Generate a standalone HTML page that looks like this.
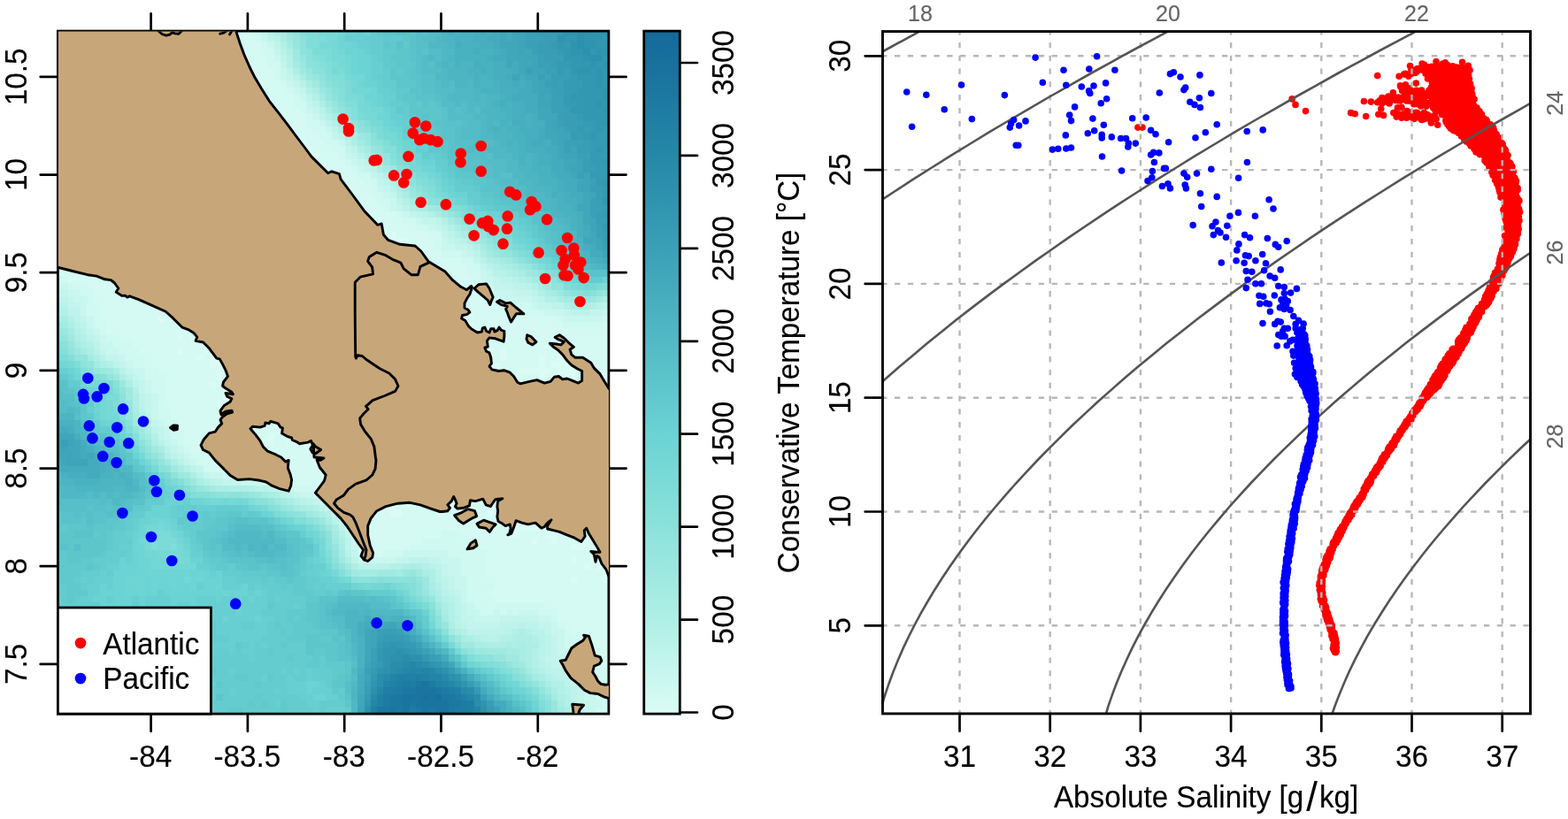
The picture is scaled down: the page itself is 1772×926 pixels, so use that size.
<!DOCTYPE html>
<html lang="en"><head><meta charset="utf-8"><title>Stations map and T-S diagram</title>
<style>html,body{margin:0;padding:0;background:#fff}body{width:1772px;height:926px;overflow:hidden}svg{display:block}</style></head>
<body>
<svg width="1772" height="926" viewBox="0 0 1772 926" font-family="'Liberation Sans', Arial, sans-serif">
<rect width="1772" height="926" fill="#fff"/>
<defs><clipPath id="mc"><rect x="65.4" y="35.1" width="622.5" height="772.0"/></clipPath><clipPath id="lc"><rect x="65.95" y="35.45" width="622.05" height="771.15"/></clipPath><clipPath id="tc"><rect x="997.45" y="35.55" width="732.05" height="771.35"/></clipPath><linearGradient id="cb" x1="0" y1="1" x2="0" y2="0"><stop offset="0.0000" stop-color="rgb(218,252,245)"/><stop offset="0.1362" stop-color="rgb(176,239,230)"/><stop offset="0.2724" stop-color="rgb(140,226,219)"/><stop offset="0.4086" stop-color="rgb(107,211,211)"/><stop offset="0.5448" stop-color="rgb(81,186,197)"/><stop offset="0.6810" stop-color="rgb(58,160,183)"/><stop offset="0.8172" stop-color="rgb(37,136,168)"/><stop offset="0.9534" stop-color="rgb(24,112,157)"/><stop offset="1.0000" stop-color="rgb(20,106,154)"/></linearGradient></defs>
<g clip-path="url(#mc)" shape-rendering="crispEdges">
<rect x="65.4" y="35.1" width="622.5" height="772.0" fill="#d6fbf4"/>
<path fill="#dafcf5" d="M258.4 32.1h7.6v7.7h-7.6zM61.7 39.5h7.6v7.7h-7.6zM61.7 46.8h7.6v7.7h-7.6zM265.7 54.2h7.6v7.7h-7.6zM273 61.6h7.6v7.7h-7.6zM273 69h7.6v7.7h-7.6zM61.7 76.4h7.6v7.7h-7.6zM61.7 83.7h7.6v7.7h-7.6zM280.3 83.7h7.6v7.7h-7.6zM61.7 91.1h7.6v7.7h-7.6zM287.6 91.1h7.6v7.7h-7.6zM61.7 98.5h7.6v7.7h-7.6zM61.7 105.9h7.6v7.7h-7.6zM294.9 105.9h7.6v7.7h-7.6zM61.7 113.2h7.6v7.7h-7.6zM302.2 113.2h7.6v7.7h-7.6zM61.7 128h7.6v7.7h-7.6zM309.5 128h7.6v7.7h-7.6zM61.7 135.4h7.6v7.7h-7.6zM316.7 135.4h7.6v7.7h-7.6zM61.7 150.1h7.6v7.7h-7.6zM324 150.1h7.6v7.7h-7.6zM61.7 157.5h7.6v7.7h-7.6zM331.3 157.5h14.9v7.7h-14.9zM338.6 164.9h14.9v7.7h-14.9zM61.7 172.3h7.6v7.7h-7.6zM353.2 172.3h7.6v7.7h-7.6zM61.7 179.6h7.6v7.7h-7.6zM345.9 179.6h14.9v7.7h-14.9zM61.7 187h7.6v7.7h-7.6zM61.7 194.4h7.6v7.7h-7.6zM360.5 194.4h7.6v7.7h-7.6zM61.7 216.5h7.6v7.7h-7.6zM61.7 223.9h7.6v7.7h-7.6zM61.7 231.3h7.6v7.7h-7.6zM61.7 253.4h7.6v7.7h-7.6zM418.8 253.4h7.6v7.7h-7.6zM61.7 260.8h7.6v7.7h-7.6zM426.1 260.8h22.2v7.7h-22.2zM440.6 268.2h22.2v7.7h-22.2zM61.7 275.5h7.6v7.7h-7.6zM455.2 275.5h7.6v7.7h-7.6zM61.7 282.9h7.6v7.7h-7.6zM469.8 282.9h7.6v7.7h-7.6zM105.4 305h14.9v7.7h-14.9zM127.3 312.4h7.6v7.7h-7.6zM127.3 319.8h14.9v7.7h-14.9zM513.5 319.8h7.6v7.7h-7.6zM134.6 327.2h22.2v7.7h-22.2zM171 341.9h14.9v7.7h-14.9zM520.8 341.9h7.6v7.7h-7.6zM185.6 349.3h7.6v7.7h-7.6zM520.8 349.3h14.9v7.7h-14.9zM178.3 356.7h7.6v7.7h-7.6zM200.2 356.7h7.6v7.7h-7.6zM520.8 356.7h7.6v7.7h-7.6zM200.2 364.1h7.6v7.7h-7.6zM520.8 364.1h14.9v7.7h-14.9zM528.1 371.4h29.4v7.7h-29.4zM200.2 378.8h7.6v7.7h-7.6zM214.7 378.8h22.2v7.7h-22.2zM542.6 378.8h7.6v7.7h-7.6zM557.2 378.8h7.6v7.7h-7.6zM622.8 378.8h7.6v7.7h-7.6zM542.6 386.2h7.6v7.7h-7.6zM615.5 386.2h22.2v7.7h-22.2zM200.2 393.6h7.6v7.7h-7.6zM229.3 393.6h7.6v7.7h-7.6zM542.6 393.6h14.9v7.7h-14.9zM564.5 393.6h7.6v7.7h-7.6zM630.1 393.6h7.6v7.7h-7.6zM222 400.9h7.6v7.7h-7.6zM236.6 400.9h22.2v7.7h-22.2zM549.9 400.9h7.6v7.7h-7.6zM564.5 400.9h7.6v7.7h-7.6zM608.2 400.9h7.6v7.7h-7.6zM630.1 400.9h7.6v7.7h-7.6zM651.9 400.9h7.6v7.7h-7.6zM236.6 408.3h22.2v7.7h-22.2zM557.2 408.3h7.6v7.7h-7.6zM608.2 408.3h7.6v7.7h-7.6zM622.8 408.3h29.4v7.7h-29.4zM243.9 415.7h14.9v7.7h-14.9zM549.9 415.7h22.2v7.7h-22.2zM586.4 415.7h36.7v7.7h-36.7zM630.1 415.7h22.2v7.7h-22.2zM681.1 415.7h7.6v7.7h-7.6zM243.9 423.1h7.6v7.7h-7.6zM258.4 423.1h7.6v7.7h-7.6zM571.8 423.1h14.9v7.7h-14.9zM608.2 423.1h7.6v7.7h-7.6zM622.8 423.1h7.6v7.7h-7.6zM637.4 423.1h14.9v7.7h-14.9zM681.1 423.1h7.6v7.7h-7.6zM236.6 430.4h7.6v7.7h-7.6zM579.1 430.4h22.2v7.7h-22.2zM615.5 430.4h14.9v7.7h-14.9zM637.4 430.4h7.6v7.7h-7.6zM681.1 430.4h7.6v7.7h-7.6zM251.2 437.8h7.6v7.7h-7.6zM251.2 445.2h14.9v7.7h-14.9zM243.9 452.6h22.2v7.7h-22.2zM258.4 460h7.6v7.7h-7.6zM243.9 467.3h22.2v7.7h-22.2zM280.3 474.7h7.6v7.7h-7.6zM309.5 474.7h14.9v7.7h-14.9zM236.6 482.1h14.9v7.7h-14.9zM280.3 482.1h7.6v7.7h-7.6zM309.5 482.1h14.9v7.7h-14.9zM236.6 489.5h7.6v7.7h-7.6zM287.6 489.5h7.6v7.7h-7.6zM302.2 489.5h7.6v7.7h-7.6zM331.3 489.5h7.6v7.7h-7.6zM294.9 496.8h14.9v7.7h-14.9zM324 496.8h36.7v7.7h-36.7zM345.9 504.2h14.9v7.7h-14.9zM353.2 511.6h14.9v7.7h-14.9zM353.2 519h14.9v7.7h-14.9zM360.5 533.7h14.9v7.7h-14.9zM506.2 555.9h14.9v7.7h-14.9zM542.6 555.9h7.6v7.7h-7.6zM557.2 555.9h14.9v7.7h-14.9zM433.3 563.2h51.3v7.7h-51.3zM498.9 563.2h14.9v7.7h-14.9zM528.1 563.2h29.4v7.7h-29.4zM564.5 563.2h7.6v7.7h-7.6zM426.1 570.6h22.2v7.7h-22.2zM528.1 570.6h7.6v7.7h-7.6zM549.9 570.6h14.9v7.7h-14.9zM418.8 578h7.6v7.7h-7.6zM440.6 578h14.9v7.7h-14.9zM491.6 578h7.6v7.7h-7.6zM549.9 578h7.6v7.7h-7.6zM557.2 585.4h51.3v7.7h-51.3zM615.5 585.4h14.9v7.7h-14.9zM579.1 592.7h29.4v7.7h-29.4zM622.8 592.7h14.9v7.7h-14.9zM659.2 592.7h7.6v7.7h-7.6zM579.1 600.1h7.6v7.7h-7.6zM615.5 600.1h14.9v7.7h-14.9zM644.7 600.1h14.9v7.7h-14.9zM600.9 607.5h7.6v7.7h-7.6zM622.8 607.5h7.6v7.7h-7.6zM659.2 607.5h7.6v7.7h-7.6zM673.8 607.5h7.6v7.7h-7.6zM644.7 614.9h22.2v7.7h-22.2zM644.7 629.6h7.6v7.7h-7.6zM666.5 629.6h7.6v7.7h-7.6zM659.2 637h7.6v7.7h-7.6zM673.8 637h7.6v7.7h-7.6zM681.1 644.4h7.6v7.7h-7.6zM644.7 651.8h7.6v7.7h-7.6zM681.1 651.8h7.6v7.7h-7.6z"/>
<path fill="#d4faf3" d="M61.7 32.1h7.6v7.7h-7.6zM265.7 32.1h22.2v7.7h-22.2zM265.7 39.5h22.2v7.7h-22.2zM265.7 46.8h29.4v7.7h-29.4zM61.7 54.2h7.6v7.7h-7.6zM273 54.2h22.2v7.7h-22.2zM61.7 61.6h7.6v7.7h-7.6zM280.3 61.6h22.2v7.7h-22.2zM61.7 69h7.6v7.7h-7.6zM280.3 69h22.2v7.7h-22.2zM280.3 76.4h29.4v7.7h-29.4zM287.6 83.7h22.2v7.7h-22.2zM294.9 91.1h22.2v7.7h-22.2zM287.6 98.5h36.7v7.7h-36.7zM302.2 105.9h29.4v7.7h-29.4zM294.9 113.2h7.6v7.7h-7.6zM309.5 113.2h22.2v7.7h-22.2zM61.7 120.6h7.6v7.7h-7.6zM302.2 120.6h36.7v7.7h-36.7zM316.7 128h29.4v7.7h-29.4zM324 135.4h22.2v7.7h-22.2zM61.7 142.7h7.6v7.7h-7.6zM324 142.7h29.4v7.7h-29.4zM331.3 150.1h29.4v7.7h-29.4zM345.9 157.5h22.2v7.7h-22.2zM61.7 164.9h7.6v7.7h-7.6zM353.2 164.9h22.2v7.7h-22.2zM345.9 172.3h7.6v7.7h-7.6zM360.5 172.3h22.2v7.7h-22.2zM360.5 179.6h29.4v7.7h-29.4zM353.2 187h44v7.7h-44zM367.8 194.4h36.7v7.7h-36.7zM61.7 201.8h7.6v7.7h-7.6zM382.3 201.8h29.4v7.7h-29.4zM61.7 209.1h7.6v7.7h-7.6zM382.3 209.1h36.7v7.7h-36.7zM389.6 216.5h29.4v7.7h-29.4zM396.9 223.9h29.4v7.7h-29.4zM404.2 231.3h29.4v7.7h-29.4zM61.7 238.6h7.6v7.7h-7.6zM404.2 238.6h44v7.7h-44zM61.7 246h7.6v7.7h-7.6zM411.5 246h44v7.7h-44zM426.1 253.4h44v7.7h-44zM447.9 260.8h36.7v7.7h-36.7zM61.7 268.2h7.6v7.7h-7.6zM433.3 268.2h7.6v7.7h-7.6zM462.5 268.2h29.4v7.7h-29.4zM440.6 275.5h14.9v7.7h-14.9zM462.5 275.5h29.4v7.7h-29.4zM477.1 282.9h22.2v7.7h-22.2zM61.7 290.3h7.6v7.7h-7.6zM477.1 290.3h44v7.7h-44zM61.7 297.7h22.2v7.7h-22.2zM484.3 297.7h44v7.7h-44zM61.7 305h44v7.7h-44zM491.6 305h36.7v7.7h-36.7zM76.3 312.4h51.3v7.7h-51.3zM498.9 312.4h36.7v7.7h-36.7zM98.1 319.8h29.4v7.7h-29.4zM506.2 319.8h7.6v7.7h-7.6zM520.8 319.8h22.2v7.7h-22.2zM105.4 327.2h29.4v7.7h-29.4zM520.8 327.2h22.2v7.7h-22.2zM105.4 334.5h65.9v7.7h-65.9zM520.8 334.5h29.4v7.7h-29.4zM112.7 341.9h58.6v7.7h-58.6zM528.1 341.9h29.4v7.7h-29.4zM112.7 349.3h73.2v7.7h-73.2zM192.9 349.3h7.6v7.7h-7.6zM535.4 349.3h58.6v7.7h-58.6zM112.7 356.7h65.9v7.7h-65.9zM185.6 356.7h14.9v7.7h-14.9zM513.5 356.7h7.6v7.7h-7.6zM528.1 356.7h102.3v7.7h-102.3zM120 364.1h80.5v7.7h-80.5zM207.4 364.1h7.6v7.7h-7.6zM535.4 364.1h102.3v7.7h-102.3zM681.1 364.1h7.6v7.7h-7.6zM120 371.4h109.6v7.7h-109.6zM557.2 371.4h131.5v7.7h-131.5zM134.6 378.8h65.9v7.7h-65.9zM207.4 378.8h7.6v7.7h-7.6zM549.9 378.8h7.6v7.7h-7.6zM564.5 378.8h58.6v7.7h-58.6zM630.1 378.8h58.6v7.7h-58.6zM149.1 386.2h95v7.7h-95zM549.9 386.2h65.9v7.7h-65.9zM637.4 386.2h51.3v7.7h-51.3zM156.4 393.6h44v7.7h-44zM207.4 393.6h22.2v7.7h-22.2zM236.6 393.6h7.6v7.7h-7.6zM557.2 393.6h7.6v7.7h-7.6zM571.8 393.6h58.6v7.7h-58.6zM637.4 393.6h51.3v7.7h-51.3zM163.7 400.9h58.6v7.7h-58.6zM229.3 400.9h7.6v7.7h-7.6zM557.2 400.9h7.6v7.7h-7.6zM571.8 400.9h36.7v7.7h-36.7zM615.5 400.9h14.9v7.7h-14.9zM637.4 400.9h14.9v7.7h-14.9zM659.2 400.9h29.4v7.7h-29.4zM171 408.3h65.9v7.7h-65.9zM549.9 408.3h7.6v7.7h-7.6zM564.5 408.3h44v7.7h-44zM615.5 408.3h7.6v7.7h-7.6zM651.9 408.3h36.7v7.7h-36.7zM178.3 415.7h65.9v7.7h-65.9zM571.8 415.7h14.9v7.7h-14.9zM622.8 415.7h7.6v7.7h-7.6zM651.9 415.7h7.6v7.7h-7.6zM666.5 415.7h14.9v7.7h-14.9zM185.6 423.1h58.6v7.7h-58.6zM251.2 423.1h7.6v7.7h-7.6zM586.4 423.1h22.2v7.7h-22.2zM615.5 423.1h7.6v7.7h-7.6zM630.1 423.1h7.6v7.7h-7.6zM651.9 423.1h7.6v7.7h-7.6zM673.8 423.1h7.6v7.7h-7.6zM185.6 430.4h51.3v7.7h-51.3zM243.9 430.4h14.9v7.7h-14.9zM600.9 430.4h14.9v7.7h-14.9zM644.7 430.4h14.9v7.7h-14.9zM673.8 430.4h7.6v7.7h-7.6zM185.6 437.8h65.9v7.7h-65.9zM258.4 437.8h7.6v7.7h-7.6zM681.1 437.8h7.6v7.7h-7.6zM185.6 445.2h65.9v7.7h-65.9zM185.6 452.6h58.6v7.7h-58.6zM192.9 460h65.9v7.7h-65.9zM192.9 467.3h51.3v7.7h-51.3zM200.2 474.7h58.6v7.7h-58.6zM287.6 474.7h22.2v7.7h-22.2zM200.2 482.1h36.7v7.7h-36.7zM287.6 482.1h22.2v7.7h-22.2zM207.4 489.5h29.4v7.7h-29.4zM243.9 489.5h7.6v7.7h-7.6zM280.3 489.5h7.6v7.7h-7.6zM294.9 489.5h7.6v7.7h-7.6zM309.5 489.5h22.2v7.7h-22.2zM207.4 496.8h29.4v7.7h-29.4zM287.6 496.8h7.6v7.7h-7.6zM309.5 496.8h14.9v7.7h-14.9zM214.7 504.2h29.4v7.7h-29.4zM294.9 504.2h51.3v7.7h-51.3zM229.3 511.6h14.9v7.7h-14.9zM294.9 511.6h58.6v7.7h-58.6zM229.3 519h22.2v7.7h-22.2zM316.7 519h36.7v7.7h-36.7zM243.9 526.3h22.2v7.7h-22.2zM316.7 526.3h51.3v7.7h-51.3zM273 533.7h22.2v7.7h-22.2zM324 533.7h36.7v7.7h-36.7zM324 541.1h51.3v7.7h-51.3zM353.2 548.5h14.9v7.7h-14.9zM513.5 563.2h7.6v7.7h-7.6zM557.2 563.2h7.6v7.7h-7.6zM418.8 570.6h7.6v7.7h-7.6zM447.9 570.6h80.5v7.7h-80.5zM535.4 570.6h14.9v7.7h-14.9zM411.5 578h7.6v7.7h-7.6zM426.1 578h14.9v7.7h-14.9zM455.2 578h36.7v7.7h-36.7zM498.9 578h51.3v7.7h-51.3zM557.2 578h7.6v7.7h-7.6zM411.5 585.4h146v7.7h-146zM608.2 585.4h7.6v7.7h-7.6zM411.5 592.7h167.9v7.7h-167.9zM608.2 592.7h14.9v7.7h-14.9zM651.9 592.7h7.6v7.7h-7.6zM411.5 600.1h87.7v7.7h-87.7zM520.8 600.1h58.6v7.7h-58.6zM586.4 600.1h29.4v7.7h-29.4zM630.1 600.1h14.9v7.7h-14.9zM659.2 600.1h14.9v7.7h-14.9zM411.5 607.5h65.9v7.7h-65.9zM535.4 607.5h65.9v7.7h-65.9zM608.2 607.5h14.9v7.7h-14.9zM630.1 607.5h29.4v7.7h-29.4zM666.5 607.5h7.6v7.7h-7.6zM411.5 614.9h51.3v7.7h-51.3zM542.6 614.9h102.3v7.7h-102.3zM666.5 614.9h14.9v7.7h-14.9zM411.5 622.2h22.2v7.7h-22.2zM549.9 622.2h131.5v7.7h-131.5zM549.9 629.6h95v7.7h-95zM651.9 629.6h14.9v7.7h-14.9zM673.8 629.6h14.9v7.7h-14.9zM549.9 637h109.6v7.7h-109.6zM666.5 637h7.6v7.7h-7.6zM681.1 637h7.6v7.7h-7.6zM549.9 644.4h131.5v7.7h-131.5zM549.9 651.8h95v7.7h-95zM651.9 651.8h29.4v7.7h-29.4zM557.2 659.1h131.5v7.7h-131.5zM549.9 666.5h138.8v7.7h-138.8zM557.2 673.9h131.5v7.7h-131.5zM615.5 681.3h73.2v7.7h-73.2zM630.1 688.6h58.6v7.7h-58.6zM630.1 696h58.6v7.7h-58.6zM637.4 703.4h51.3v7.7h-51.3zM644.7 710.8h44v7.7h-44zM651.9 718.2h36.7v7.7h-36.7zM651.9 725.5h36.7v7.7h-36.7zM666.5 732.9h22.2v7.7h-22.2zM666.5 740.3h22.2v7.7h-22.2zM673.8 747.7h14.9v7.7h-14.9z"/>
<path fill="#cff9f1" d="M287.6 32.1h7.6v7.7h-7.6zM287.6 39.5h7.6v7.7h-7.6zM294.9 46.8h7.6v7.7h-7.6zM294.9 54.2h14.9v7.7h-14.9zM302.2 61.6h7.6v7.7h-7.6zM302.2 69h14.9v7.7h-14.9zM309.5 76.4h7.6v7.7h-7.6zM309.5 83.7h7.6v7.7h-7.6zM316.7 91.1h7.6v7.7h-7.6zM324 98.5h7.6v7.7h-7.6zM331.3 105.9h7.6v7.7h-7.6zM331.3 113.2h14.9v7.7h-14.9zM338.6 120.6h7.6v7.7h-7.6zM345.9 128h7.6v7.7h-7.6zM345.9 135.4h14.9v7.7h-14.9zM353.2 142.7h14.9v7.7h-14.9zM360.5 150.1h14.9v7.7h-14.9zM367.8 157.5h14.9v7.7h-14.9zM375 164.9h14.9v7.7h-14.9zM382.3 172.3h7.6v7.7h-7.6zM389.6 179.6h7.6v7.7h-7.6zM396.9 187h7.6v7.7h-7.6zM404.2 194.4h14.9v7.7h-14.9zM411.5 201.8h14.9v7.7h-14.9zM418.8 209.1h7.6v7.7h-7.6zM418.8 216.5h14.9v7.7h-14.9zM426.1 223.9h14.9v7.7h-14.9zM433.3 231.3h7.6v7.7h-7.6zM447.9 238.6h7.6v7.7h-7.6zM455.2 246h14.9v7.7h-14.9zM469.8 253.4h14.9v7.7h-14.9zM484.3 260.8h14.9v7.7h-14.9zM491.6 268.2h7.6v7.7h-7.6zM491.6 275.5h7.6v7.7h-7.6zM498.9 282.9h22.2v7.7h-22.2zM520.8 290.3h14.9v7.7h-14.9zM528.1 297.7h14.9v7.7h-14.9zM528.1 305h14.9v7.7h-14.9zM69 312.4h7.6v7.7h-7.6zM535.4 312.4h7.6v7.7h-7.6zM76.3 319.8h22.2v7.7h-22.2zM542.6 319.8h7.6v7.7h-7.6zM90.8 327.2h14.9v7.7h-14.9zM542.6 327.2h14.9v7.7h-14.9zM98.1 334.5h7.6v7.7h-7.6zM549.9 334.5h14.9v7.7h-14.9zM98.1 341.9h14.9v7.7h-14.9zM557.2 341.9h44v7.7h-44zM98.1 349.3h14.9v7.7h-14.9zM593.7 349.3h22.2v7.7h-22.2zM105.4 356.7h7.6v7.7h-7.6zM630.1 356.7h7.6v7.7h-7.6zM681.1 356.7h7.6v7.7h-7.6zM105.4 364.1h14.9v7.7h-14.9zM637.4 364.1h44v7.7h-44zM112.7 371.4h7.6v7.7h-7.6zM120 378.8h14.9v7.7h-14.9zM127.3 386.2h22.2v7.7h-22.2zM134.6 393.6h22.2v7.7h-22.2zM141.9 400.9h22.2v7.7h-22.2zM149.1 408.3h22.2v7.7h-22.2zM163.7 415.7h14.9v7.7h-14.9zM163.7 423.1h22.2v7.7h-22.2zM171 430.4h14.9v7.7h-14.9zM171 437.8h14.9v7.7h-14.9zM178.3 445.2h7.6v7.7h-7.6zM178.3 452.6h7.6v7.7h-7.6zM178.3 460h14.9v7.7h-14.9zM178.3 467.3h14.9v7.7h-14.9zM185.6 474.7h14.9v7.7h-14.9zM192.9 482.1h7.6v7.7h-7.6zM192.9 489.5h14.9v7.7h-14.9zM200.2 496.8h7.6v7.7h-7.6zM207.4 504.2h7.6v7.7h-7.6zM214.7 511.6h14.9v7.7h-14.9zM222 519h7.6v7.7h-7.6zM229.3 526.3h14.9v7.7h-14.9zM251.2 533.7h22.2v7.7h-22.2zM294.9 541.1h22.2v7.7h-22.2zM331.3 548.5h22.2v7.7h-22.2zM353.2 555.9h14.9v7.7h-14.9zM367.8 563.2h7.6v7.7h-7.6zM375 570.6h7.6v7.7h-7.6zM382.3 578h7.6v7.7h-7.6zM389.6 585.4h7.6v7.7h-7.6zM396.9 592.7h7.6v7.7h-7.6zM396.9 600.1h7.6v7.7h-7.6zM498.9 600.1h22.2v7.7h-22.2zM404.2 607.5h7.6v7.7h-7.6zM477.1 607.5h58.6v7.7h-58.6zM404.2 614.9h7.6v7.7h-7.6zM462.5 614.9h80.5v7.7h-80.5zM404.2 622.2h7.6v7.7h-7.6zM433.3 622.2h22.2v7.7h-22.2zM506.2 622.2h44v7.7h-44zM520.8 629.6h29.4v7.7h-29.4zM520.8 637h29.4v7.7h-29.4zM520.8 644.4h29.4v7.7h-29.4zM528.1 651.8h22.2v7.7h-22.2zM528.1 659.1h29.4v7.7h-29.4zM528.1 666.5h22.2v7.7h-22.2zM528.1 673.9h29.4v7.7h-29.4zM535.4 681.3h80.5v7.7h-80.5zM542.6 688.6h14.9v7.7h-14.9zM564.5 688.6h7.6v7.7h-7.6zM579.1 688.6h7.6v7.7h-7.6zM608.2 688.6h22.2v7.7h-22.2zM622.8 696h7.6v7.7h-7.6zM630.1 703.4h7.6v7.7h-7.6zM637.4 710.8h7.6v7.7h-7.6zM637.4 718.2h14.9v7.7h-14.9zM637.4 725.5h14.9v7.7h-14.9zM644.7 732.9h7.6v7.7h-7.6zM666.5 747.7h7.6v7.7h-7.6zM666.5 755h22.2v7.7h-22.2zM666.5 762.4h22.2v7.7h-22.2zM673.8 769.8h14.9v7.7h-14.9zM673.8 777.2h7.6v7.7h-7.6zM673.8 784.5h14.9v7.7h-14.9zM681.1 791.9h7.6v7.7h-7.6zM673.8 799.3h14.9v7.7h-14.9zM673.8 806.7h14.9v7.7h-14.9z"/>
<path fill="#c9f7ef" d="M294.9 39.5h7.6v7.7h-7.6zM302.2 46.8h7.6v7.7h-7.6zM309.5 61.6h7.6v7.7h-7.6zM316.7 76.4h7.6v7.7h-7.6zM316.7 83.7h7.6v7.7h-7.6zM324 91.1h7.6v7.7h-7.6zM331.3 98.5h7.6v7.7h-7.6zM338.6 105.9h7.6v7.7h-7.6zM345.9 120.6h7.6v7.7h-7.6zM353.2 128h7.6v7.7h-7.6zM360.5 135.4h7.6v7.7h-7.6zM367.8 142.7h7.6v7.7h-7.6zM382.3 157.5h7.6v7.7h-7.6zM389.6 172.3h7.6v7.7h-7.6zM396.9 179.6h7.6v7.7h-7.6zM404.2 187h7.6v7.7h-7.6zM426.1 209.1h7.6v7.7h-7.6zM433.3 216.5h7.6v7.7h-7.6zM440.6 223.9h7.6v7.7h-7.6zM440.6 231.3h7.6v7.7h-7.6zM455.2 238.6h7.6v7.7h-7.6zM469.8 246h7.6v7.7h-7.6zM484.3 253.4h7.6v7.7h-7.6zM498.9 268.2h7.6v7.7h-7.6zM498.9 275.5h14.9v7.7h-14.9zM520.8 282.9h7.6v7.7h-7.6zM542.6 305h7.6v7.7h-7.6zM61.7 312.4h7.6v7.7h-7.6zM542.6 312.4h14.9v7.7h-14.9zM69 319.8h7.6v7.7h-7.6zM549.9 319.8h7.6v7.7h-7.6zM76.3 327.2h14.9v7.7h-14.9zM557.2 327.2h22.2v7.7h-22.2zM83.6 334.5h14.9v7.7h-14.9zM564.5 334.5h36.7v7.7h-36.7zM90.8 341.9h7.6v7.7h-7.6zM600.9 341.9h7.6v7.7h-7.6zM90.8 349.3h7.6v7.7h-7.6zM615.5 349.3h22.2v7.7h-22.2zM681.1 349.3h7.6v7.7h-7.6zM98.1 356.7h7.6v7.7h-7.6zM637.4 356.7h44v7.7h-44zM98.1 364.1h7.6v7.7h-7.6zM105.4 371.4h7.6v7.7h-7.6zM112.7 378.8h7.6v7.7h-7.6zM112.7 386.2h14.9v7.7h-14.9zM120 393.6h14.9v7.7h-14.9zM134.6 400.9h7.6v7.7h-7.6zM141.9 408.3h7.6v7.7h-7.6zM149.1 415.7h14.9v7.7h-14.9zM156.4 423.1h7.6v7.7h-7.6zM163.7 430.4h7.6v7.7h-7.6zM163.7 437.8h7.6v7.7h-7.6zM171 445.2h7.6v7.7h-7.6zM171 452.6h7.6v7.7h-7.6zM171 460h7.6v7.7h-7.6zM171 467.3h7.6v7.7h-7.6zM178.3 474.7h7.6v7.7h-7.6zM185.6 482.1h7.6v7.7h-7.6zM185.6 489.5h7.6v7.7h-7.6zM192.9 496.8h7.6v7.7h-7.6zM200.2 504.2h7.6v7.7h-7.6zM207.4 511.6h7.6v7.7h-7.6zM214.7 519h7.6v7.7h-7.6zM236.6 533.7h14.9v7.7h-14.9zM273 541.1h22.2v7.7h-22.2zM316.7 548.5h14.9v7.7h-14.9zM338.6 555.9h14.9v7.7h-14.9zM360.5 563.2h7.6v7.7h-7.6zM382.3 585.4h7.6v7.7h-7.6zM389.6 592.7h7.6v7.7h-7.6zM396.9 607.5h7.6v7.7h-7.6zM396.9 614.9h7.6v7.7h-7.6zM455.2 622.2h51.3v7.7h-51.3zM404.2 629.6h44v7.7h-44zM498.9 629.6h22.2v7.7h-22.2zM506.2 637h14.9v7.7h-14.9zM506.2 644.4h14.9v7.7h-14.9zM513.5 651.8h14.9v7.7h-14.9zM513.5 659.1h14.9v7.7h-14.9zM520.8 666.5h7.6v7.7h-7.6zM520.8 673.9h7.6v7.7h-7.6zM528.1 681.3h7.6v7.7h-7.6zM528.1 688.6h14.9v7.7h-14.9zM557.2 688.6h7.6v7.7h-7.6zM571.8 688.6h7.6v7.7h-7.6zM586.4 688.6h22.2v7.7h-22.2zM535.4 696h29.4v7.7h-29.4zM608.2 696h14.9v7.7h-14.9zM622.8 703.4h7.6v7.7h-7.6zM622.8 710.8h14.9v7.7h-14.9zM630.1 718.2h7.6v7.7h-7.6zM630.1 725.5h7.6v7.7h-7.6zM630.1 732.9h14.9v7.7h-14.9zM637.4 740.3h7.6v7.7h-7.6zM659.2 769.8h7.6v7.7h-7.6zM659.2 777.2h14.9v7.7h-14.9zM659.2 784.5h14.9v7.7h-14.9zM666.5 791.9h14.9v7.7h-14.9zM666.5 799.3h7.6v7.7h-7.6zM666.5 806.7h7.6v7.7h-7.6z"/>
<path fill="#c4f5ed" d="M294.9 32.1h7.6v7.7h-7.6zM309.5 54.2h7.6v7.7h-7.6zM316.7 69h7.6v7.7h-7.6zM324 83.7h7.6v7.7h-7.6zM331.3 91.1h7.6v7.7h-7.6zM338.6 98.5h7.6v7.7h-7.6zM345.9 113.2h7.6v7.7h-7.6zM353.2 120.6h7.6v7.7h-7.6zM375 150.1h7.6v7.7h-7.6zM389.6 164.9h7.6v7.7h-7.6zM396.9 172.3h7.6v7.7h-7.6zM404.2 179.6h7.6v7.7h-7.6zM411.5 187h7.6v7.7h-7.6zM418.8 194.4h7.6v7.7h-7.6zM426.1 201.8h7.6v7.7h-7.6zM433.3 209.1h7.6v7.7h-7.6zM440.6 216.5h7.6v7.7h-7.6zM447.9 231.3h7.6v7.7h-7.6zM462.5 238.6h7.6v7.7h-7.6zM477.1 246h14.9v7.7h-14.9zM491.6 253.4h7.6v7.7h-7.6zM498.9 260.8h7.6v7.7h-7.6zM506.2 268.2h7.6v7.7h-7.6zM513.5 275.5h14.9v7.7h-14.9zM528.1 282.9h7.6v7.7h-7.6zM535.4 290.3h7.6v7.7h-7.6zM542.6 297.7h7.6v7.7h-7.6zM549.9 305h7.6v7.7h-7.6zM557.2 312.4h7.6v7.7h-7.6zM61.7 319.8h7.6v7.7h-7.6zM557.2 319.8h22.2v7.7h-22.2zM69 327.2h7.6v7.7h-7.6zM579.1 327.2h22.2v7.7h-22.2zM76.3 334.5h7.6v7.7h-7.6zM600.9 334.5h7.6v7.7h-7.6zM76.3 341.9h14.9v7.7h-14.9zM608.2 341.9h14.9v7.7h-14.9zM637.4 349.3h7.6v7.7h-7.6zM666.5 349.3h14.9v7.7h-14.9zM90.8 356.7h7.6v7.7h-7.6zM98.1 371.4h7.6v7.7h-7.6zM105.4 378.8h7.6v7.7h-7.6zM112.7 393.6h7.6v7.7h-7.6zM120 400.9h14.9v7.7h-14.9zM134.6 408.3h7.6v7.7h-7.6zM141.9 415.7h7.6v7.7h-7.6zM149.1 423.1h7.6v7.7h-7.6zM156.4 430.4h7.6v7.7h-7.6zM156.4 437.8h7.6v7.7h-7.6zM163.7 445.2h7.6v7.7h-7.6zM163.7 452.6h7.6v7.7h-7.6zM163.7 460h7.6v7.7h-7.6zM171 474.7h7.6v7.7h-7.6zM178.3 482.1h7.6v7.7h-7.6zM178.3 489.5h7.6v7.7h-7.6zM185.6 496.8h7.6v7.7h-7.6zM192.9 504.2h7.6v7.7h-7.6zM200.2 511.6h7.6v7.7h-7.6zM207.4 519h7.6v7.7h-7.6zM222 526.3h7.6v7.7h-7.6zM229.3 533.7h7.6v7.7h-7.6zM251.2 541.1h22.2v7.7h-22.2zM309.5 548.5h7.6v7.7h-7.6zM331.3 555.9h7.6v7.7h-7.6zM353.2 563.2h7.6v7.7h-7.6zM367.8 570.6h7.6v7.7h-7.6zM375 578h7.6v7.7h-7.6zM389.6 600.1h7.6v7.7h-7.6zM396.9 622.2h7.6v7.7h-7.6zM447.9 629.6h14.9v7.7h-14.9zM484.3 629.6h14.9v7.7h-14.9zM498.9 637h7.6v7.7h-7.6zM498.9 644.4h7.6v7.7h-7.6zM506.2 651.8h7.6v7.7h-7.6zM506.2 659.1h7.6v7.7h-7.6zM513.5 666.5h7.6v7.7h-7.6zM520.8 681.3h7.6v7.7h-7.6zM520.8 688.6h7.6v7.7h-7.6zM520.8 696h14.9v7.7h-14.9zM564.5 696h44v7.7h-44zM528.1 703.4h36.7v7.7h-36.7zM608.2 703.4h14.9v7.7h-14.9zM615.5 710.8h7.6v7.7h-7.6zM622.8 718.2h7.6v7.7h-7.6zM622.8 725.5h7.6v7.7h-7.6zM622.8 732.9h7.6v7.7h-7.6zM615.5 740.3h22.2v7.7h-22.2zM622.8 747.7h22.2v7.7h-22.2zM637.4 755h7.6v7.7h-7.6zM644.7 762.4h7.6v7.7h-7.6zM644.7 769.8h14.9v7.7h-14.9zM651.9 777.2h7.6v7.7h-7.6zM651.9 784.5h7.6v7.7h-7.6zM651.9 791.9h14.9v7.7h-14.9zM659.2 799.3h7.6v7.7h-7.6zM659.2 806.7h7.6v7.7h-7.6z"/>
<path fill="#bef3eb" d="M302.2 39.5h7.6v7.7h-7.6zM309.5 46.8h7.6v7.7h-7.6zM316.7 61.6h7.6v7.7h-7.6zM324 76.4h7.6v7.7h-7.6zM345.9 105.9h7.6v7.7h-7.6zM353.2 113.2h7.6v7.7h-7.6zM360.5 128h7.6v7.7h-7.6zM367.8 135.4h7.6v7.7h-7.6zM375 142.7h7.6v7.7h-7.6zM382.3 150.1h7.6v7.7h-7.6zM396.9 164.9h7.6v7.7h-7.6zM411.5 179.6h7.6v7.7h-7.6zM418.8 187h7.6v7.7h-7.6zM426.1 194.4h7.6v7.7h-7.6zM433.3 201.8h7.6v7.7h-7.6zM447.9 223.9h7.6v7.7h-7.6zM455.2 231.3h7.6v7.7h-7.6zM469.8 238.6h7.6v7.7h-7.6zM491.6 246h7.6v7.7h-7.6zM498.9 253.4h7.6v7.7h-7.6zM506.2 260.8h7.6v7.7h-7.6zM513.5 268.2h7.6v7.7h-7.6zM528.1 275.5h7.6v7.7h-7.6zM535.4 282.9h7.6v7.7h-7.6zM564.5 312.4h14.9v7.7h-14.9zM579.1 319.8h14.9v7.7h-14.9zM61.7 327.2h7.6v7.7h-7.6zM600.9 327.2h7.6v7.7h-7.6zM69 334.5h7.6v7.7h-7.6zM608.2 334.5h7.6v7.7h-7.6zM622.8 341.9h14.9v7.7h-14.9zM681.1 341.9h7.6v7.7h-7.6zM76.3 349.3h14.9v7.7h-14.9zM644.7 349.3h14.9v7.7h-14.9zM83.6 356.7h7.6v7.7h-7.6zM90.8 364.1h7.6v7.7h-7.6zM98.1 378.8h7.6v7.7h-7.6zM105.4 386.2h7.6v7.7h-7.6zM127.3 408.3h7.6v7.7h-7.6zM149.1 430.4h7.6v7.7h-7.6zM156.4 445.2h7.6v7.7h-7.6zM156.4 452.6h7.6v7.7h-7.6zM163.7 467.3h7.6v7.7h-7.6zM171 482.1h7.6v7.7h-7.6zM192.9 511.6h7.6v7.7h-7.6zM214.7 526.3h7.6v7.7h-7.6zM243.9 541.1h7.6v7.7h-7.6zM302.2 548.5h7.6v7.7h-7.6zM324 555.9h7.6v7.7h-7.6zM345.9 563.2h7.6v7.7h-7.6zM360.5 570.6h7.6v7.7h-7.6zM382.3 592.7h7.6v7.7h-7.6zM389.6 607.5h7.6v7.7h-7.6zM389.6 614.9h7.6v7.7h-7.6zM396.9 629.6h7.6v7.7h-7.6zM462.5 629.6h22.2v7.7h-22.2zM418.8 637h7.6v7.7h-7.6zM491.6 637h7.6v7.7h-7.6zM498.9 651.8h7.6v7.7h-7.6zM498.9 659.1h7.6v7.7h-7.6zM506.2 666.5h7.6v7.7h-7.6zM513.5 673.9h7.6v7.7h-7.6zM513.5 681.3h7.6v7.7h-7.6zM513.5 688.6h7.6v7.7h-7.6zM520.8 703.4h7.6v7.7h-7.6zM564.5 703.4h22.2v7.7h-22.2zM593.7 703.4h14.9v7.7h-14.9zM528.1 710.8h44v7.7h-44zM615.5 718.2h7.6v7.7h-7.6zM615.5 725.5h7.6v7.7h-7.6zM615.5 732.9h7.6v7.7h-7.6zM608.2 740.3h7.6v7.7h-7.6zM615.5 747.7h7.6v7.7h-7.6zM622.8 755h14.9v7.7h-14.9zM630.1 762.4h14.9v7.7h-14.9zM637.4 769.8h7.6v7.7h-7.6zM644.7 777.2h7.6v7.7h-7.6zM644.7 784.5h7.6v7.7h-7.6zM651.9 799.3h7.6v7.7h-7.6zM651.9 806.7h7.6v7.7h-7.6z"/>
<path fill="#b9f2e9" d="M302.2 32.1h7.6v7.7h-7.6zM309.5 39.5h7.6v7.7h-7.6zM316.7 54.2h7.6v7.7h-7.6zM331.3 83.7h7.6v7.7h-7.6zM338.6 91.1h7.6v7.7h-7.6zM360.5 120.6h7.6v7.7h-7.6zM389.6 157.5h7.6v7.7h-7.6zM404.2 172.3h7.6v7.7h-7.6zM440.6 209.1h7.6v7.7h-7.6zM477.1 238.6h7.6v7.7h-7.6zM520.8 268.2h7.6v7.7h-7.6zM542.6 290.3h7.6v7.7h-7.6zM549.9 297.7h7.6v7.7h-7.6zM557.2 305h14.9v7.7h-14.9zM579.1 312.4h7.6v7.7h-7.6zM593.7 319.8h7.6v7.7h-7.6zM61.7 334.5h7.6v7.7h-7.6zM69 341.9h7.6v7.7h-7.6zM673.8 341.9h7.6v7.7h-7.6zM659.2 349.3h7.6v7.7h-7.6zM83.6 364.1h7.6v7.7h-7.6zM90.8 371.4h7.6v7.7h-7.6zM105.4 393.6h7.6v7.7h-7.6zM112.7 400.9h7.6v7.7h-7.6zM134.6 415.7h7.6v7.7h-7.6zM141.9 423.1h7.6v7.7h-7.6zM156.4 460h7.6v7.7h-7.6zM163.7 474.7h7.6v7.7h-7.6zM178.3 496.8h7.6v7.7h-7.6zM185.6 504.2h7.6v7.7h-7.6zM200.2 519h7.6v7.7h-7.6zM222 533.7h7.6v7.7h-7.6zM236.6 541.1h7.6v7.7h-7.6zM287.6 548.5h14.9v7.7h-14.9zM316.7 555.9h7.6v7.7h-7.6zM338.6 563.2h7.6v7.7h-7.6zM375 585.4h7.6v7.7h-7.6zM389.6 622.2h7.6v7.7h-7.6zM404.2 637h14.9v7.7h-14.9zM426.1 637h14.9v7.7h-14.9zM484.3 637h7.6v7.7h-7.6zM491.6 644.4h7.6v7.7h-7.6zM491.6 651.8h7.6v7.7h-7.6zM498.9 666.5h7.6v7.7h-7.6zM506.2 673.9h7.6v7.7h-7.6zM513.5 696h7.6v7.7h-7.6zM513.5 703.4h7.6v7.7h-7.6zM586.4 703.4h7.6v7.7h-7.6zM571.8 710.8h7.6v7.7h-7.6zM600.9 710.8h14.9v7.7h-14.9zM542.6 718.2h22.2v7.7h-22.2zM608.2 718.2h7.6v7.7h-7.6zM608.2 725.5h7.6v7.7h-7.6zM608.2 732.9h7.6v7.7h-7.6zM608.2 747.7h7.6v7.7h-7.6zM615.5 755h7.6v7.7h-7.6zM622.8 762.4h7.6v7.7h-7.6zM637.4 777.2h7.6v7.7h-7.6zM644.7 791.9h7.6v7.7h-7.6zM644.7 799.3h7.6v7.7h-7.6zM644.7 806.7h7.6v7.7h-7.6z"/>
<path fill="#b3f0e7" d="M316.7 46.8h7.6v7.7h-7.6zM324 61.6h7.6v7.7h-7.6zM324 69h7.6v7.7h-7.6zM345.9 98.5h7.6v7.7h-7.6zM353.2 105.9h7.6v7.7h-7.6zM367.8 128h7.6v7.7h-7.6zM375 135.4h7.6v7.7h-7.6zM382.3 142.7h7.6v7.7h-7.6zM389.6 150.1h7.6v7.7h-7.6zM418.8 179.6h7.6v7.7h-7.6zM433.3 194.4h7.6v7.7h-7.6zM440.6 201.8h7.6v7.7h-7.6zM447.9 216.5h7.6v7.7h-7.6zM455.2 223.9h7.6v7.7h-7.6zM462.5 231.3h7.6v7.7h-7.6zM484.3 238.6h7.6v7.7h-7.6zM498.9 246h7.6v7.7h-7.6zM506.2 253.4h7.6v7.7h-7.6zM513.5 260.8h7.6v7.7h-7.6zM535.4 275.5h7.6v7.7h-7.6zM557.2 297.7h7.6v7.7h-7.6zM571.8 305h7.6v7.7h-7.6zM586.4 312.4h7.6v7.7h-7.6zM600.9 319.8h7.6v7.7h-7.6zM608.2 327.2h7.6v7.7h-7.6zM615.5 334.5h14.9v7.7h-14.9zM61.7 341.9h7.6v7.7h-7.6zM637.4 341.9h7.6v7.7h-7.6zM666.5 341.9h7.6v7.7h-7.6zM69 349.3h7.6v7.7h-7.6zM76.3 356.7h7.6v7.7h-7.6zM83.6 371.4h7.6v7.7h-7.6zM90.8 378.8h7.6v7.7h-7.6zM98.1 386.2h7.6v7.7h-7.6zM120 408.3h7.6v7.7h-7.6zM149.1 437.8h7.6v7.7h-7.6zM156.4 467.3h7.6v7.7h-7.6zM171 489.5h7.6v7.7h-7.6zM185.6 511.6h7.6v7.7h-7.6zM207.4 526.3h7.6v7.7h-7.6zM229.3 541.1h7.6v7.7h-7.6zM280.3 548.5h7.6v7.7h-7.6zM331.3 563.2h7.6v7.7h-7.6zM353.2 570.6h7.6v7.7h-7.6zM367.8 578h7.6v7.7h-7.6zM382.3 600.1h7.6v7.7h-7.6zM440.6 637h14.9v7.7h-14.9zM477.1 637h7.6v7.7h-7.6zM491.6 659.1h7.6v7.7h-7.6zM498.9 673.9h7.6v7.7h-7.6zM506.2 681.3h7.6v7.7h-7.6zM506.2 688.6h7.6v7.7h-7.6zM506.2 696h7.6v7.7h-7.6zM520.8 710.8h7.6v7.7h-7.6zM579.1 710.8h7.6v7.7h-7.6zM593.7 710.8h7.6v7.7h-7.6zM535.4 718.2h7.6v7.7h-7.6zM564.5 718.2h14.9v7.7h-14.9zM600.9 718.2h7.6v7.7h-7.6zM600.9 732.9h7.6v7.7h-7.6zM600.9 740.3h7.6v7.7h-7.6zM600.9 747.7h7.6v7.7h-7.6zM608.2 755h7.6v7.7h-7.6zM615.5 762.4h7.6v7.7h-7.6zM622.8 769.8h14.9v7.7h-14.9zM630.1 777.2h7.6v7.7h-7.6zM637.4 784.5h7.6v7.7h-7.6zM637.4 791.9h7.6v7.7h-7.6z"/>
<path fill="#aeeee5" d="M309.5 32.1h7.6v7.7h-7.6zM324 54.2h7.6v7.7h-7.6zM331.3 76.4h7.6v7.7h-7.6zM360.5 113.2h7.6v7.7h-7.6zM396.9 157.5h7.6v7.7h-7.6zM404.2 164.9h7.6v7.7h-7.6zM411.5 172.3h7.6v7.7h-7.6zM426.1 187h7.6v7.7h-7.6zM447.9 209.1h7.6v7.7h-7.6zM469.8 231.3h7.6v7.7h-7.6zM528.1 268.2h7.6v7.7h-7.6zM542.6 282.9h7.6v7.7h-7.6zM549.9 290.3h7.6v7.7h-7.6zM564.5 297.7h7.6v7.7h-7.6zM579.1 305h7.6v7.7h-7.6zM593.7 312.4h7.6v7.7h-7.6zM681.1 334.5h7.6v7.7h-7.6zM644.7 341.9h7.6v7.7h-7.6zM61.7 349.3h7.6v7.7h-7.6zM76.3 364.1h7.6v7.7h-7.6zM83.6 378.8h7.6v7.7h-7.6zM90.8 386.2h7.6v7.7h-7.6zM98.1 393.6h7.6v7.7h-7.6zM105.4 400.9h7.6v7.7h-7.6zM112.7 408.3h7.6v7.7h-7.6zM134.6 423.1h7.6v7.7h-7.6zM141.9 430.4h7.6v7.7h-7.6zM149.1 445.2h7.6v7.7h-7.6zM149.1 452.6h7.6v7.7h-7.6zM156.4 474.7h7.6v7.7h-7.6zM163.7 482.1h7.6v7.7h-7.6zM171 496.8h7.6v7.7h-7.6zM192.9 519h7.6v7.7h-7.6zM214.7 533.7h7.6v7.7h-7.6zM258.4 548.5h22.2v7.7h-22.2zM309.5 555.9h7.6v7.7h-7.6zM345.9 570.6h7.6v7.7h-7.6zM360.5 578h7.6v7.7h-7.6zM382.3 607.5h7.6v7.7h-7.6zM389.6 629.6h7.6v7.7h-7.6zM396.9 637h7.6v7.7h-7.6zM455.2 637h7.6v7.7h-7.6zM469.8 637h7.6v7.7h-7.6zM484.3 644.4h7.6v7.7h-7.6zM484.3 651.8h7.6v7.7h-7.6zM491.6 666.5h7.6v7.7h-7.6zM498.9 681.3h7.6v7.7h-7.6zM506.2 703.4h7.6v7.7h-7.6zM513.5 710.8h7.6v7.7h-7.6zM586.4 710.8h7.6v7.7h-7.6zM528.1 718.2h7.6v7.7h-7.6zM579.1 718.2h22.2v7.7h-22.2zM549.9 725.5h22.2v7.7h-22.2zM579.1 725.5h7.6v7.7h-7.6zM593.7 725.5h14.9v7.7h-14.9zM593.7 732.9h7.6v7.7h-7.6zM593.7 740.3h7.6v7.7h-7.6zM600.9 755h7.6v7.7h-7.6zM630.1 784.5h7.6v7.7h-7.6zM637.4 799.3h7.6v7.7h-7.6zM637.4 806.7h7.6v7.7h-7.6z"/>
<path fill="#aaede4" d="M316.7 32.1h7.6v7.7h-7.6zM316.7 39.5h7.6v7.7h-7.6zM338.6 83.7h7.6v7.7h-7.6zM345.9 91.1h7.6v7.7h-7.6zM353.2 98.5h7.6v7.7h-7.6zM367.8 120.6h7.6v7.7h-7.6zM375 128h7.6v7.7h-7.6zM389.6 142.7h7.6v7.7h-7.6zM396.9 150.1h7.6v7.7h-7.6zM426.1 179.6h7.6v7.7h-7.6zM447.9 201.8h7.6v7.7h-7.6zM455.2 216.5h7.6v7.7h-7.6zM462.5 223.9h7.6v7.7h-7.6zM477.1 231.3h7.6v7.7h-7.6zM491.6 238.6h7.6v7.7h-7.6zM513.5 253.4h7.6v7.7h-7.6zM520.8 260.8h7.6v7.7h-7.6zM557.2 290.3h7.6v7.7h-7.6zM571.8 297.7h7.6v7.7h-7.6zM586.4 305h7.6v7.7h-7.6zM608.2 319.8h7.6v7.7h-7.6zM615.5 327.2h7.6v7.7h-7.6zM630.1 334.5h7.6v7.7h-7.6zM651.9 341.9h14.9v7.7h-14.9zM69 356.7h7.6v7.7h-7.6zM127.3 415.7h7.6v7.7h-7.6zM149.1 460h7.6v7.7h-7.6zM178.3 504.2h7.6v7.7h-7.6zM200.2 526.3h7.6v7.7h-7.6zM222 541.1h7.6v7.7h-7.6zM243.9 548.5h14.9v7.7h-14.9zM302.2 555.9h7.6v7.7h-7.6zM324 563.2h7.6v7.7h-7.6zM338.6 570.6h7.6v7.7h-7.6zM367.8 585.4h7.6v7.7h-7.6zM375 592.7h7.6v7.7h-7.6zM382.3 614.9h7.6v7.7h-7.6zM462.5 637h7.6v7.7h-7.6zM477.1 644.4h7.6v7.7h-7.6zM484.3 659.1h7.6v7.7h-7.6zM491.6 673.9h7.6v7.7h-7.6zM498.9 688.6h7.6v7.7h-7.6zM520.8 718.2h7.6v7.7h-7.6zM535.4 725.5h14.9v7.7h-14.9zM571.8 725.5h7.6v7.7h-7.6zM586.4 725.5h7.6v7.7h-7.6zM586.4 732.9h7.6v7.7h-7.6zM586.4 740.3h7.6v7.7h-7.6zM593.7 747.7h7.6v7.7h-7.6zM608.2 762.4h7.6v7.7h-7.6zM615.5 769.8h7.6v7.7h-7.6zM622.8 777.2h7.6v7.7h-7.6zM630.1 791.9h7.6v7.7h-7.6z"/>
<path fill="#a5ebe3" d="M324 46.8h7.6v7.7h-7.6zM331.3 69h7.6v7.7h-7.6zM360.5 105.9h7.6v7.7h-7.6zM382.3 135.4h7.6v7.7h-7.6zM404.2 157.5h7.6v7.7h-7.6zM411.5 164.9h7.6v7.7h-7.6zM418.8 172.3h7.6v7.7h-7.6zM433.3 187h7.6v7.7h-7.6zM469.8 223.9h7.6v7.7h-7.6zM506.2 246h7.6v7.7h-7.6zM528.1 260.8h7.6v7.7h-7.6zM535.4 268.2h7.6v7.7h-7.6zM542.6 275.5h7.6v7.7h-7.6zM549.9 282.9h7.6v7.7h-7.6zM564.5 290.3h7.6v7.7h-7.6zM579.1 297.7h7.6v7.7h-7.6zM600.9 312.4h7.6v7.7h-7.6zM622.8 327.2h7.6v7.7h-7.6zM637.4 334.5h7.6v7.7h-7.6zM673.8 334.5h7.6v7.7h-7.6zM61.7 356.7h7.6v7.7h-7.6zM69 364.1h7.6v7.7h-7.6zM76.3 371.4h7.6v7.7h-7.6zM83.6 386.2h7.6v7.7h-7.6zM90.8 393.6h7.6v7.7h-7.6zM98.1 400.9h7.6v7.7h-7.6zM105.4 408.3h7.6v7.7h-7.6zM149.1 467.3h7.6v7.7h-7.6zM163.7 489.5h7.6v7.7h-7.6zM236.6 548.5h7.6v7.7h-7.6zM294.9 555.9h7.6v7.7h-7.6zM316.7 563.2h7.6v7.7h-7.6zM331.3 570.6h7.6v7.7h-7.6zM353.2 578h7.6v7.7h-7.6zM375 600.1h7.6v7.7h-7.6zM382.3 622.2h7.6v7.7h-7.6zM404.2 644.4h22.2v7.7h-22.2zM447.9 644.4h7.6v7.7h-7.6zM484.3 666.5h7.6v7.7h-7.6zM498.9 696h7.6v7.7h-7.6zM506.2 710.8h7.6v7.7h-7.6zM571.8 732.9h14.9v7.7h-14.9zM593.7 755h7.6v7.7h-7.6zM600.9 762.4h7.6v7.7h-7.6zM622.8 784.5h7.6v7.7h-7.6zM630.1 799.3h7.6v7.7h-7.6zM630.1 806.7h7.6v7.7h-7.6z"/>
<path fill="#a0e9e1" d="M324 39.5h7.6v7.7h-7.6zM331.3 54.2h7.6v7.7h-7.6zM331.3 61.6h7.6v7.7h-7.6zM338.6 76.4h7.6v7.7h-7.6zM353.2 91.1h7.6v7.7h-7.6zM367.8 113.2h7.6v7.7h-7.6zM440.6 194.4h7.6v7.7h-7.6zM455.2 209.1h7.6v7.7h-7.6zM484.3 231.3h7.6v7.7h-7.6zM498.9 238.6h7.6v7.7h-7.6zM520.8 253.4h7.6v7.7h-7.6zM571.8 290.3h7.6v7.7h-7.6zM593.7 305h7.6v7.7h-7.6zM608.2 312.4h7.6v7.7h-7.6zM615.5 319.8h7.6v7.7h-7.6zM644.7 334.5h7.6v7.7h-7.6zM76.3 378.8h7.6v7.7h-7.6zM120 415.7h7.6v7.7h-7.6zM141.9 437.8h7.6v7.7h-7.6zM141.9 445.2h7.6v7.7h-7.6zM149.1 474.7h7.6v7.7h-7.6zM156.4 482.1h7.6v7.7h-7.6zM171 504.2h7.6v7.7h-7.6zM178.3 511.6h7.6v7.7h-7.6zM185.6 519h7.6v7.7h-7.6zM192.9 526.3h7.6v7.7h-7.6zM207.4 533.7h7.6v7.7h-7.6zM345.9 578h7.6v7.7h-7.6zM375 607.5h7.6v7.7h-7.6zM382.3 629.6h7.6v7.7h-7.6zM389.6 637h7.6v7.7h-7.6zM396.9 644.4h7.6v7.7h-7.6zM426.1 644.4h22.2v7.7h-22.2zM469.8 644.4h7.6v7.7h-7.6zM491.6 681.3h7.6v7.7h-7.6zM520.8 725.5h14.9v7.7h-14.9zM549.9 732.9h22.2v7.7h-22.2zM571.8 740.3h14.9v7.7h-14.9zM586.4 747.7h7.6v7.7h-7.6zM608.2 769.8h7.6v7.7h-7.6zM615.5 777.2h7.6v7.7h-7.6z"/>
<path fill="#9be8e0" d="M324 32.1h7.6v7.7h-7.6zM338.6 69h7.6v7.7h-7.6zM345.9 83.7h7.6v7.7h-7.6zM360.5 98.5h7.6v7.7h-7.6zM375 120.6h7.6v7.7h-7.6zM382.3 128h7.6v7.7h-7.6zM389.6 135.4h7.6v7.7h-7.6zM396.9 142.7h7.6v7.7h-7.6zM404.2 150.1h7.6v7.7h-7.6zM411.5 157.5h7.6v7.7h-7.6zM426.1 172.3h7.6v7.7h-7.6zM440.6 187h7.6v7.7h-7.6zM462.5 216.5h7.6v7.7h-7.6zM491.6 231.3h7.6v7.7h-7.6zM513.5 246h7.6v7.7h-7.6zM542.6 268.2h7.6v7.7h-7.6zM549.9 275.5h7.6v7.7h-7.6zM557.2 282.9h7.6v7.7h-7.6zM586.4 297.7h7.6v7.7h-7.6zM600.9 305h7.6v7.7h-7.6zM630.1 327.2h7.6v7.7h-7.6zM666.5 334.5h7.6v7.7h-7.6zM69 371.4h7.6v7.7h-7.6zM83.6 393.6h7.6v7.7h-7.6zM112.7 415.7h7.6v7.7h-7.6zM127.3 423.1h7.6v7.7h-7.6zM134.6 430.4h7.6v7.7h-7.6zM156.4 489.5h7.6v7.7h-7.6zM163.7 496.8h7.6v7.7h-7.6zM200.2 533.7h7.6v7.7h-7.6zM214.7 541.1h7.6v7.7h-7.6zM229.3 548.5h7.6v7.7h-7.6zM287.6 555.9h7.6v7.7h-7.6zM309.5 563.2h7.6v7.7h-7.6zM324 570.6h7.6v7.7h-7.6zM360.5 585.4h7.6v7.7h-7.6zM367.8 592.7h7.6v7.7h-7.6zM455.2 644.4h7.6v7.7h-7.6zM477.1 651.8h7.6v7.7h-7.6zM477.1 659.1h7.6v7.7h-7.6zM513.5 718.2h7.6v7.7h-7.6zM535.4 732.9h14.9v7.7h-14.9zM579.1 747.7h7.6v7.7h-7.6zM622.8 806.7h7.6v7.7h-7.6z"/>
<path fill="#97e6de" d="M331.3 39.5h7.6v7.7h-7.6zM331.3 46.8h7.6v7.7h-7.6zM338.6 61.6h7.6v7.7h-7.6zM345.9 76.4h7.6v7.7h-7.6zM353.2 83.7h7.6v7.7h-7.6zM367.8 105.9h7.6v7.7h-7.6zM375 113.2h7.6v7.7h-7.6zM411.5 150.1h7.6v7.7h-7.6zM418.8 164.9h7.6v7.7h-7.6zM433.3 179.6h7.6v7.7h-7.6zM447.9 194.4h7.6v7.7h-7.6zM455.2 201.8h7.6v7.7h-7.6zM462.5 209.1h7.6v7.7h-7.6zM469.8 216.5h7.6v7.7h-7.6zM477.1 223.9h7.6v7.7h-7.6zM506.2 238.6h7.6v7.7h-7.6zM528.1 253.4h7.6v7.7h-7.6zM535.4 260.8h7.6v7.7h-7.6zM579.1 290.3h7.6v7.7h-7.6zM593.7 297.7h7.6v7.7h-7.6zM681.1 327.2h7.6v7.7h-7.6zM651.9 334.5h14.9v7.7h-14.9zM61.7 364.1h7.6v7.7h-7.6zM76.3 386.2h7.6v7.7h-7.6zM105.4 415.7h7.6v7.7h-7.6zM141.9 452.6h7.6v7.7h-7.6zM141.9 460h7.6v7.7h-7.6zM222 548.5h7.6v7.7h-7.6zM280.3 555.9h7.6v7.7h-7.6zM316.7 570.6h7.6v7.7h-7.6zM375 614.9h7.6v7.7h-7.6zM462.5 644.4h7.6v7.7h-7.6zM477.1 666.5h7.6v7.7h-7.6zM484.3 673.9h7.6v7.7h-7.6zM491.6 688.6h7.6v7.7h-7.6zM498.9 703.4h7.6v7.7h-7.6zM557.2 740.3h14.9v7.7h-14.9zM586.4 755h7.6v7.7h-7.6zM593.7 762.4h7.6v7.7h-7.6zM622.8 791.9h7.6v7.7h-7.6zM622.8 799.3h7.6v7.7h-7.6z"/>
<path fill="#92e4dd" d="M331.3 32.1h7.6v7.7h-7.6zM360.5 91.1h7.6v7.7h-7.6zM367.8 98.5h7.6v7.7h-7.6zM382.3 120.6h7.6v7.7h-7.6zM396.9 135.4h7.6v7.7h-7.6zM426.1 164.9h7.6v7.7h-7.6zM433.3 172.3h7.6v7.7h-7.6zM455.2 194.4h7.6v7.7h-7.6zM498.9 231.3h7.6v7.7h-7.6zM520.8 246h7.6v7.7h-7.6zM542.6 260.8h7.6v7.7h-7.6zM549.9 268.2h7.6v7.7h-7.6zM557.2 275.5h7.6v7.7h-7.6zM564.5 282.9h14.9v7.7h-14.9zM608.2 305h7.6v7.7h-7.6zM615.5 312.4h7.6v7.7h-7.6zM622.8 319.8h14.9v7.7h-14.9zM637.4 327.2h7.6v7.7h-7.6zM673.8 327.2h7.6v7.7h-7.6zM61.7 371.4h7.6v7.7h-7.6zM69 378.8h7.6v7.7h-7.6zM76.3 393.6h7.6v7.7h-7.6zM83.6 400.9h14.9v7.7h-14.9zM98.1 408.3h7.6v7.7h-7.6zM120 423.1h7.6v7.7h-7.6zM134.6 437.8h7.6v7.7h-7.6zM141.9 467.3h7.6v7.7h-7.6zM149.1 482.1h7.6v7.7h-7.6zM163.7 504.2h7.6v7.7h-7.6zM171 511.6h7.6v7.7h-7.6zM178.3 519h7.6v7.7h-7.6zM207.4 541.1h7.6v7.7h-7.6zM251.2 555.9h7.6v7.7h-7.6zM273 555.9h7.6v7.7h-7.6zM302.2 563.2h7.6v7.7h-7.6zM338.6 578h7.6v7.7h-7.6zM353.2 585.4h7.6v7.7h-7.6zM375 622.2h7.6v7.7h-7.6zM382.3 637h7.6v7.7h-7.6zM389.6 644.4h7.6v7.7h-7.6zM469.8 651.8h7.6v7.7h-7.6zM528.1 732.9h7.6v7.7h-7.6zM571.8 747.7h7.6v7.7h-7.6zM600.9 769.8h7.6v7.7h-7.6zM608.2 777.2h7.6v7.7h-7.6zM615.5 784.5h7.6v7.7h-7.6z"/>
<path fill="#8de2db" d="M338.6 46.8h7.6v7.7h-7.6zM338.6 54.2h7.6v7.7h-7.6zM345.9 69h7.6v7.7h-7.6zM353.2 76.4h7.6v7.7h-7.6zM360.5 83.7h7.6v7.7h-7.6zM375 105.9h7.6v7.7h-7.6zM389.6 128h7.6v7.7h-7.6zM404.2 142.7h7.6v7.7h-7.6zM418.8 157.5h7.6v7.7h-7.6zM462.5 201.8h7.6v7.7h-7.6zM469.8 209.1h7.6v7.7h-7.6zM477.1 216.5h7.6v7.7h-7.6zM484.3 223.9h7.6v7.7h-7.6zM513.5 238.6h7.6v7.7h-7.6zM535.4 253.4h7.6v7.7h-7.6zM586.4 290.3h7.6v7.7h-7.6zM622.8 312.4h7.6v7.7h-7.6zM644.7 327.2h7.6v7.7h-7.6zM61.7 378.8h7.6v7.7h-7.6zM90.8 408.3h7.6v7.7h-7.6zM134.6 445.2h7.6v7.7h-7.6zM156.4 496.8h7.6v7.7h-7.6zM185.6 526.3h7.6v7.7h-7.6zM192.9 533.7h7.6v7.7h-7.6zM214.7 548.5h7.6v7.7h-7.6zM243.9 555.9h7.6v7.7h-7.6zM258.4 555.9h14.9v7.7h-14.9zM331.3 578h7.6v7.7h-7.6zM360.5 592.7h7.6v7.7h-7.6zM367.8 600.1h7.6v7.7h-7.6zM375 629.6h7.6v7.7h-7.6zM404.2 651.8h14.9v7.7h-14.9zM447.9 651.8h14.9v7.7h-14.9zM469.8 659.1h7.6v7.7h-7.6zM469.8 666.5h7.6v7.7h-7.6zM477.1 673.9h7.6v7.7h-7.6zM491.6 696h7.6v7.7h-7.6zM506.2 718.2h7.6v7.7h-7.6zM513.5 725.5h7.6v7.7h-7.6zM542.6 740.3h14.9v7.7h-14.9zM579.1 755h7.6v7.7h-7.6z"/>
<path fill="#89e1da" d="M338.6 39.5h7.6v7.7h-7.6zM345.9 54.2h7.6v7.7h-7.6zM345.9 61.6h7.6v7.7h-7.6zM353.2 69h7.6v7.7h-7.6zM360.5 76.4h7.6v7.7h-7.6zM367.8 91.1h7.6v7.7h-7.6zM375 98.5h7.6v7.7h-7.6zM382.3 113.2h7.6v7.7h-7.6zM389.6 120.6h7.6v7.7h-7.6zM404.2 135.4h7.6v7.7h-7.6zM411.5 142.7h7.6v7.7h-7.6zM418.8 150.1h7.6v7.7h-7.6zM426.1 157.5h7.6v7.7h-7.6zM440.6 179.6h7.6v7.7h-7.6zM447.9 187h7.6v7.7h-7.6zM491.6 223.9h7.6v7.7h-7.6zM528.1 246h7.6v7.7h-7.6zM557.2 268.2h7.6v7.7h-7.6zM564.5 275.5h7.6v7.7h-7.6zM579.1 282.9h7.6v7.7h-7.6zM600.9 297.7h7.6v7.7h-7.6zM651.9 327.2h7.6v7.7h-7.6zM666.5 327.2h7.6v7.7h-7.6zM69 386.2h7.6v7.7h-7.6zM98.1 415.7h7.6v7.7h-7.6zM127.3 430.4h7.6v7.7h-7.6zM134.6 452.6h7.6v7.7h-7.6zM141.9 474.7h7.6v7.7h-7.6zM163.7 511.6h7.6v7.7h-7.6zM178.3 526.3h7.6v7.7h-7.6zM236.6 555.9h7.6v7.7h-7.6zM287.6 563.2h14.9v7.7h-14.9zM309.5 570.6h7.6v7.7h-7.6zM324 578h7.6v7.7h-7.6zM345.9 585.4h7.6v7.7h-7.6zM367.8 607.5h7.6v7.7h-7.6zM367.8 614.9h7.6v7.7h-7.6zM396.9 651.8h7.6v7.7h-7.6zM418.8 651.8h7.6v7.7h-7.6zM433.3 651.8h14.9v7.7h-14.9zM462.5 651.8h7.6v7.7h-7.6zM484.3 681.3h7.6v7.7h-7.6zM491.6 703.4h7.6v7.7h-7.6zM498.9 710.8h7.6v7.7h-7.6zM520.8 732.9h7.6v7.7h-7.6zM535.4 740.3h7.6v7.7h-7.6zM564.5 747.7h7.6v7.7h-7.6zM586.4 762.4h7.6v7.7h-7.6zM593.7 769.8h7.6v7.7h-7.6zM608.2 784.5h7.6v7.7h-7.6zM615.5 791.9h7.6v7.7h-7.6zM615.5 799.3h7.6v7.7h-7.6zM615.5 806.7h7.6v7.7h-7.6z"/>
<path fill="#84dfd9" d="M338.6 32.1h7.6v7.7h-7.6zM353.2 61.6h7.6v7.7h-7.6zM360.5 69h7.6v7.7h-7.6zM367.8 83.7h7.6v7.7h-7.6zM375 91.1h7.6v7.7h-7.6zM382.3 98.5h7.6v7.7h-7.6zM382.3 105.9h7.6v7.7h-7.6zM396.9 120.6h7.6v7.7h-7.6zM396.9 128h7.6v7.7h-7.6zM433.3 164.9h14.9v7.7h-14.9zM440.6 172.3h7.6v7.7h-7.6zM455.2 187h7.6v7.7h-7.6zM462.5 194.4h7.6v7.7h-7.6zM469.8 201.8h7.6v7.7h-7.6zM477.1 209.1h7.6v7.7h-7.6zM484.3 216.5h7.6v7.7h-7.6zM506.2 231.3h7.6v7.7h-7.6zM549.9 260.8h14.9v7.7h-14.9zM564.5 268.2h7.6v7.7h-7.6zM571.8 275.5h7.6v7.7h-7.6zM593.7 290.3h7.6v7.7h-7.6zM615.5 305h7.6v7.7h-7.6zM659.2 327.2h7.6v7.7h-7.6zM69 393.6h7.6v7.7h-7.6zM76.3 400.9h7.6v7.7h-7.6zM112.7 423.1h7.6v7.7h-7.6zM127.3 437.8h7.6v7.7h-7.6zM134.6 460h7.6v7.7h-7.6zM134.6 467.3h7.6v7.7h-7.6zM149.1 489.5h7.6v7.7h-7.6zM156.4 504.2h7.6v7.7h-7.6zM171 519h7.6v7.7h-7.6zM200.2 541.1h7.6v7.7h-7.6zM222 555.9h14.9v7.7h-14.9zM302.2 570.6h7.6v7.7h-7.6zM375 637h7.6v7.7h-7.6zM382.3 644.4h7.6v7.7h-7.6zM426.1 651.8h7.6v7.7h-7.6zM462.5 659.1h7.6v7.7h-7.6zM462.5 666.5h7.6v7.7h-7.6zM557.2 747.7h7.6v7.7h-7.6zM571.8 755h7.6v7.7h-7.6zM579.1 762.4h7.6v7.7h-7.6zM600.9 777.2h7.6v7.7h-7.6z"/>
<path fill="#80ddd8" d="M345.9 32.1h14.9v7.7h-14.9zM345.9 39.5h14.9v7.7h-14.9zM345.9 46.8h14.9v7.7h-14.9zM360.5 61.6h7.6v7.7h-7.6zM367.8 69h7.6v7.7h-7.6zM367.8 76.4h7.6v7.7h-7.6zM375 83.7h14.9v7.7h-14.9zM382.3 91.1h7.6v7.7h-7.6zM389.6 113.2h14.9v7.7h-14.9zM411.5 135.4h7.6v7.7h-7.6zM418.8 142.7h7.6v7.7h-7.6zM433.3 157.5h7.6v7.7h-7.6zM447.9 179.6h7.6v7.7h-7.6zM477.1 201.8h7.6v7.7h-7.6zM484.3 209.1h7.6v7.7h-7.6zM498.9 223.9h7.6v7.7h-7.6zM513.5 231.3h7.6v7.7h-7.6zM520.8 238.6h7.6v7.7h-7.6zM535.4 246h7.6v7.7h-7.6zM542.6 253.4h7.6v7.7h-7.6zM571.8 268.2h7.6v7.7h-7.6zM586.4 282.9h7.6v7.7h-7.6zM608.2 297.7h7.6v7.7h-7.6zM622.8 305h7.6v7.7h-7.6zM630.1 312.4h7.6v7.7h-7.6zM637.4 319.8h7.6v7.7h-7.6zM681.1 319.8h7.6v7.7h-7.6zM61.7 386.2h7.6v7.7h-7.6zM83.6 408.3h7.6v7.7h-7.6zM90.8 415.7h7.6v7.7h-7.6zM105.4 423.1h7.6v7.7h-7.6zM127.3 452.6h7.6v7.7h-7.6zM141.9 482.1h7.6v7.7h-7.6zM149.1 496.8h7.6v7.7h-7.6zM207.4 548.5h7.6v7.7h-7.6zM214.7 555.9h7.6v7.7h-7.6zM280.3 563.2h7.6v7.7h-7.6zM316.7 578h7.6v7.7h-7.6zM331.3 585.4h14.9v7.7h-14.9zM353.2 592.7h7.6v7.7h-7.6zM360.5 600.1h7.6v7.7h-7.6zM171 614.9h7.6v7.7h-7.6zM192.9 614.9h7.6v7.7h-7.6zM367.8 622.2h7.6v7.7h-7.6zM455.2 659.1h7.6v7.7h-7.6zM469.8 673.9h7.6v7.7h-7.6zM484.3 688.6h7.6v7.7h-7.6zM528.1 740.3h7.6v7.7h-7.6zM549.9 747.7h7.6v7.7h-7.6zM564.5 755h7.6v7.7h-7.6zM586.4 769.8h7.6v7.7h-7.6zM608.2 791.9h7.6v7.7h-7.6z"/>
<path fill="#7cdbd7" d="M360.5 39.5h7.6v7.7h-7.6zM353.2 54.2h22.2v7.7h-22.2zM367.8 61.6h7.6v7.7h-7.6zM375 69h7.6v7.7h-7.6zM382.3 76.4h7.6v7.7h-7.6zM389.6 91.1h7.6v7.7h-7.6zM389.6 98.5h7.6v7.7h-7.6zM389.6 105.9h14.9v7.7h-14.9zM404.2 128h7.6v7.7h-7.6zM426.1 142.7h7.6v7.7h-7.6zM426.1 150.1h7.6v7.7h-7.6zM447.9 172.3h7.6v7.7h-7.6zM455.2 179.6h7.6v7.7h-7.6zM469.8 194.4h14.9v7.7h-14.9zM484.3 201.8h7.6v7.7h-7.6zM491.6 216.5h7.6v7.7h-7.6zM520.8 231.3h7.6v7.7h-7.6zM528.1 238.6h7.6v7.7h-7.6zM549.9 253.4h7.6v7.7h-7.6zM564.5 260.8h7.6v7.7h-7.6zM579.1 275.5h7.6v7.7h-7.6zM593.7 282.9h7.6v7.7h-7.6zM600.9 290.3h7.6v7.7h-7.6zM644.7 319.8h7.6v7.7h-7.6zM673.8 319.8h7.6v7.7h-7.6zM61.7 393.6h7.6v7.7h-7.6zM69 400.9h7.6v7.7h-7.6zM98.1 423.1h7.6v7.7h-7.6zM112.7 430.4h14.9v7.7h-14.9zM120 445.2h14.9v7.7h-14.9zM127.3 460h7.6v7.7h-7.6zM134.6 474.7h7.6v7.7h-7.6zM185.6 533.7h7.6v7.7h-7.6zM192.9 541.1h7.6v7.7h-7.6zM309.5 578h7.6v7.7h-7.6zM178.3 600.1h14.9v7.7h-14.9zM171 607.5h29.4v7.7h-29.4zM178.3 614.9h14.9v7.7h-14.9zM367.8 629.6h7.6v7.7h-7.6zM447.9 659.1h7.6v7.7h-7.6zM477.1 681.3h7.6v7.7h-7.6zM484.3 696h7.6v7.7h-7.6zM542.6 747.7h7.6v7.7h-7.6zM608.2 799.3h7.6v7.7h-7.6z"/>
<path fill="#77d9d6" d="M360.5 32.1h22.2v7.7h-22.2zM367.8 39.5h14.9v7.7h-14.9zM360.5 46.8h14.9v7.7h-14.9zM375 54.2h7.6v7.7h-7.6zM375 61.6h14.9v7.7h-14.9zM382.3 69h7.6v7.7h-7.6zM375 76.4h7.6v7.7h-7.6zM389.6 83.7h7.6v7.7h-7.6zM396.9 91.1h7.6v7.7h-7.6zM404.2 105.9h7.6v7.7h-7.6zM404.2 113.2h7.6v7.7h-7.6zM404.2 120.6h14.9v7.7h-14.9zM411.5 128h14.9v7.7h-14.9zM418.8 135.4h14.9v7.7h-14.9zM433.3 150.1h14.9v7.7h-14.9zM440.6 157.5h7.6v7.7h-7.6zM447.9 164.9h7.6v7.7h-7.6zM455.2 172.3h7.6v7.7h-7.6zM462.5 179.6h7.6v7.7h-7.6zM462.5 187h14.9v7.7h-14.9zM491.6 209.1h7.6v7.7h-7.6zM498.9 216.5h7.6v7.7h-7.6zM506.2 223.9h7.6v7.7h-7.6zM542.6 246h7.6v7.7h-7.6zM557.2 253.4h14.9v7.7h-14.9zM571.8 260.8h7.6v7.7h-7.6zM586.4 275.5h7.6v7.7h-7.6zM615.5 297.7h7.6v7.7h-7.6zM637.4 312.4h7.6v7.7h-7.6zM651.9 319.8h7.6v7.7h-7.6zM61.7 400.9h7.6v7.7h-7.6zM76.3 408.3h7.6v7.7h-7.6zM98.1 430.4h14.9v7.7h-14.9zM120 437.8h7.6v7.7h-7.6zM120 452.6h7.6v7.7h-7.6zM120 460h7.6v7.7h-7.6zM120 467.3h14.9v7.7h-14.9zM156.4 511.6h7.6v7.7h-7.6zM163.7 519h7.6v7.7h-7.6zM171 526.3h7.6v7.7h-7.6zM200.2 548.5h7.6v7.7h-7.6zM207.4 555.9h7.6v7.7h-7.6zM236.6 563.2h14.9v7.7h-14.9zM258.4 563.2h7.6v7.7h-7.6zM273 563.2h7.6v7.7h-7.6zM294.9 570.6h7.6v7.7h-7.6zM178.3 592.7h7.6v7.7h-7.6zM345.9 592.7h7.6v7.7h-7.6zM171 600.1h7.6v7.7h-7.6zM360.5 607.5h7.6v7.7h-7.6zM163.7 614.9h7.6v7.7h-7.6zM200.2 614.9h7.6v7.7h-7.6zM360.5 614.9h7.6v7.7h-7.6zM178.3 622.2h29.4v7.7h-29.4zM200.2 629.6h14.9v7.7h-14.9zM375 644.4h7.6v7.7h-7.6zM389.6 651.8h7.6v7.7h-7.6zM411.5 659.1h7.6v7.7h-7.6zM440.6 659.1h7.6v7.7h-7.6zM455.2 666.5h7.6v7.7h-7.6zM462.5 673.9h7.6v7.7h-7.6zM498.9 718.2h7.6v7.7h-7.6zM506.2 725.5h7.6v7.7h-7.6zM513.5 732.9h7.6v7.7h-7.6zM557.2 755h7.6v7.7h-7.6zM571.8 762.4h7.6v7.7h-7.6zM593.7 777.2h7.6v7.7h-7.6zM600.9 784.5h7.6v7.7h-7.6zM608.2 806.7h7.6v7.7h-7.6z"/>
<path fill="#73d7d5" d="M382.3 32.1h7.6v7.7h-7.6zM375 46.8h7.6v7.7h-7.6zM382.3 54.2h7.6v7.7h-7.6zM389.6 61.6h7.6v7.7h-7.6zM389.6 69h7.6v7.7h-7.6zM389.6 76.4h7.6v7.7h-7.6zM396.9 83.7h14.9v7.7h-14.9zM396.9 98.5h22.2v7.7h-22.2zM411.5 113.2h7.6v7.7h-7.6zM418.8 120.6h14.9v7.7h-14.9zM433.3 142.7h7.6v7.7h-7.6zM447.9 157.5h7.6v7.7h-7.6zM462.5 172.3h7.6v7.7h-7.6zM484.3 194.4h7.6v7.7h-7.6zM491.6 201.8h7.6v7.7h-7.6zM528.1 231.3h7.6v7.7h-7.6zM535.4 238.6h14.9v7.7h-14.9zM579.1 268.2h7.6v7.7h-7.6zM608.2 290.3h7.6v7.7h-7.6zM630.1 305h7.6v7.7h-7.6zM659.2 319.8h14.9v7.7h-14.9zM69 408.3h7.6v7.7h-7.6zM83.6 415.7h7.6v7.7h-7.6zM90.8 423.1h7.6v7.7h-7.6zM112.7 437.8h7.6v7.7h-7.6zM112.7 445.2h7.6v7.7h-7.6zM112.7 452.6h7.6v7.7h-7.6zM112.7 460h7.6v7.7h-7.6zM112.7 467.3h7.6v7.7h-7.6zM127.3 474.7h7.6v7.7h-7.6zM141.9 489.5h7.6v7.7h-7.6zM149.1 504.2h7.6v7.7h-7.6zM178.3 533.7h7.6v7.7h-7.6zM185.6 541.1h7.6v7.7h-7.6zM229.3 563.2h7.6v7.7h-7.6zM251.2 563.2h7.6v7.7h-7.6zM265.7 563.2h7.6v7.7h-7.6zM287.6 570.6h7.6v7.7h-7.6zM178.3 585.4h7.6v7.7h-7.6zM324 585.4h7.6v7.7h-7.6zM163.7 592.7h14.9v7.7h-14.9zM185.6 592.7h7.6v7.7h-7.6zM163.7 600.1h7.6v7.7h-7.6zM192.9 600.1h7.6v7.7h-7.6zM353.2 600.1h7.6v7.7h-7.6zM156.4 607.5h14.9v7.7h-14.9zM200.2 607.5h7.6v7.7h-7.6zM163.7 622.2h14.9v7.7h-14.9zM207.4 622.2h7.6v7.7h-7.6zM360.5 622.2h7.6v7.7h-7.6zM171 629.6h29.4v7.7h-29.4zM171 637h51.3v7.7h-51.3zM367.8 637h7.6v7.7h-7.6zM207.4 651.8h7.6v7.7h-7.6zM382.3 651.8h7.6v7.7h-7.6zM404.2 659.1h7.6v7.7h-7.6zM418.8 659.1h14.9v7.7h-14.9zM469.8 681.3h7.6v7.7h-7.6zM484.3 703.4h7.6v7.7h-7.6zM491.6 710.8h7.6v7.7h-7.6zM535.4 747.7h7.6v7.7h-7.6zM579.1 769.8h7.6v7.7h-7.6z"/>
<path fill="#6fd5d4" d="M382.3 39.5h7.6v7.7h-7.6zM382.3 46.8h14.9v7.7h-14.9zM396.9 54.2h7.6v7.7h-7.6zM396.9 61.6h7.6v7.7h-7.6zM396.9 69h7.6v7.7h-7.6zM396.9 76.4h7.6v7.7h-7.6zM404.2 91.1h7.6v7.7h-7.6zM418.8 98.5h7.6v7.7h-7.6zM411.5 105.9h14.9v7.7h-14.9zM418.8 113.2h7.6v7.7h-7.6zM426.1 128h14.9v7.7h-14.9zM433.3 135.4h7.6v7.7h-7.6zM440.6 142.7h7.6v7.7h-7.6zM447.9 150.1h7.6v7.7h-7.6zM455.2 157.5h7.6v7.7h-7.6zM455.2 164.9h14.9v7.7h-14.9zM469.8 172.3h7.6v7.7h-7.6zM469.8 179.6h7.6v7.7h-7.6zM477.1 187h14.9v7.7h-14.9zM491.6 194.4h7.6v7.7h-7.6zM498.9 209.1h7.6v7.7h-7.6zM506.2 216.5h7.6v7.7h-7.6zM513.5 223.9h14.9v7.7h-14.9zM549.9 246h14.9v7.7h-14.9zM571.8 253.4h7.6v7.7h-7.6zM579.1 260.8h7.6v7.7h-7.6zM586.4 268.2h7.6v7.7h-7.6zM593.7 275.5h7.6v7.7h-7.6zM615.5 290.3h7.6v7.7h-7.6zM622.8 297.7h7.6v7.7h-7.6zM637.4 305h7.6v7.7h-7.6zM644.7 312.4h7.6v7.7h-7.6zM83.6 423.1h7.6v7.7h-7.6zM90.8 430.4h7.6v7.7h-7.6zM105.4 437.8h7.6v7.7h-7.6zM105.4 452.6h7.6v7.7h-7.6zM105.4 460h7.6v7.7h-7.6zM120 474.7h7.6v7.7h-7.6zM134.6 482.1h7.6v7.7h-7.6zM192.9 548.5h7.6v7.7h-7.6zM200.2 555.9h7.6v7.7h-7.6zM214.7 563.2h14.9v7.7h-14.9zM280.3 570.6h7.6v7.7h-7.6zM302.2 578h7.6v7.7h-7.6zM171 585.4h7.6v7.7h-7.6zM185.6 585.4h7.6v7.7h-7.6zM316.7 585.4h7.6v7.7h-7.6zM156.4 592.7h7.6v7.7h-7.6zM192.9 592.7h7.6v7.7h-7.6zM156.4 600.1h7.6v7.7h-7.6zM200.2 600.1h7.6v7.7h-7.6zM345.9 600.1h7.6v7.7h-7.6zM353.2 607.5h7.6v7.7h-7.6zM149.1 614.9h14.9v7.7h-14.9zM207.4 614.9h7.6v7.7h-7.6zM156.4 622.2h7.6v7.7h-7.6zM156.4 629.6h14.9v7.7h-14.9zM360.5 629.6h7.6v7.7h-7.6zM156.4 637h14.9v7.7h-14.9zM163.7 644.4h51.3v7.7h-51.3zM222 644.4h7.6v7.7h-7.6zM367.8 644.4h7.6v7.7h-7.6zM141.9 651.8h22.2v7.7h-22.2zM171 651.8h36.7v7.7h-36.7zM214.7 651.8h14.9v7.7h-14.9zM141.9 659.1h22.2v7.7h-22.2zM171 659.1h7.6v7.7h-7.6zM192.9 659.1h7.6v7.7h-7.6zM214.7 659.1h7.6v7.7h-7.6zM243.9 659.1h7.6v7.7h-7.6zM396.9 659.1h7.6v7.7h-7.6zM433.3 659.1h7.6v7.7h-7.6zM141.9 666.5h7.6v7.7h-7.6zM156.4 666.5h7.6v7.7h-7.6zM171 666.5h7.6v7.7h-7.6zM251.2 666.5h7.6v7.7h-7.6zM447.9 666.5h7.6v7.7h-7.6zM455.2 673.9h7.6v7.7h-7.6zM520.8 740.3h7.6v7.7h-7.6zM528.1 747.7h7.6v7.7h-7.6zM564.5 762.4h7.6v7.7h-7.6zM571.8 769.8h7.6v7.7h-7.6zM586.4 777.2h7.6v7.7h-7.6zM593.7 784.5h7.6v7.7h-7.6zM600.9 791.9h7.6v7.7h-7.6z"/>
<path fill="#6bd3d3" d="M389.6 32.1h14.9v7.7h-14.9zM411.5 32.1h7.6v7.7h-7.6zM396.9 46.8h7.6v7.7h-7.6zM389.6 54.2h7.6v7.7h-7.6zM404.2 54.2h7.6v7.7h-7.6zM404.2 61.6h14.9v7.7h-14.9zM404.2 69h14.9v7.7h-14.9zM404.2 76.4h14.9v7.7h-14.9zM411.5 83.7h7.6v7.7h-7.6zM411.5 91.1h14.9v7.7h-14.9zM426.1 105.9h7.6v7.7h-7.6zM426.1 113.2h7.6v7.7h-7.6zM433.3 120.6h7.6v7.7h-7.6zM440.6 135.4h7.6v7.7h-7.6zM447.9 142.7h7.6v7.7h-7.6zM462.5 157.5h7.6v7.7h-7.6zM477.1 179.6h14.9v7.7h-14.9zM498.9 201.8h7.6v7.7h-7.6zM506.2 209.1h7.6v7.7h-7.6zM513.5 216.5h14.9v7.7h-14.9zM535.4 231.3h7.6v7.7h-7.6zM549.9 238.6h14.9v7.7h-14.9zM564.5 246h7.6v7.7h-7.6zM579.1 253.4h7.6v7.7h-7.6zM586.4 260.8h7.6v7.7h-7.6zM593.7 268.2h7.6v7.7h-7.6zM600.9 275.5h7.6v7.7h-7.6zM600.9 282.9h14.9v7.7h-14.9zM630.1 297.7h7.6v7.7h-7.6zM651.9 312.4h7.6v7.7h-7.6zM681.1 312.4h7.6v7.7h-7.6zM61.7 408.3h7.6v7.7h-7.6zM76.3 415.7h7.6v7.7h-7.6zM98.1 437.8h7.6v7.7h-7.6zM105.4 445.2h7.6v7.7h-7.6zM105.4 467.3h7.6v7.7h-7.6zM112.7 474.7h7.6v7.7h-7.6zM127.3 482.1h7.6v7.7h-7.6zM134.6 489.5h7.6v7.7h-7.6zM141.9 496.8h7.6v7.7h-7.6zM149.1 511.6h7.6v7.7h-7.6zM156.4 519h7.6v7.7h-7.6zM163.7 526.3h7.6v7.7h-7.6zM185.6 548.5h7.6v7.7h-7.6zM192.9 555.9h7.6v7.7h-7.6zM185.6 563.2h22.2v7.7h-22.2zM171 570.6h22.2v7.7h-22.2zM163.7 578h29.4v7.7h-29.4zM294.9 578h7.6v7.7h-7.6zM156.4 585.4h14.9v7.7h-14.9zM192.9 585.4h7.6v7.7h-7.6zM331.3 592.7h14.9v7.7h-14.9zM149.1 600.1h7.6v7.7h-7.6zM149.1 607.5h7.6v7.7h-7.6zM207.4 607.5h7.6v7.7h-7.6zM149.1 622.2h7.6v7.7h-7.6zM134.6 629.6h7.6v7.7h-7.6zM149.1 629.6h7.6v7.7h-7.6zM214.7 629.6h14.9v7.7h-14.9zM353.2 629.6h7.6v7.7h-7.6zM134.6 637h22.2v7.7h-22.2zM127.3 644.4h36.7v7.7h-36.7zM214.7 644.4h7.6v7.7h-7.6zM229.3 644.4h7.6v7.7h-7.6zM243.9 644.4h7.6v7.7h-7.6zM360.5 644.4h7.6v7.7h-7.6zM127.3 651.8h14.9v7.7h-14.9zM163.7 651.8h7.6v7.7h-7.6zM229.3 651.8h22.2v7.7h-22.2zM375 651.8h7.6v7.7h-7.6zM112.7 659.1h7.6v7.7h-7.6zM127.3 659.1h14.9v7.7h-14.9zM163.7 659.1h7.6v7.7h-7.6zM178.3 659.1h14.9v7.7h-14.9zM200.2 659.1h14.9v7.7h-14.9zM229.3 659.1h14.9v7.7h-14.9zM273 659.1h7.6v7.7h-7.6zM112.7 666.5h29.4v7.7h-29.4zM149.1 666.5h7.6v7.7h-7.6zM163.7 666.5h7.6v7.7h-7.6zM185.6 666.5h65.9v7.7h-65.9zM258.4 666.5h22.2v7.7h-22.2zM287.6 666.5h7.6v7.7h-7.6zM105.4 673.9h14.9v7.7h-14.9zM127.3 673.9h22.2v7.7h-22.2zM156.4 673.9h7.6v7.7h-7.6zM192.9 673.9h29.4v7.7h-29.4zM243.9 673.9h7.6v7.7h-7.6zM265.7 673.9h7.6v7.7h-7.6zM280.3 673.9h7.6v7.7h-7.6zM112.7 681.3h36.7v7.7h-36.7zM156.4 681.3h7.6v7.7h-7.6zM192.9 681.3h7.6v7.7h-7.6zM214.7 681.3h7.6v7.7h-7.6zM462.5 681.3h7.6v7.7h-7.6zM120 688.6h7.6v7.7h-7.6zM156.4 688.6h7.6v7.7h-7.6zM214.7 688.6h14.9v7.7h-14.9zM265.7 688.6h7.6v7.7h-7.6zM477.1 688.6h7.6v7.7h-7.6zM163.7 696h7.6v7.7h-7.6zM222 696h7.6v7.7h-7.6zM251.2 696h7.6v7.7h-7.6zM287.6 696h7.6v7.7h-7.6zM549.9 755h7.6v7.7h-7.6zM345.9 769.8h14.9v7.7h-14.9zM345.9 777.2h7.6v7.7h-7.6zM579.1 777.2h7.6v7.7h-7.6zM353.2 784.5h14.9v7.7h-14.9zM600.9 799.3h7.6v7.7h-7.6zM382.3 806.7h7.6v7.7h-7.6z"/>
<path fill="#67cfd1" d="M404.2 32.1h7.6v7.7h-7.6zM389.6 39.5h22.2v7.7h-22.2zM404.2 46.8h14.9v7.7h-14.9zM411.5 54.2h7.6v7.7h-7.6zM418.8 61.6h7.6v7.7h-7.6zM418.8 69h14.9v7.7h-14.9zM418.8 76.4h14.9v7.7h-14.9zM418.8 83.7h7.6v7.7h-7.6zM426.1 91.1h7.6v7.7h-7.6zM426.1 98.5h14.9v7.7h-14.9zM433.3 105.9h14.9v7.7h-14.9zM433.3 113.2h7.6v7.7h-7.6zM440.6 120.6h7.6v7.7h-7.6zM440.6 128h14.9v7.7h-14.9zM447.9 135.4h14.9v7.7h-14.9zM455.2 150.1h22.2v7.7h-22.2zM469.8 157.5h14.9v7.7h-14.9zM469.8 164.9h14.9v7.7h-14.9zM484.3 172.3h7.6v7.7h-7.6zM491.6 187h7.6v7.7h-7.6zM498.9 194.4h7.6v7.7h-7.6zM506.2 201.8h7.6v7.7h-7.6zM528.1 223.9h7.6v7.7h-7.6zM542.6 231.3h7.6v7.7h-7.6zM564.5 238.6h7.6v7.7h-7.6zM571.8 246h14.9v7.7h-14.9zM586.4 253.4h7.6v7.7h-7.6zM593.7 260.8h7.6v7.7h-7.6zM600.9 268.2h7.6v7.7h-7.6zM622.8 290.3h7.6v7.7h-7.6zM644.7 305h7.6v7.7h-7.6zM69 415.7h7.6v7.7h-7.6zM76.3 423.1h7.6v7.7h-7.6zM90.8 437.8h7.6v7.7h-7.6zM98.1 445.2h7.6v7.7h-7.6zM98.1 460h7.6v7.7h-7.6zM141.9 504.2h7.6v7.7h-7.6zM171 533.7h7.6v7.7h-7.6zM178.3 541.1h7.6v7.7h-7.6zM178.3 555.9h14.9v7.7h-14.9zM207.4 563.2h7.6v7.7h-7.6zM192.9 570.6h7.6v7.7h-7.6zM207.4 570.6h7.6v7.7h-7.6zM222 570.6h22.2v7.7h-22.2zM273 570.6h7.6v7.7h-7.6zM192.9 578h14.9v7.7h-14.9zM149.1 585.4h7.6v7.7h-7.6zM309.5 585.4h7.6v7.7h-7.6zM149.1 592.7h7.6v7.7h-7.6zM200.2 592.7h7.6v7.7h-7.6zM324 592.7h7.6v7.7h-7.6zM141.9 600.1h7.6v7.7h-7.6zM207.4 600.1h7.6v7.7h-7.6zM338.6 600.1h7.6v7.7h-7.6zM134.6 614.9h14.9v7.7h-14.9zM214.7 614.9h7.6v7.7h-7.6zM353.2 614.9h7.6v7.7h-7.6zM141.9 622.2h7.6v7.7h-7.6zM214.7 622.2h14.9v7.7h-14.9zM353.2 622.2h7.6v7.7h-7.6zM141.9 629.6h7.6v7.7h-7.6zM345.9 629.6h7.6v7.7h-7.6zM120 637h14.9v7.7h-14.9zM222 637h14.9v7.7h-14.9zM353.2 637h14.9v7.7h-14.9zM112.7 644.4h7.6v7.7h-7.6zM236.6 644.4h7.6v7.7h-7.6zM345.9 644.4h14.9v7.7h-14.9zM90.8 651.8h7.6v7.7h-7.6zM105.4 651.8h22.2v7.7h-22.2zM251.2 651.8h14.9v7.7h-14.9zM360.5 651.8h14.9v7.7h-14.9zM98.1 659.1h14.9v7.7h-14.9zM120 659.1h7.6v7.7h-7.6zM222 659.1h7.6v7.7h-7.6zM251.2 659.1h22.2v7.7h-22.2zM287.6 659.1h7.6v7.7h-7.6zM353.2 659.1h7.6v7.7h-7.6zM367.8 659.1h29.4v7.7h-29.4zM98.1 666.5h14.9v7.7h-14.9zM178.3 666.5h7.6v7.7h-7.6zM280.3 666.5h7.6v7.7h-7.6zM294.9 666.5h7.6v7.7h-7.6zM440.6 666.5h7.6v7.7h-7.6zM90.8 673.9h14.9v7.7h-14.9zM120 673.9h7.6v7.7h-7.6zM149.1 673.9h7.6v7.7h-7.6zM163.7 673.9h29.4v7.7h-29.4zM222 673.9h22.2v7.7h-22.2zM251.2 673.9h14.9v7.7h-14.9zM273 673.9h7.6v7.7h-7.6zM287.6 673.9h14.9v7.7h-14.9zM309.5 673.9h7.6v7.7h-7.6zM163.7 681.3h29.4v7.7h-29.4zM200.2 681.3h14.9v7.7h-14.9zM222 681.3h80.5v7.7h-80.5zM331.3 681.3h7.6v7.7h-7.6zM90.8 688.6h14.9v7.7h-14.9zM112.7 688.6h7.6v7.7h-7.6zM127.3 688.6h29.4v7.7h-29.4zM163.7 688.6h7.6v7.7h-7.6zM178.3 688.6h36.7v7.7h-36.7zM236.6 688.6h29.4v7.7h-29.4zM273 688.6h22.2v7.7h-22.2zM69 696h7.6v7.7h-7.6zM83.6 696h7.6v7.7h-7.6zM98.1 696h7.6v7.7h-7.6zM120 696h29.4v7.7h-29.4zM171 696h22.2v7.7h-22.2zM200.2 696h22.2v7.7h-22.2zM229.3 696h22.2v7.7h-22.2zM258.4 696h29.4v7.7h-29.4zM294.9 696h14.9v7.7h-14.9zM98.1 703.4h22.2v7.7h-22.2zM134.6 703.4h14.9v7.7h-14.9zM156.4 703.4h7.6v7.7h-7.6zM192.9 703.4h7.6v7.7h-7.6zM229.3 703.4h7.6v7.7h-7.6zM243.9 703.4h29.4v7.7h-29.4zM287.6 703.4h14.9v7.7h-14.9zM112.7 710.8h14.9v7.7h-14.9zM134.6 710.8h7.6v7.7h-7.6zM149.1 710.8h7.6v7.7h-7.6zM178.3 710.8h7.6v7.7h-7.6zM192.9 710.8h14.9v7.7h-14.9zM229.3 710.8h7.6v7.7h-7.6zM243.9 710.8h58.6v7.7h-58.6zM484.3 710.8h7.6v7.7h-7.6zM149.1 718.2h7.6v7.7h-7.6zM258.4 718.2h36.7v7.7h-36.7zM491.6 718.2h7.6v7.7h-7.6zM61.7 725.5h7.6v7.7h-7.6zM149.1 725.5h7.6v7.7h-7.6zM222 725.5h7.6v7.7h-7.6zM236.6 725.5h29.4v7.7h-29.4zM280.3 725.5h7.6v7.7h-7.6zM294.9 725.5h7.6v7.7h-7.6zM76.3 732.9h7.6v7.7h-7.6zM120 732.9h7.6v7.7h-7.6zM258.4 732.9h7.6v7.7h-7.6zM273 732.9h14.9v7.7h-14.9zM90.8 740.3h7.6v7.7h-7.6zM112.7 740.3h7.6v7.7h-7.6zM280.3 740.3h7.6v7.7h-7.6zM207.4 747.7h7.6v7.7h-7.6zM156.4 755h7.6v7.7h-7.6zM214.7 755h14.9v7.7h-14.9zM258.4 755h7.6v7.7h-7.6zM316.7 755h7.6v7.7h-7.6zM331.3 755h7.6v7.7h-7.6zM345.9 755h7.6v7.7h-7.6zM542.6 755h7.6v7.7h-7.6zM229.3 762.4h7.6v7.7h-7.6zM294.9 762.4h7.6v7.7h-7.6zM324 762.4h7.6v7.7h-7.6zM345.9 762.4h7.6v7.7h-7.6zM557.2 762.4h7.6v7.7h-7.6zM83.6 769.8h7.6v7.7h-7.6zM200.2 769.8h7.6v7.7h-7.6zM236.6 769.8h7.6v7.7h-7.6zM324 769.8h22.2v7.7h-22.2zM360.5 769.8h7.6v7.7h-7.6zM564.5 769.8h7.6v7.7h-7.6zM134.6 777.2h7.6v7.7h-7.6zM229.3 777.2h7.6v7.7h-7.6zM258.4 777.2h7.6v7.7h-7.6zM309.5 777.2h7.6v7.7h-7.6zM324 777.2h22.2v7.7h-22.2zM353.2 777.2h22.2v7.7h-22.2zM222 784.5h7.6v7.7h-7.6zM236.6 784.5h7.6v7.7h-7.6zM338.6 784.5h14.9v7.7h-14.9zM367.8 784.5h14.9v7.7h-14.9zM586.4 784.5h7.6v7.7h-7.6zM309.5 791.9h7.6v7.7h-7.6zM345.9 791.9h14.9v7.7h-14.9zM207.4 799.3h7.6v7.7h-7.6zM353.2 799.3h7.6v7.7h-7.6zM367.8 799.3h22.2v7.7h-22.2zM61.7 806.7h14.9v7.7h-14.9zM353.2 806.7h29.4v7.7h-29.4zM600.9 806.7h7.6v7.7h-7.6z"/>
<path fill="#64cccf" d="M418.8 32.1h7.6v7.7h-7.6zM411.5 39.5h22.2v7.7h-22.2zM418.8 46.8h14.9v7.7h-14.9zM418.8 54.2h14.9v7.7h-14.9zM426.1 61.6h7.6v7.7h-7.6zM433.3 76.4h7.6v7.7h-7.6zM426.1 83.7h14.9v7.7h-14.9zM433.3 91.1h14.9v7.7h-14.9zM440.6 98.5h7.6v7.7h-7.6zM440.6 113.2h14.9v7.7h-14.9zM455.2 120.6h7.6v7.7h-7.6zM455.2 128h7.6v7.7h-7.6zM462.5 135.4h7.6v7.7h-7.6zM455.2 142.7h14.9v7.7h-14.9zM477.1 172.3h7.6v7.7h-7.6zM491.6 172.3h7.6v7.7h-7.6zM491.6 179.6h14.9v7.7h-14.9zM498.9 187h7.6v7.7h-7.6zM506.2 194.4h7.6v7.7h-7.6zM513.5 201.8h7.6v7.7h-7.6zM513.5 209.1h22.2v7.7h-22.2zM528.1 216.5h14.9v7.7h-14.9zM535.4 223.9h7.6v7.7h-7.6zM549.9 231.3h7.6v7.7h-7.6zM571.8 238.6h14.9v7.7h-14.9zM586.4 246h7.6v7.7h-7.6zM593.7 253.4h7.6v7.7h-7.6zM608.2 275.5h7.6v7.7h-7.6zM615.5 282.9h7.6v7.7h-7.6zM637.4 297.7h7.6v7.7h-7.6zM651.9 305h7.6v7.7h-7.6zM659.2 312.4h22.2v7.7h-22.2zM76.3 430.4h14.9v7.7h-14.9zM90.8 445.2h7.6v7.7h-7.6zM98.1 452.6h7.6v7.7h-7.6zM105.4 474.7h7.6v7.7h-7.6zM112.7 482.1h14.9v7.7h-14.9zM127.3 489.5h7.6v7.7h-7.6zM134.6 496.8h7.6v7.7h-7.6zM178.3 548.5h7.6v7.7h-7.6zM163.7 563.2h22.2v7.7h-22.2zM163.7 570.6h7.6v7.7h-7.6zM200.2 570.6h7.6v7.7h-7.6zM214.7 570.6h7.6v7.7h-7.6zM243.9 570.6h29.4v7.7h-29.4zM149.1 578h14.9v7.7h-14.9zM207.4 578h22.2v7.7h-22.2zM236.6 578h7.6v7.7h-7.6zM273 578h7.6v7.7h-7.6zM287.6 578h7.6v7.7h-7.6zM141.9 585.4h7.6v7.7h-7.6zM207.4 585.4h7.6v7.7h-7.6zM222 585.4h7.6v7.7h-7.6zM141.9 592.7h7.6v7.7h-7.6zM207.4 592.7h22.2v7.7h-22.2zM127.3 600.1h14.9v7.7h-14.9zM214.7 600.1h7.6v7.7h-7.6zM127.3 607.5h22.2v7.7h-22.2zM214.7 607.5h7.6v7.7h-7.6zM345.9 607.5h7.6v7.7h-7.6zM127.3 614.9h7.6v7.7h-7.6zM222 614.9h7.6v7.7h-7.6zM120 622.2h22.2v7.7h-22.2zM105.4 629.6h29.4v7.7h-29.4zM229.3 629.6h7.6v7.7h-7.6zM112.7 637h7.6v7.7h-7.6zM236.6 637h7.6v7.7h-7.6zM258.4 637h7.6v7.7h-7.6zM345.9 637h7.6v7.7h-7.6zM90.8 644.4h22.2v7.7h-22.2zM120 644.4h7.6v7.7h-7.6zM251.2 644.4h22.2v7.7h-22.2zM338.6 644.4h7.6v7.7h-7.6zM83.6 651.8h7.6v7.7h-7.6zM98.1 651.8h7.6v7.7h-7.6zM265.7 651.8h29.4v7.7h-29.4zM302.2 651.8h7.6v7.7h-7.6zM345.9 651.8h14.9v7.7h-14.9zM61.7 659.1h14.9v7.7h-14.9zM90.8 659.1h7.6v7.7h-7.6zM280.3 659.1h7.6v7.7h-7.6zM294.9 659.1h22.2v7.7h-22.2zM324 659.1h7.6v7.7h-7.6zM345.9 659.1h7.6v7.7h-7.6zM360.5 659.1h7.6v7.7h-7.6zM69 666.5h7.6v7.7h-7.6zM302.2 666.5h29.4v7.7h-29.4zM353.2 666.5h14.9v7.7h-14.9zM375 666.5h7.6v7.7h-7.6zM418.8 666.5h22.2v7.7h-22.2zM61.7 673.9h14.9v7.7h-14.9zM83.6 673.9h7.6v7.7h-7.6zM302.2 673.9h7.6v7.7h-7.6zM316.7 673.9h29.4v7.7h-29.4zM447.9 673.9h7.6v7.7h-7.6zM69 681.3h44v7.7h-44zM149.1 681.3h7.6v7.7h-7.6zM309.5 681.3h22.2v7.7h-22.2zM338.6 681.3h7.6v7.7h-7.6zM455.2 681.3h7.6v7.7h-7.6zM61.7 688.6h29.4v7.7h-29.4zM105.4 688.6h7.6v7.7h-7.6zM171 688.6h7.6v7.7h-7.6zM229.3 688.6h7.6v7.7h-7.6zM294.9 688.6h29.4v7.7h-29.4zM61.7 696h7.6v7.7h-7.6zM76.3 696h7.6v7.7h-7.6zM90.8 696h7.6v7.7h-7.6zM105.4 696h14.9v7.7h-14.9zM149.1 696h14.9v7.7h-14.9zM192.9 696h7.6v7.7h-7.6zM309.5 696h14.9v7.7h-14.9zM331.3 696h7.6v7.7h-7.6zM477.1 696h7.6v7.7h-7.6zM69 703.4h29.4v7.7h-29.4zM120 703.4h14.9v7.7h-14.9zM149.1 703.4h7.6v7.7h-7.6zM163.7 703.4h29.4v7.7h-29.4zM200.2 703.4h29.4v7.7h-29.4zM236.6 703.4h7.6v7.7h-7.6zM273 703.4h14.9v7.7h-14.9zM302.2 703.4h7.6v7.7h-7.6zM316.7 703.4h14.9v7.7h-14.9zM477.1 703.4h7.6v7.7h-7.6zM61.7 710.8h14.9v7.7h-14.9zM90.8 710.8h7.6v7.7h-7.6zM105.4 710.8h7.6v7.7h-7.6zM141.9 710.8h7.6v7.7h-7.6zM163.7 710.8h14.9v7.7h-14.9zM185.6 710.8h7.6v7.7h-7.6zM207.4 710.8h7.6v7.7h-7.6zM222 710.8h7.6v7.7h-7.6zM236.6 710.8h7.6v7.7h-7.6zM302.2 710.8h14.9v7.7h-14.9zM324 710.8h7.6v7.7h-7.6zM61.7 718.2h87.7v7.7h-87.7zM156.4 718.2h14.9v7.7h-14.9zM185.6 718.2h29.4v7.7h-29.4zM222 718.2h36.7v7.7h-36.7zM294.9 718.2h29.4v7.7h-29.4zM69 725.5h7.6v7.7h-7.6zM90.8 725.5h22.2v7.7h-22.2zM120 725.5h29.4v7.7h-29.4zM156.4 725.5h14.9v7.7h-14.9zM178.3 725.5h7.6v7.7h-7.6zM200.2 725.5h14.9v7.7h-14.9zM229.3 725.5h7.6v7.7h-7.6zM273 725.5h7.6v7.7h-7.6zM287.6 725.5h7.6v7.7h-7.6zM302.2 725.5h14.9v7.7h-14.9zM324 725.5h22.2v7.7h-22.2zM498.9 725.5h7.6v7.7h-7.6zM69 732.9h7.6v7.7h-7.6zM83.6 732.9h7.6v7.7h-7.6zM98.1 732.9h22.2v7.7h-22.2zM134.6 732.9h7.6v7.7h-7.6zM149.1 732.9h29.4v7.7h-29.4zM185.6 732.9h14.9v7.7h-14.9zM207.4 732.9h51.3v7.7h-51.3zM265.7 732.9h7.6v7.7h-7.6zM287.6 732.9h14.9v7.7h-14.9zM309.5 732.9h36.7v7.7h-36.7zM61.7 740.3h29.4v7.7h-29.4zM98.1 740.3h14.9v7.7h-14.9zM120 740.3h58.6v7.7h-58.6zM185.6 740.3h7.6v7.7h-7.6zM207.4 740.3h22.2v7.7h-22.2zM236.6 740.3h44v7.7h-44zM287.6 740.3h36.7v7.7h-36.7zM331.3 740.3h22.2v7.7h-22.2zM360.5 740.3h7.6v7.7h-7.6zM61.7 747.7h36.7v7.7h-36.7zM105.4 747.7h22.2v7.7h-22.2zM134.6 747.7h22.2v7.7h-22.2zM163.7 747.7h7.6v7.7h-7.6zM185.6 747.7h22.2v7.7h-22.2zM214.7 747.7h7.6v7.7h-7.6zM229.3 747.7h116.9v7.7h-116.9zM360.5 747.7h7.6v7.7h-7.6zM61.7 755h51.3v7.7h-51.3zM120 755h14.9v7.7h-14.9zM149.1 755h7.6v7.7h-7.6zM163.7 755h29.4v7.7h-29.4zM200.2 755h14.9v7.7h-14.9zM229.3 755h7.6v7.7h-7.6zM243.9 755h14.9v7.7h-14.9zM265.7 755h51.3v7.7h-51.3zM324 755h7.6v7.7h-7.6zM338.6 755h7.6v7.7h-7.6zM353.2 755h22.2v7.7h-22.2zM61.7 762.4h22.2v7.7h-22.2zM90.8 762.4h14.9v7.7h-14.9zM112.7 762.4h22.2v7.7h-22.2zM141.9 762.4h14.9v7.7h-14.9zM163.7 762.4h22.2v7.7h-22.2zM192.9 762.4h7.6v7.7h-7.6zM207.4 762.4h14.9v7.7h-14.9zM236.6 762.4h29.4v7.7h-29.4zM280.3 762.4h14.9v7.7h-14.9zM309.5 762.4h14.9v7.7h-14.9zM331.3 762.4h14.9v7.7h-14.9zM353.2 762.4h22.2v7.7h-22.2zM61.7 769.8h22.2v7.7h-22.2zM90.8 769.8h14.9v7.7h-14.9zM112.7 769.8h58.6v7.7h-58.6zM178.3 769.8h7.6v7.7h-7.6zM192.9 769.8h7.6v7.7h-7.6zM222 769.8h14.9v7.7h-14.9zM251.2 769.8h36.7v7.7h-36.7zM294.9 769.8h29.4v7.7h-29.4zM367.8 769.8h7.6v7.7h-7.6zM69 777.2h7.6v7.7h-7.6zM83.6 777.2h7.6v7.7h-7.6zM98.1 777.2h7.6v7.7h-7.6zM112.7 777.2h14.9v7.7h-14.9zM149.1 777.2h22.2v7.7h-22.2zM185.6 777.2h7.6v7.7h-7.6zM207.4 777.2h22.2v7.7h-22.2zM236.6 777.2h22.2v7.7h-22.2zM265.7 777.2h44v7.7h-44zM316.7 777.2h7.6v7.7h-7.6zM382.3 777.2h7.6v7.7h-7.6zM571.8 777.2h7.6v7.7h-7.6zM61.7 784.5h7.6v7.7h-7.6zM90.8 784.5h14.9v7.7h-14.9zM127.3 784.5h14.9v7.7h-14.9zM149.1 784.5h7.6v7.7h-7.6zM163.7 784.5h58.6v7.7h-58.6zM251.2 784.5h36.7v7.7h-36.7zM294.9 784.5h44v7.7h-44zM69 791.9h44v7.7h-44zM120 791.9h44v7.7h-44zM171 791.9h109.6v7.7h-109.6zM287.6 791.9h7.6v7.7h-7.6zM302.2 791.9h7.6v7.7h-7.6zM324 791.9h22.2v7.7h-22.2zM360.5 791.9h29.4v7.7h-29.4zM593.7 791.9h7.6v7.7h-7.6zM69 799.3h58.6v7.7h-58.6zM141.9 799.3h51.3v7.7h-51.3zM200.2 799.3h7.6v7.7h-7.6zM214.7 799.3h7.6v7.7h-7.6zM236.6 799.3h22.2v7.7h-22.2zM273 799.3h44v7.7h-44zM324 799.3h29.4v7.7h-29.4zM360.5 799.3h7.6v7.7h-7.6zM389.6 799.3h7.6v7.7h-7.6zM76.3 806.7h14.9v7.7h-14.9zM98.1 806.7h29.4v7.7h-29.4zM141.9 806.7h29.4v7.7h-29.4zM178.3 806.7h7.6v7.7h-7.6zM192.9 806.7h29.4v7.7h-29.4zM236.6 806.7h36.7v7.7h-36.7zM280.3 806.7h36.7v7.7h-36.7zM324 806.7h29.4v7.7h-29.4zM389.6 806.7h7.6v7.7h-7.6z"/>
<path fill="#60c9cd" d="M426.1 32.1h7.6v7.7h-7.6zM433.3 39.5h22.2v7.7h-22.2zM440.6 46.8h7.6v7.7h-7.6zM455.2 46.8h7.6v7.7h-7.6zM433.3 54.2h14.9v7.7h-14.9zM433.3 61.6h7.6v7.7h-7.6zM433.3 69h14.9v7.7h-14.9zM447.9 76.4h7.6v7.7h-7.6zM447.9 98.5h14.9v7.7h-14.9zM447.9 105.9h7.6v7.7h-7.6zM455.2 113.2h7.6v7.7h-7.6zM469.8 113.2h7.6v7.7h-7.6zM447.9 120.6h7.6v7.7h-7.6zM462.5 128h7.6v7.7h-7.6zM477.1 135.4h7.6v7.7h-7.6zM469.8 142.7h22.2v7.7h-22.2zM477.1 150.1h14.9v7.7h-14.9zM484.3 157.5h7.6v7.7h-7.6zM484.3 164.9h14.9v7.7h-14.9zM498.9 172.3h7.6v7.7h-7.6zM506.2 187h7.6v7.7h-7.6zM520.8 201.8h14.9v7.7h-14.9zM535.4 209.1h7.6v7.7h-7.6zM542.6 223.9h14.9v7.7h-14.9zM557.2 231.3h14.9v7.7h-14.9zM593.7 246h7.6v7.7h-7.6zM600.9 253.4h7.6v7.7h-7.6zM600.9 260.8h7.6v7.7h-7.6zM608.2 268.2h7.6v7.7h-7.6zM615.5 275.5h7.6v7.7h-7.6zM622.8 282.9h7.6v7.7h-7.6zM630.1 290.3h14.9v7.7h-14.9zM644.7 297.7h7.6v7.7h-7.6zM61.7 415.7h7.6v7.7h-7.6zM69 423.1h7.6v7.7h-7.6zM83.6 437.8h7.6v7.7h-7.6zM98.1 467.3h7.6v7.7h-7.6zM98.1 474.7h7.6v7.7h-7.6zM105.4 482.1h7.6v7.7h-7.6zM120 489.5h7.6v7.7h-7.6zM149.1 519h7.6v7.7h-7.6zM156.4 526.3h7.6v7.7h-7.6zM163.7 533.7h7.6v7.7h-7.6zM171 541.1h7.6v7.7h-7.6zM171 555.9h7.6v7.7h-7.6zM149.1 570.6h14.9v7.7h-14.9zM141.9 578h7.6v7.7h-7.6zM229.3 578h7.6v7.7h-7.6zM243.9 578h14.9v7.7h-14.9zM280.3 578h7.6v7.7h-7.6zM134.6 585.4h7.6v7.7h-7.6zM200.2 585.4h7.6v7.7h-7.6zM214.7 585.4h7.6v7.7h-7.6zM229.3 585.4h14.9v7.7h-14.9zM302.2 585.4h7.6v7.7h-7.6zM69 592.7h7.6v7.7h-7.6zM127.3 592.7h14.9v7.7h-14.9zM229.3 592.7h7.6v7.7h-7.6zM316.7 592.7h7.6v7.7h-7.6zM105.4 600.1h7.6v7.7h-7.6zM120 600.1h7.6v7.7h-7.6zM120 607.5h7.6v7.7h-7.6zM222 607.5h7.6v7.7h-7.6zM120 614.9h7.6v7.7h-7.6zM69 622.2h7.6v7.7h-7.6zM112.7 622.2h7.6v7.7h-7.6zM229.3 622.2h7.6v7.7h-7.6zM345.9 622.2h7.6v7.7h-7.6zM69 629.6h7.6v7.7h-7.6zM90.8 629.6h14.9v7.7h-14.9zM236.6 629.6h14.9v7.7h-14.9zM338.6 629.6h7.6v7.7h-7.6zM69 637h29.4v7.7h-29.4zM105.4 637h7.6v7.7h-7.6zM243.9 637h14.9v7.7h-14.9zM338.6 637h7.6v7.7h-7.6zM61.7 644.4h29.4v7.7h-29.4zM273 644.4h29.4v7.7h-29.4zM61.7 651.8h22.2v7.7h-22.2zM294.9 651.8h7.6v7.7h-7.6zM309.5 651.8h14.9v7.7h-14.9zM331.3 651.8h14.9v7.7h-14.9zM76.3 659.1h14.9v7.7h-14.9zM316.7 659.1h7.6v7.7h-7.6zM331.3 659.1h14.9v7.7h-14.9zM61.7 666.5h7.6v7.7h-7.6zM76.3 666.5h22.2v7.7h-22.2zM331.3 666.5h22.2v7.7h-22.2zM367.8 666.5h7.6v7.7h-7.6zM411.5 666.5h7.6v7.7h-7.6zM76.3 673.9h7.6v7.7h-7.6zM345.9 673.9h14.9v7.7h-14.9zM61.7 681.3h7.6v7.7h-7.6zM302.2 681.3h7.6v7.7h-7.6zM324 688.6h22.2v7.7h-22.2zM469.8 688.6h7.6v7.7h-7.6zM324 696h7.6v7.7h-7.6zM338.6 696h7.6v7.7h-7.6zM61.7 703.4h7.6v7.7h-7.6zM309.5 703.4h7.6v7.7h-7.6zM331.3 703.4h22.2v7.7h-22.2zM76.3 710.8h14.9v7.7h-14.9zM98.1 710.8h7.6v7.7h-7.6zM127.3 710.8h7.6v7.7h-7.6zM156.4 710.8h7.6v7.7h-7.6zM214.7 710.8h7.6v7.7h-7.6zM316.7 710.8h7.6v7.7h-7.6zM331.3 710.8h29.4v7.7h-29.4zM171 718.2h14.9v7.7h-14.9zM214.7 718.2h7.6v7.7h-7.6zM324 718.2h22.2v7.7h-22.2zM360.5 718.2h14.9v7.7h-14.9zM76.3 725.5h14.9v7.7h-14.9zM112.7 725.5h7.6v7.7h-7.6zM171 725.5h7.6v7.7h-7.6zM185.6 725.5h14.9v7.7h-14.9zM214.7 725.5h7.6v7.7h-7.6zM265.7 725.5h7.6v7.7h-7.6zM316.7 725.5h7.6v7.7h-7.6zM61.7 732.9h7.6v7.7h-7.6zM90.8 732.9h7.6v7.7h-7.6zM127.3 732.9h7.6v7.7h-7.6zM141.9 732.9h7.6v7.7h-7.6zM178.3 732.9h7.6v7.7h-7.6zM200.2 732.9h7.6v7.7h-7.6zM302.2 732.9h7.6v7.7h-7.6zM353.2 732.9h14.9v7.7h-14.9zM506.2 732.9h7.6v7.7h-7.6zM178.3 740.3h7.6v7.7h-7.6zM192.9 740.3h14.9v7.7h-14.9zM229.3 740.3h7.6v7.7h-7.6zM324 740.3h7.6v7.7h-7.6zM353.2 740.3h7.6v7.7h-7.6zM98.1 747.7h7.6v7.7h-7.6zM127.3 747.7h7.6v7.7h-7.6zM156.4 747.7h7.6v7.7h-7.6zM171 747.7h14.9v7.7h-14.9zM222 747.7h7.6v7.7h-7.6zM345.9 747.7h14.9v7.7h-14.9zM367.8 747.7h22.2v7.7h-22.2zM520.8 747.7h7.6v7.7h-7.6zM112.7 755h7.6v7.7h-7.6zM134.6 755h14.9v7.7h-14.9zM192.9 755h7.6v7.7h-7.6zM236.6 755h7.6v7.7h-7.6zM375 755h14.9v7.7h-14.9zM535.4 755h7.6v7.7h-7.6zM83.6 762.4h7.6v7.7h-7.6zM105.4 762.4h7.6v7.7h-7.6zM134.6 762.4h7.6v7.7h-7.6zM156.4 762.4h7.6v7.7h-7.6zM185.6 762.4h7.6v7.7h-7.6zM200.2 762.4h7.6v7.7h-7.6zM222 762.4h7.6v7.7h-7.6zM265.7 762.4h14.9v7.7h-14.9zM302.2 762.4h7.6v7.7h-7.6zM375 762.4h7.6v7.7h-7.6zM549.9 762.4h7.6v7.7h-7.6zM105.4 769.8h7.6v7.7h-7.6zM171 769.8h7.6v7.7h-7.6zM185.6 769.8h7.6v7.7h-7.6zM207.4 769.8h14.9v7.7h-14.9zM243.9 769.8h7.6v7.7h-7.6zM287.6 769.8h7.6v7.7h-7.6zM61.7 777.2h7.6v7.7h-7.6zM76.3 777.2h7.6v7.7h-7.6zM90.8 777.2h7.6v7.7h-7.6zM105.4 777.2h7.6v7.7h-7.6zM127.3 777.2h7.6v7.7h-7.6zM141.9 777.2h7.6v7.7h-7.6zM171 777.2h14.9v7.7h-14.9zM192.9 777.2h14.9v7.7h-14.9zM375 777.2h7.6v7.7h-7.6zM69 784.5h22.2v7.7h-22.2zM105.4 784.5h22.2v7.7h-22.2zM141.9 784.5h7.6v7.7h-7.6zM156.4 784.5h7.6v7.7h-7.6zM229.3 784.5h7.6v7.7h-7.6zM287.6 784.5h7.6v7.7h-7.6zM382.3 784.5h7.6v7.7h-7.6zM579.1 784.5h7.6v7.7h-7.6zM61.7 791.9h7.6v7.7h-7.6zM112.7 791.9h7.6v7.7h-7.6zM163.7 791.9h7.6v7.7h-7.6zM280.3 791.9h7.6v7.7h-7.6zM294.9 791.9h7.6v7.7h-7.6zM316.7 791.9h7.6v7.7h-7.6zM61.7 799.3h7.6v7.7h-7.6zM127.3 799.3h14.9v7.7h-14.9zM192.9 799.3h7.6v7.7h-7.6zM222 799.3h14.9v7.7h-14.9zM258.4 799.3h14.9v7.7h-14.9zM316.7 799.3h7.6v7.7h-7.6zM593.7 799.3h7.6v7.7h-7.6zM90.8 806.7h7.6v7.7h-7.6zM127.3 806.7h14.9v7.7h-14.9zM171 806.7h7.6v7.7h-7.6zM185.6 806.7h7.6v7.7h-7.6zM222 806.7h14.9v7.7h-14.9zM273 806.7h7.6v7.7h-7.6zM316.7 806.7h7.6v7.7h-7.6z"/>
<path fill="#5dc6cb" d="M433.3 32.1h14.9v7.7h-14.9zM462.5 32.1h7.6v7.7h-7.6zM455.2 39.5h7.6v7.7h-7.6zM433.3 46.8h7.6v7.7h-7.6zM447.9 54.2h14.9v7.7h-14.9zM440.6 61.6h22.2v7.7h-22.2zM447.9 69h22.2v7.7h-22.2zM440.6 76.4h7.6v7.7h-7.6zM455.2 76.4h7.6v7.7h-7.6zM440.6 83.7h22.2v7.7h-22.2zM447.9 91.1h22.2v7.7h-22.2zM455.2 105.9h14.9v7.7h-14.9zM462.5 113.2h7.6v7.7h-7.6zM484.3 113.2h7.6v7.7h-7.6zM462.5 120.6h36.7v7.7h-36.7zM469.8 128h7.6v7.7h-7.6zM484.3 128h14.9v7.7h-14.9zM469.8 135.4h7.6v7.7h-7.6zM484.3 135.4h7.6v7.7h-7.6zM491.6 142.7h7.6v7.7h-7.6zM491.6 150.1h7.6v7.7h-7.6zM491.6 157.5h14.9v7.7h-14.9zM498.9 164.9h7.6v7.7h-7.6zM506.2 179.6h14.9v7.7h-14.9zM513.5 187h7.6v7.7h-7.6zM513.5 194.4h29.4v7.7h-29.4zM535.4 201.8h14.9v7.7h-14.9zM542.6 216.5h14.9v7.7h-14.9zM557.2 223.9h7.6v7.7h-7.6zM571.8 231.3h7.6v7.7h-7.6zM586.4 238.6h14.9v7.7h-14.9zM608.2 260.8h7.6v7.7h-7.6zM630.1 282.9h7.6v7.7h-7.6zM651.9 297.7h7.6v7.7h-7.6zM659.2 305h7.6v7.7h-7.6zM76.3 437.8h7.6v7.7h-7.6zM83.6 445.2h7.6v7.7h-7.6zM90.8 452.6h7.6v7.7h-7.6zM90.8 460h7.6v7.7h-7.6zM90.8 467.3h7.6v7.7h-7.6zM105.4 489.5h7.6v7.7h-7.6zM127.3 496.8h7.6v7.7h-7.6zM134.6 504.2h7.6v7.7h-7.6zM141.9 511.6h7.6v7.7h-7.6zM141.9 519h7.6v7.7h-7.6zM149.1 526.3h7.6v7.7h-7.6zM171 548.5h7.6v7.7h-7.6zM163.7 555.9h7.6v7.7h-7.6zM61.7 578h7.6v7.7h-7.6zM258.4 578h14.9v7.7h-14.9zM61.7 585.4h7.6v7.7h-7.6zM90.8 585.4h7.6v7.7h-7.6zM120 585.4h14.9v7.7h-14.9zM243.9 585.4h14.9v7.7h-14.9zM61.7 592.7h7.6v7.7h-7.6zM76.3 592.7h22.2v7.7h-22.2zM105.4 592.7h22.2v7.7h-22.2zM236.6 592.7h22.2v7.7h-22.2zM309.5 592.7h7.6v7.7h-7.6zM61.7 600.1h22.2v7.7h-22.2zM112.7 600.1h7.6v7.7h-7.6zM222 600.1h22.2v7.7h-22.2zM324 600.1h14.9v7.7h-14.9zM61.7 607.5h58.6v7.7h-58.6zM229.3 607.5h7.6v7.7h-7.6zM338.6 607.5h7.6v7.7h-7.6zM76.3 614.9h7.6v7.7h-7.6zM90.8 614.9h29.4v7.7h-29.4zM229.3 614.9h7.6v7.7h-7.6zM243.9 614.9h7.6v7.7h-7.6zM338.6 614.9h14.9v7.7h-14.9zM61.7 622.2h7.6v7.7h-7.6zM76.3 622.2h36.7v7.7h-36.7zM236.6 622.2h14.9v7.7h-14.9zM338.6 622.2h7.6v7.7h-7.6zM61.7 629.6h7.6v7.7h-7.6zM76.3 629.6h14.9v7.7h-14.9zM251.2 629.6h7.6v7.7h-7.6zM61.7 637h7.6v7.7h-7.6zM98.1 637h7.6v7.7h-7.6zM265.7 637h14.9v7.7h-14.9zM294.9 637h7.6v7.7h-7.6zM331.3 637h7.6v7.7h-7.6zM302.2 644.4h14.9v7.7h-14.9zM331.3 644.4h7.6v7.7h-7.6zM324 651.8h7.6v7.7h-7.6zM382.3 666.5h7.6v7.7h-7.6zM396.9 666.5h14.9v7.7h-14.9zM440.6 673.9h7.6v7.7h-7.6zM345.9 681.3h14.9v7.7h-14.9zM447.9 681.3h7.6v7.7h-7.6zM345.9 688.6h14.9v7.7h-14.9zM462.5 688.6h7.6v7.7h-7.6zM345.9 696h14.9v7.7h-14.9zM469.8 696h7.6v7.7h-7.6zM353.2 703.4h7.6v7.7h-7.6zM360.5 710.8h22.2v7.7h-22.2zM345.9 718.2h14.9v7.7h-14.9zM382.3 718.2h7.6v7.7h-7.6zM345.9 725.5h36.7v7.7h-36.7zM345.9 732.9h7.6v7.7h-7.6zM367.8 732.9h14.9v7.7h-14.9zM367.8 740.3h14.9v7.7h-14.9zM513.5 740.3h7.6v7.7h-7.6zM389.6 747.7h7.6v7.7h-7.6zM389.6 755h7.6v7.7h-7.6zM382.3 762.4h7.6v7.7h-7.6zM375 769.8h14.9v7.7h-14.9zM557.2 769.8h7.6v7.7h-7.6zM564.5 777.2h7.6v7.7h-7.6zM243.9 784.5h7.6v7.7h-7.6zM389.6 791.9h7.6v7.7h-7.6zM586.4 791.9h7.6v7.7h-7.6zM593.7 806.7h7.6v7.7h-7.6z"/>
<path fill="#5ac2ca" d="M447.9 32.1h14.9v7.7h-14.9zM477.1 32.1h7.6v7.7h-7.6zM462.5 39.5h7.6v7.7h-7.6zM447.9 46.8h7.6v7.7h-7.6zM462.5 46.8h7.6v7.7h-7.6zM462.5 54.2h7.6v7.7h-7.6zM477.1 54.2h7.6v7.7h-7.6zM462.5 61.6h7.6v7.7h-7.6zM462.5 76.4h7.6v7.7h-7.6zM462.5 83.7h14.9v7.7h-14.9zM469.8 91.1h7.6v7.7h-7.6zM462.5 98.5h14.9v7.7h-14.9zM469.8 105.9h22.2v7.7h-22.2zM477.1 113.2h7.6v7.7h-7.6zM491.6 113.2h7.6v7.7h-7.6zM498.9 120.6h7.6v7.7h-7.6zM477.1 128h7.6v7.7h-7.6zM498.9 128h7.6v7.7h-7.6zM491.6 135.4h14.9v7.7h-14.9zM513.5 135.4h7.6v7.7h-7.6zM498.9 142.7h14.9v7.7h-14.9zM498.9 150.1h14.9v7.7h-14.9zM506.2 157.5h7.6v7.7h-7.6zM506.2 164.9h14.9v7.7h-14.9zM506.2 172.3h22.2v7.7h-22.2zM520.8 179.6h22.2v7.7h-22.2zM520.8 187h14.9v7.7h-14.9zM542.6 194.4h7.6v7.7h-7.6zM549.9 201.8h7.6v7.7h-7.6zM542.6 209.1h22.2v7.7h-22.2zM557.2 216.5h7.6v7.7h-7.6zM571.8 216.5h7.6v7.7h-7.6zM564.5 223.9h22.2v7.7h-22.2zM579.1 231.3h14.9v7.7h-14.9zM600.9 238.6h14.9v7.7h-14.9zM600.9 246h14.9v7.7h-14.9zM608.2 253.4h7.6v7.7h-7.6zM615.5 260.8h7.6v7.7h-7.6zM615.5 268.2h7.6v7.7h-7.6zM622.8 275.5h7.6v7.7h-7.6zM644.7 290.3h7.6v7.7h-7.6zM666.5 305h22.2v7.7h-22.2zM61.7 423.1h7.6v7.7h-7.6zM69 430.4h7.6v7.7h-7.6zM69 437.8h7.6v7.7h-7.6zM83.6 452.6h7.6v7.7h-7.6zM112.7 489.5h7.6v7.7h-7.6zM134.6 511.6h7.6v7.7h-7.6zM163.7 541.1h7.6v7.7h-7.6zM163.7 548.5h7.6v7.7h-7.6zM149.1 563.2h14.9v7.7h-14.9zM98.1 570.6h7.6v7.7h-7.6zM120 570.6h7.6v7.7h-7.6zM69 578h14.9v7.7h-14.9zM90.8 578h7.6v7.7h-7.6zM105.4 578h14.9v7.7h-14.9zM127.3 578h14.9v7.7h-14.9zM69 585.4h22.2v7.7h-22.2zM105.4 585.4h14.9v7.7h-14.9zM258.4 585.4h7.6v7.7h-7.6zM280.3 585.4h22.2v7.7h-22.2zM98.1 592.7h7.6v7.7h-7.6zM83.6 600.1h22.2v7.7h-22.2zM243.9 600.1h7.6v7.7h-7.6zM316.7 600.1h7.6v7.7h-7.6zM236.6 607.5h7.6v7.7h-7.6zM324 607.5h14.9v7.7h-14.9zM61.7 614.9h14.9v7.7h-14.9zM236.6 614.9h7.6v7.7h-7.6zM331.3 614.9h7.6v7.7h-7.6zM251.2 622.2h7.6v7.7h-7.6zM331.3 622.2h7.6v7.7h-7.6zM258.4 629.6h29.4v7.7h-29.4zM324 629.6h14.9v7.7h-14.9zM280.3 637h14.9v7.7h-14.9zM302.2 637h14.9v7.7h-14.9zM324 637h7.6v7.7h-7.6zM316.7 644.4h14.9v7.7h-14.9zM389.6 666.5h7.6v7.7h-7.6zM360.5 673.9h22.2v7.7h-22.2zM433.3 673.9h7.6v7.7h-7.6zM360.5 681.3h7.6v7.7h-7.6zM440.6 681.3h7.6v7.7h-7.6zM360.5 688.6h7.6v7.7h-7.6zM360.5 696h7.6v7.7h-7.6zM360.5 703.4h14.9v7.7h-14.9zM477.1 710.8h7.6v7.7h-7.6zM375 718.2h7.6v7.7h-7.6zM484.3 718.2h7.6v7.7h-7.6zM382.3 725.5h7.6v7.7h-7.6zM382.3 732.9h7.6v7.7h-7.6zM382.3 740.3h14.9v7.7h-14.9zM389.6 762.4h7.6v7.7h-7.6zM389.6 784.5h7.6v7.7h-7.6z"/>
<path fill="#56bfc8" d="M469.8 32.1h7.6v7.7h-7.6zM469.8 39.5h7.6v7.7h-7.6zM469.8 46.8h14.9v7.7h-14.9zM469.8 54.2h7.6v7.7h-7.6zM469.8 61.6h7.6v7.7h-7.6zM469.8 69h7.6v7.7h-7.6zM484.3 69h7.6v7.7h-7.6zM469.8 76.4h7.6v7.7h-7.6zM477.1 83.7h14.9v7.7h-14.9zM477.1 91.1h14.9v7.7h-14.9zM477.1 98.5h14.9v7.7h-14.9zM491.6 105.9h7.6v7.7h-7.6zM513.5 120.6h7.6v7.7h-7.6zM506.2 135.4h7.6v7.7h-7.6zM520.8 135.4h7.6v7.7h-7.6zM513.5 142.7h7.6v7.7h-7.6zM513.5 150.1h7.6v7.7h-7.6zM513.5 157.5h22.2v7.7h-22.2zM520.8 164.9h7.6v7.7h-7.6zM535.4 164.9h7.6v7.7h-7.6zM528.1 172.3h14.9v7.7h-14.9zM549.9 172.3h7.6v7.7h-7.6zM542.6 179.6h7.6v7.7h-7.6zM535.4 187h22.2v7.7h-22.2zM549.9 194.4h7.6v7.7h-7.6zM564.5 194.4h14.9v7.7h-14.9zM557.2 201.8h7.6v7.7h-7.6zM564.5 209.1h14.9v7.7h-14.9zM564.5 216.5h7.6v7.7h-7.6zM579.1 216.5h7.6v7.7h-7.6zM586.4 223.9h7.6v7.7h-7.6zM593.7 231.3h14.9v7.7h-14.9zM615.5 246h7.6v7.7h-7.6zM615.5 253.4h7.6v7.7h-7.6zM622.8 260.8h7.6v7.7h-7.6zM622.8 268.2h7.6v7.7h-7.6zM630.1 275.5h7.6v7.7h-7.6zM637.4 282.9h7.6v7.7h-7.6zM61.7 430.4h7.6v7.7h-7.6zM69 445.2h14.9v7.7h-14.9zM61.7 452.6h7.6v7.7h-7.6zM76.3 452.6h7.6v7.7h-7.6zM83.6 467.3h7.6v7.7h-7.6zM90.8 474.7h7.6v7.7h-7.6zM98.1 482.1h7.6v7.7h-7.6zM112.7 496.8h14.9v7.7h-14.9zM120 504.2h14.9v7.7h-14.9zM156.4 533.7h7.6v7.7h-7.6zM156.4 541.1h7.6v7.7h-7.6zM156.4 555.9h7.6v7.7h-7.6zM69 563.2h44v7.7h-44zM120 563.2h7.6v7.7h-7.6zM141.9 563.2h7.6v7.7h-7.6zM61.7 570.6h36.7v7.7h-36.7zM105.4 570.6h14.9v7.7h-14.9zM127.3 570.6h22.2v7.7h-22.2zM83.6 578h7.6v7.7h-7.6zM98.1 578h7.6v7.7h-7.6zM120 578h7.6v7.7h-7.6zM98.1 585.4h7.6v7.7h-7.6zM265.7 585.4h14.9v7.7h-14.9zM258.4 592.7h7.6v7.7h-7.6zM294.9 592.7h14.9v7.7h-14.9zM251.2 600.1h7.6v7.7h-7.6zM309.5 600.1h7.6v7.7h-7.6zM243.9 607.5h7.6v7.7h-7.6zM83.6 614.9h7.6v7.7h-7.6zM324 614.9h7.6v7.7h-7.6zM258.4 622.2h7.6v7.7h-7.6zM273 622.2h7.6v7.7h-7.6zM324 622.2h7.6v7.7h-7.6zM287.6 629.6h14.9v7.7h-14.9zM309.5 629.6h14.9v7.7h-14.9zM316.7 637h7.6v7.7h-7.6zM411.5 673.9h7.6v7.7h-7.6zM426.1 673.9h7.6v7.7h-7.6zM367.8 681.3h7.6v7.7h-7.6zM455.2 688.6h7.6v7.7h-7.6zM367.8 696h7.6v7.7h-7.6zM375 703.4h7.6v7.7h-7.6zM469.8 703.4h7.6v7.7h-7.6zM382.3 710.8h7.6v7.7h-7.6zM389.6 725.5h7.6v7.7h-7.6zM491.6 725.5h7.6v7.7h-7.6zM389.6 732.9h7.6v7.7h-7.6zM396.9 747.7h7.6v7.7h-7.6zM528.1 755h7.6v7.7h-7.6zM542.6 762.4h7.6v7.7h-7.6zM389.6 769.8h7.6v7.7h-7.6zM389.6 777.2h7.6v7.7h-7.6zM571.8 784.5h7.6v7.7h-7.6zM579.1 791.9h7.6v7.7h-7.6zM586.4 799.3h7.6v7.7h-7.6zM396.9 806.7h7.6v7.7h-7.6z"/>
<path fill="#53bcc6" d="M484.3 32.1h14.9v7.7h-14.9zM477.1 39.5h14.9v7.7h-14.9zM484.3 54.2h14.9v7.7h-14.9zM477.1 61.6h7.6v7.7h-7.6zM491.6 61.6h7.6v7.7h-7.6zM477.1 69h7.6v7.7h-7.6zM477.1 76.4h22.2v7.7h-22.2zM491.6 91.1h7.6v7.7h-7.6zM506.2 91.1h7.6v7.7h-7.6zM491.6 98.5h22.2v7.7h-22.2zM498.9 105.9h7.6v7.7h-7.6zM498.9 113.2h14.9v7.7h-14.9zM520.8 113.2h7.6v7.7h-7.6zM506.2 120.6h7.6v7.7h-7.6zM520.8 120.6h7.6v7.7h-7.6zM535.4 120.6h7.6v7.7h-7.6zM506.2 128h29.4v7.7h-29.4zM528.1 135.4h14.9v7.7h-14.9zM520.8 142.7h22.2v7.7h-22.2zM520.8 150.1h22.2v7.7h-22.2zM535.4 157.5h22.2v7.7h-22.2zM528.1 164.9h7.6v7.7h-7.6zM542.6 164.9h7.6v7.7h-7.6zM542.6 172.3h7.6v7.7h-7.6zM549.9 179.6h22.2v7.7h-22.2zM557.2 187h14.9v7.7h-14.9zM557.2 194.4h7.6v7.7h-7.6zM564.5 201.8h22.2v7.7h-22.2zM579.1 209.1h14.9v7.7h-14.9zM586.4 216.5h7.6v7.7h-7.6zM593.7 223.9h14.9v7.7h-14.9zM615.5 238.6h7.6v7.7h-7.6zM622.8 246h7.6v7.7h-7.6zM622.8 253.4h14.9v7.7h-14.9zM630.1 260.8h7.6v7.7h-7.6zM630.1 268.2h7.6v7.7h-7.6zM637.4 275.5h7.6v7.7h-7.6zM644.7 282.9h7.6v7.7h-7.6zM651.9 290.3h7.6v7.7h-7.6zM659.2 297.7h7.6v7.7h-7.6zM61.7 437.8h7.6v7.7h-7.6zM61.7 445.2h7.6v7.7h-7.6zM69 452.6h7.6v7.7h-7.6zM61.7 460h14.9v7.7h-14.9zM83.6 460h7.6v7.7h-7.6zM98.1 489.5h7.6v7.7h-7.6zM105.4 496.8h7.6v7.7h-7.6zM127.3 511.6h7.6v7.7h-7.6zM134.6 519h7.6v7.7h-7.6zM149.1 533.7h7.6v7.7h-7.6zM156.4 548.5h7.6v7.7h-7.6zM61.7 555.9h7.6v7.7h-7.6zM98.1 555.9h7.6v7.7h-7.6zM112.7 555.9h7.6v7.7h-7.6zM127.3 555.9h7.6v7.7h-7.6zM149.1 555.9h7.6v7.7h-7.6zM61.7 563.2h7.6v7.7h-7.6zM112.7 563.2h7.6v7.7h-7.6zM134.6 563.2h7.6v7.7h-7.6zM265.7 592.7h29.4v7.7h-29.4zM258.4 600.1h7.6v7.7h-7.6zM294.9 600.1h7.6v7.7h-7.6zM251.2 607.5h7.6v7.7h-7.6zM309.5 607.5h14.9v7.7h-14.9zM251.2 614.9h14.9v7.7h-14.9zM273 614.9h7.6v7.7h-7.6zM302.2 614.9h7.6v7.7h-7.6zM265.7 622.2h7.6v7.7h-7.6zM280.3 622.2h7.6v7.7h-7.6zM309.5 622.2h14.9v7.7h-14.9zM302.2 629.6h7.6v7.7h-7.6zM382.3 673.9h29.4v7.7h-29.4zM418.8 673.9h7.6v7.7h-7.6zM375 681.3h7.6v7.7h-7.6zM418.8 681.3h22.2v7.7h-22.2zM367.8 688.6h7.6v7.7h-7.6zM375 696h14.9v7.7h-14.9zM462.5 696h7.6v7.7h-7.6zM382.3 703.4h7.6v7.7h-7.6zM389.6 710.8h7.6v7.7h-7.6zM389.6 718.2h7.6v7.7h-7.6zM396.9 740.3h7.6v7.7h-7.6zM506.2 740.3h7.6v7.7h-7.6zM396.9 762.4h7.6v7.7h-7.6zM549.9 769.8h7.6v7.7h-7.6zM557.2 777.2h7.6v7.7h-7.6zM564.5 784.5h7.6v7.7h-7.6zM586.4 806.7h7.6v7.7h-7.6z"/>
<path fill="#50b8c4" d="M491.6 39.5h7.6v7.7h-7.6zM484.3 46.8h22.2v7.7h-22.2zM498.9 54.2h14.9v7.7h-14.9zM484.3 61.6h7.6v7.7h-7.6zM498.9 61.6h7.6v7.7h-7.6zM491.6 69h7.6v7.7h-7.6zM506.2 69h7.6v7.7h-7.6zM498.9 76.4h7.6v7.7h-7.6zM491.6 83.7h14.9v7.7h-14.9zM498.9 91.1h7.6v7.7h-7.6zM528.1 91.1h7.6v7.7h-7.6zM513.5 98.5h22.2v7.7h-22.2zM506.2 105.9h29.4v7.7h-29.4zM542.6 105.9h7.6v7.7h-7.6zM513.5 113.2h7.6v7.7h-7.6zM528.1 113.2h22.2v7.7h-22.2zM528.1 120.6h7.6v7.7h-7.6zM535.4 128h14.9v7.7h-14.9zM542.6 135.4h7.6v7.7h-7.6zM557.2 135.4h7.6v7.7h-7.6zM542.6 142.7h7.6v7.7h-7.6zM542.6 150.1h14.9v7.7h-14.9zM557.2 157.5h7.6v7.7h-7.6zM549.9 164.9h22.2v7.7h-22.2zM557.2 172.3h22.2v7.7h-22.2zM571.8 179.6h14.9v7.7h-14.9zM571.8 187h14.9v7.7h-14.9zM579.1 194.4h14.9v7.7h-14.9zM586.4 201.8h14.9v7.7h-14.9zM593.7 209.1h7.6v7.7h-7.6zM593.7 216.5h22.2v7.7h-22.2zM608.2 223.9h14.9v7.7h-14.9zM608.2 231.3h14.9v7.7h-14.9zM630.1 246h7.6v7.7h-7.6zM637.4 253.4h7.6v7.7h-7.6zM637.4 260.8h14.9v7.7h-14.9zM637.4 268.2h7.6v7.7h-7.6zM644.7 275.5h7.6v7.7h-7.6zM651.9 282.9h7.6v7.7h-7.6zM666.5 297.7h7.6v7.7h-7.6zM76.3 460h7.6v7.7h-7.6zM90.8 482.1h7.6v7.7h-7.6zM90.8 489.5h7.6v7.7h-7.6zM112.7 504.2h7.6v7.7h-7.6zM134.6 526.3h14.9v7.7h-14.9zM149.1 541.1h7.6v7.7h-7.6zM61.7 548.5h22.2v7.7h-22.2zM127.3 548.5h14.9v7.7h-14.9zM69 555.9h29.4v7.7h-29.4zM105.4 555.9h7.6v7.7h-7.6zM120 555.9h7.6v7.7h-7.6zM134.6 555.9h14.9v7.7h-14.9zM127.3 563.2h7.6v7.7h-7.6zM265.7 600.1h29.4v7.7h-29.4zM302.2 600.1h7.6v7.7h-7.6zM258.4 607.5h51.3v7.7h-51.3zM265.7 614.9h7.6v7.7h-7.6zM287.6 614.9h7.6v7.7h-7.6zM309.5 614.9h14.9v7.7h-14.9zM287.6 622.2h22.2v7.7h-22.2zM382.3 681.3h36.7v7.7h-36.7zM375 688.6h14.9v7.7h-14.9zM404.2 688.6h7.6v7.7h-7.6zM418.8 688.6h36.7v7.7h-36.7zM469.8 710.8h7.6v7.7h-7.6zM477.1 718.2h7.6v7.7h-7.6zM396.9 725.5h7.6v7.7h-7.6zM396.9 732.9h7.6v7.7h-7.6zM498.9 732.9h7.6v7.7h-7.6zM513.5 747.7h7.6v7.7h-7.6zM396.9 755h7.6v7.7h-7.6zM535.4 762.4h7.6v7.7h-7.6zM396.9 769.8h7.6v7.7h-7.6zM396.9 791.9h7.6v7.7h-7.6zM396.9 799.3h7.6v7.7h-7.6zM579.1 799.3h7.6v7.7h-7.6zM579.1 806.7h7.6v7.7h-7.6z"/>
<path fill="#4db5c2" d="M498.9 32.1h7.6v7.7h-7.6zM513.5 32.1h7.6v7.7h-7.6zM498.9 39.5h14.9v7.7h-14.9zM506.2 46.8h7.6v7.7h-7.6zM506.2 61.6h7.6v7.7h-7.6zM498.9 69h7.6v7.7h-7.6zM520.8 69h14.9v7.7h-14.9zM506.2 76.4h22.2v7.7h-22.2zM506.2 83.7h29.4v7.7h-29.4zM542.6 83.7h7.6v7.7h-7.6zM513.5 91.1h14.9v7.7h-14.9zM542.6 91.1h14.9v7.7h-14.9zM535.4 98.5h7.6v7.7h-7.6zM535.4 105.9h7.6v7.7h-7.6zM549.9 105.9h14.9v7.7h-14.9zM549.9 113.2h7.6v7.7h-7.6zM542.6 120.6h22.2v7.7h-22.2zM549.9 128h22.2v7.7h-22.2zM549.9 135.4h7.6v7.7h-7.6zM571.8 135.4h7.6v7.7h-7.6zM549.9 142.7h7.6v7.7h-7.6zM564.5 142.7h7.6v7.7h-7.6zM557.2 150.1h22.2v7.7h-22.2zM564.5 157.5h7.6v7.7h-7.6zM579.1 157.5h7.6v7.7h-7.6zM571.8 164.9h14.9v7.7h-14.9zM579.1 172.3h7.6v7.7h-7.6zM593.7 172.3h7.6v7.7h-7.6zM593.7 179.6h7.6v7.7h-7.6zM586.4 187h14.9v7.7h-14.9zM593.7 194.4h14.9v7.7h-14.9zM600.9 201.8h7.6v7.7h-7.6zM600.9 209.1h22.2v7.7h-22.2zM615.5 216.5h7.6v7.7h-7.6zM622.8 223.9h7.6v7.7h-7.6zM622.8 231.3h7.6v7.7h-7.6zM622.8 238.6h14.9v7.7h-14.9zM637.4 246h7.6v7.7h-7.6zM644.7 268.2h7.6v7.7h-7.6zM651.9 275.5h7.6v7.7h-7.6zM659.2 282.9h7.6v7.7h-7.6zM659.2 290.3h7.6v7.7h-7.6zM673.8 297.7h7.6v7.7h-7.6zM61.7 467.3h22.2v7.7h-22.2zM83.6 474.7h7.6v7.7h-7.6zM83.6 482.1h7.6v7.7h-7.6zM98.1 496.8h7.6v7.7h-7.6zM105.4 504.2h7.6v7.7h-7.6zM120 511.6h7.6v7.7h-7.6zM127.3 519h7.6v7.7h-7.6zM61.7 533.7h7.6v7.7h-7.6zM127.3 533.7h7.6v7.7h-7.6zM141.9 533.7h7.6v7.7h-7.6zM61.7 541.1h22.2v7.7h-22.2zM112.7 541.1h29.4v7.7h-29.4zM83.6 548.5h44v7.7h-44zM141.9 548.5h14.9v7.7h-14.9zM280.3 614.9h7.6v7.7h-7.6zM294.9 614.9h7.6v7.7h-7.6zM389.6 688.6h14.9v7.7h-14.9zM411.5 688.6h7.6v7.7h-7.6zM389.6 696h22.2v7.7h-22.2zM418.8 696h7.6v7.7h-7.6zM433.3 696h7.6v7.7h-7.6zM455.2 696h7.6v7.7h-7.6zM389.6 703.4h14.9v7.7h-14.9zM462.5 703.4h7.6v7.7h-7.6zM396.9 710.8h7.6v7.7h-7.6zM396.9 718.2h7.6v7.7h-7.6zM484.3 725.5h7.6v7.7h-7.6zM542.6 769.8h7.6v7.7h-7.6zM396.9 777.2h7.6v7.7h-7.6zM549.9 777.2h7.6v7.7h-7.6zM396.9 784.5h7.6v7.7h-7.6zM557.2 784.5h7.6v7.7h-7.6zM571.8 791.9h7.6v7.7h-7.6z"/>
<path fill="#49b2c0" d="M506.2 32.1h7.6v7.7h-7.6zM520.8 32.1h14.9v7.7h-14.9zM513.5 39.5h22.2v7.7h-22.2zM520.8 46.8h22.2v7.7h-22.2zM513.5 54.2h22.2v7.7h-22.2zM542.6 54.2h14.9v7.7h-14.9zM513.5 61.6h36.7v7.7h-36.7zM513.5 69h7.6v7.7h-7.6zM542.6 69h14.9v7.7h-14.9zM528.1 76.4h14.9v7.7h-14.9zM549.9 76.4h7.6v7.7h-7.6zM535.4 83.7h7.6v7.7h-7.6zM549.9 83.7h7.6v7.7h-7.6zM535.4 91.1h7.6v7.7h-7.6zM557.2 91.1h7.6v7.7h-7.6zM542.6 98.5h22.2v7.7h-22.2zM564.5 105.9h7.6v7.7h-7.6zM557.2 113.2h7.6v7.7h-7.6zM571.8 113.2h7.6v7.7h-7.6zM564.5 120.6h14.9v7.7h-14.9zM571.8 128h7.6v7.7h-7.6zM593.7 128h7.6v7.7h-7.6zM564.5 135.4h7.6v7.7h-7.6zM593.7 135.4h7.6v7.7h-7.6zM557.2 142.7h7.6v7.7h-7.6zM571.8 142.7h14.9v7.7h-14.9zM579.1 150.1h14.9v7.7h-14.9zM571.8 157.5h7.6v7.7h-7.6zM586.4 157.5h7.6v7.7h-7.6zM586.4 164.9h7.6v7.7h-7.6zM586.4 172.3h7.6v7.7h-7.6zM600.9 172.3h7.6v7.7h-7.6zM586.4 179.6h7.6v7.7h-7.6zM600.9 179.6h7.6v7.7h-7.6zM600.9 187h22.2v7.7h-22.2zM608.2 194.4h14.9v7.7h-14.9zM608.2 201.8h22.2v7.7h-22.2zM622.8 209.1h7.6v7.7h-7.6zM630.1 216.5h7.6v7.7h-7.6zM630.1 223.9h7.6v7.7h-7.6zM630.1 231.3h14.9v7.7h-14.9zM637.4 238.6h14.9v7.7h-14.9zM644.7 246h7.6v7.7h-7.6zM644.7 253.4h7.6v7.7h-7.6zM651.9 268.2h7.6v7.7h-7.6zM666.5 290.3h7.6v7.7h-7.6zM681.1 297.7h7.6v7.7h-7.6zM69 474.7h14.9v7.7h-14.9zM112.7 511.6h7.6v7.7h-7.6zM120 526.3h14.9v7.7h-14.9zM69 533.7h7.6v7.7h-7.6zM112.7 533.7h14.9v7.7h-14.9zM134.6 533.7h7.6v7.7h-7.6zM83.6 541.1h29.4v7.7h-29.4zM141.9 541.1h7.6v7.7h-7.6zM426.1 696h7.6v7.7h-7.6zM440.6 696h14.9v7.7h-14.9zM404.2 718.2h7.6v7.7h-7.6zM404.2 725.5h7.6v7.7h-7.6zM404.2 732.9h7.6v7.7h-7.6zM491.6 732.9h7.6v7.7h-7.6zM404.2 740.3h7.6v7.7h-7.6zM404.2 747.7h7.6v7.7h-7.6zM520.8 755h7.6v7.7h-7.6zM571.8 799.3h7.6v7.7h-7.6zM571.8 806.7h7.6v7.7h-7.6z"/>
<path fill="#46aebf" d="M535.4 32.1h7.6v7.7h-7.6zM549.9 32.1h7.6v7.7h-7.6zM535.4 39.5h14.9v7.7h-14.9zM513.5 46.8h7.6v7.7h-7.6zM542.6 46.8h14.9v7.7h-14.9zM535.4 54.2h7.6v7.7h-7.6zM557.2 54.2h7.6v7.7h-7.6zM549.9 61.6h7.6v7.7h-7.6zM535.4 69h7.6v7.7h-7.6zM557.2 69h14.9v7.7h-14.9zM542.6 76.4h7.6v7.7h-7.6zM557.2 76.4h22.2v7.7h-22.2zM557.2 83.7h14.9v7.7h-14.9zM564.5 91.1h14.9v7.7h-14.9zM586.4 91.1h7.6v7.7h-7.6zM564.5 98.5h22.2v7.7h-22.2zM571.8 105.9h7.6v7.7h-7.6zM564.5 113.2h7.6v7.7h-7.6zM579.1 113.2h14.9v7.7h-14.9zM579.1 120.6h14.9v7.7h-14.9zM579.1 128h14.9v7.7h-14.9zM600.9 128h7.6v7.7h-7.6zM579.1 135.4h14.9v7.7h-14.9zM600.9 135.4h14.9v7.7h-14.9zM586.4 142.7h22.2v7.7h-22.2zM593.7 150.1h14.9v7.7h-14.9zM593.7 157.5h7.6v7.7h-7.6zM615.5 157.5h7.6v7.7h-7.6zM593.7 164.9h22.2v7.7h-22.2zM608.2 172.3h14.9v7.7h-14.9zM608.2 179.6h14.9v7.7h-14.9zM622.8 194.4h7.6v7.7h-7.6zM630.1 201.8h7.6v7.7h-7.6zM630.1 209.1h7.6v7.7h-7.6zM622.8 216.5h7.6v7.7h-7.6zM637.4 216.5h7.6v7.7h-7.6zM637.4 223.9h14.9v7.7h-14.9zM644.7 231.3h7.6v7.7h-7.6zM651.9 238.6h7.6v7.7h-7.6zM651.9 246h7.6v7.7h-7.6zM651.9 253.4h7.6v7.7h-7.6zM651.9 260.8h7.6v7.7h-7.6zM659.2 275.5h7.6v7.7h-7.6zM673.8 290.3h7.6v7.7h-7.6zM61.7 474.7h7.6v7.7h-7.6zM76.3 482.1h7.6v7.7h-7.6zM83.6 489.5h7.6v7.7h-7.6zM90.8 496.8h7.6v7.7h-7.6zM98.1 504.2h7.6v7.7h-7.6zM105.4 511.6h7.6v7.7h-7.6zM112.7 519h14.9v7.7h-14.9zM61.7 526.3h7.6v7.7h-7.6zM112.7 526.3h7.6v7.7h-7.6zM76.3 533.7h22.2v7.7h-22.2zM411.5 696h7.6v7.7h-7.6zM404.2 703.4h7.6v7.7h-7.6zM404.2 710.8h7.6v7.7h-7.6zM462.5 710.8h7.6v7.7h-7.6zM404.2 755h7.6v7.7h-7.6z"/>
<path fill="#43abbd" d="M542.6 32.1h7.6v7.7h-7.6zM557.2 32.1h7.6v7.7h-7.6zM571.8 32.1h7.6v7.7h-7.6zM549.9 39.5h14.9v7.7h-14.9zM571.8 39.5h7.6v7.7h-7.6zM557.2 46.8h7.6v7.7h-7.6zM564.5 54.2h7.6v7.7h-7.6zM557.2 61.6h14.9v7.7h-14.9zM579.1 69h7.6v7.7h-7.6zM579.1 76.4h7.6v7.7h-7.6zM571.8 83.7h7.6v7.7h-7.6zM586.4 83.7h7.6v7.7h-7.6zM579.1 91.1h7.6v7.7h-7.6zM593.7 91.1h7.6v7.7h-7.6zM586.4 98.5h14.9v7.7h-14.9zM579.1 105.9h29.4v7.7h-29.4zM593.7 113.2h14.9v7.7h-14.9zM593.7 120.6h14.9v7.7h-14.9zM608.2 142.7h7.6v7.7h-7.6zM608.2 150.1h7.6v7.7h-7.6zM600.9 157.5h14.9v7.7h-14.9zM615.5 164.9h14.9v7.7h-14.9zM622.8 172.3h7.6v7.7h-7.6zM622.8 179.6h14.9v7.7h-14.9zM622.8 187h14.9v7.7h-14.9zM630.1 194.4h14.9v7.7h-14.9zM637.4 201.8h14.9v7.7h-14.9zM637.4 209.1h14.9v7.7h-14.9zM644.7 216.5h14.9v7.7h-14.9zM651.9 223.9h7.6v7.7h-7.6zM659.2 253.4h7.6v7.7h-7.6zM659.2 260.8h7.6v7.7h-7.6zM666.5 275.5h7.6v7.7h-7.6zM666.5 282.9h14.9v7.7h-14.9zM681.1 290.3h7.6v7.7h-7.6zM61.7 482.1h14.9v7.7h-14.9zM90.8 504.2h7.6v7.7h-7.6zM90.8 511.6h7.6v7.7h-7.6zM61.7 519h7.6v7.7h-7.6zM98.1 519h14.9v7.7h-14.9zM69 526.3h44v7.7h-44zM98.1 533.7h14.9v7.7h-14.9zM411.5 703.4h22.2v7.7h-22.2zM447.9 703.4h14.9v7.7h-14.9zM469.8 718.2h7.6v7.7h-7.6zM477.1 725.5h7.6v7.7h-7.6zM498.9 740.3h7.6v7.7h-7.6zM404.2 762.4h7.6v7.7h-7.6zM528.1 762.4h7.6v7.7h-7.6zM404.2 769.8h7.6v7.7h-7.6zM404.2 777.2h7.6v7.7h-7.6zM542.6 777.2h7.6v7.7h-7.6zM549.9 784.5h7.6v7.7h-7.6zM557.2 791.9h14.9v7.7h-14.9zM564.5 799.3h7.6v7.7h-7.6z"/>
<path fill="#40a7bb" d="M564.5 32.1h7.6v7.7h-7.6zM564.5 39.5h7.6v7.7h-7.6zM579.1 39.5h7.6v7.7h-7.6zM564.5 46.8h22.2v7.7h-22.2zM571.8 54.2h14.9v7.7h-14.9zM593.7 54.2h7.6v7.7h-7.6zM571.8 61.6h22.2v7.7h-22.2zM571.8 69h7.6v7.7h-7.6zM586.4 69h14.9v7.7h-14.9zM586.4 76.4h7.6v7.7h-7.6zM593.7 83.7h14.9v7.7h-14.9zM600.9 91.1h7.6v7.7h-7.6zM600.9 98.5h7.6v7.7h-7.6zM615.5 105.9h7.6v7.7h-7.6zM608.2 120.6h14.9v7.7h-14.9zM608.2 128h22.2v7.7h-22.2zM615.5 135.4h7.6v7.7h-7.6zM615.5 142.7h7.6v7.7h-7.6zM615.5 150.1h14.9v7.7h-14.9zM622.8 157.5h7.6v7.7h-7.6zM630.1 164.9h7.6v7.7h-7.6zM630.1 172.3h7.6v7.7h-7.6zM637.4 179.6h14.9v7.7h-14.9zM637.4 187h7.6v7.7h-7.6zM644.7 194.4h7.6v7.7h-7.6zM651.9 201.8h7.6v7.7h-7.6zM659.2 216.5h7.6v7.7h-7.6zM659.2 223.9h7.6v7.7h-7.6zM651.9 231.3h14.9v7.7h-14.9zM659.2 238.6h7.6v7.7h-7.6zM659.2 246h7.6v7.7h-7.6zM666.5 260.8h7.6v7.7h-7.6zM659.2 268.2h14.9v7.7h-14.9zM69 489.5h14.9v7.7h-14.9zM83.6 496.8h7.6v7.7h-7.6zM76.3 504.2h14.9v7.7h-14.9zM69 511.6h7.6v7.7h-7.6zM83.6 511.6h7.6v7.7h-7.6zM98.1 511.6h7.6v7.7h-7.6zM69 519h7.6v7.7h-7.6zM433.3 703.4h7.6v7.7h-7.6zM411.5 710.8h7.6v7.7h-7.6zM455.2 710.8h7.6v7.7h-7.6zM411.5 718.2h7.6v7.7h-7.6zM411.5 725.5h7.6v7.7h-7.6zM411.5 732.9h7.6v7.7h-7.6zM484.3 732.9h7.6v7.7h-7.6zM411.5 740.3h7.6v7.7h-7.6zM506.2 747.7h7.6v7.7h-7.6zM513.5 755h7.6v7.7h-7.6zM535.4 769.8h7.6v7.7h-7.6zM404.2 784.5h7.6v7.7h-7.6zM404.2 791.9h7.6v7.7h-7.6zM564.5 806.7h7.6v7.7h-7.6z"/>
<path fill="#3da4b9" d="M579.1 32.1h14.9v7.7h-14.9zM586.4 39.5h7.6v7.7h-7.6zM586.4 46.8h7.6v7.7h-7.6zM586.4 54.2h7.6v7.7h-7.6zM593.7 61.6h14.9v7.7h-14.9zM600.9 69h7.6v7.7h-7.6zM600.9 76.4h14.9v7.7h-14.9zM579.1 83.7h7.6v7.7h-7.6zM615.5 83.7h7.6v7.7h-7.6zM608.2 91.1h7.6v7.7h-7.6zM608.2 98.5h14.9v7.7h-14.9zM608.2 105.9h7.6v7.7h-7.6zM608.2 113.2h14.9v7.7h-14.9zM622.8 135.4h7.6v7.7h-7.6zM622.8 142.7h14.9v7.7h-14.9zM630.1 150.1h14.9v7.7h-14.9zM630.1 157.5h7.6v7.7h-7.6zM644.7 164.9h7.6v7.7h-7.6zM637.4 172.3h14.9v7.7h-14.9zM651.9 179.6h7.6v7.7h-7.6zM644.7 187h14.9v7.7h-14.9zM659.2 194.4h7.6v7.7h-7.6zM659.2 201.8h7.6v7.7h-7.6zM651.9 209.1h14.9v7.7h-14.9zM666.5 216.5h7.6v7.7h-7.6zM666.5 246h7.6v7.7h-7.6zM666.5 253.4h7.6v7.7h-7.6zM673.8 268.2h7.6v7.7h-7.6zM673.8 275.5h7.6v7.7h-7.6zM681.1 282.9h7.6v7.7h-7.6zM61.7 489.5h7.6v7.7h-7.6zM61.7 496.8h7.6v7.7h-7.6zM76.3 496.8h7.6v7.7h-7.6zM61.7 504.2h14.9v7.7h-14.9zM61.7 511.6h7.6v7.7h-7.6zM76.3 511.6h7.6v7.7h-7.6zM76.3 519h22.2v7.7h-22.2zM440.6 703.4h7.6v7.7h-7.6zM418.8 710.8h7.6v7.7h-7.6zM418.8 718.2h7.6v7.7h-7.6zM462.5 718.2h7.6v7.7h-7.6zM418.8 725.5h7.6v7.7h-7.6zM411.5 747.7h7.6v7.7h-7.6zM411.5 762.4h7.6v7.7h-7.6zM404.2 799.3h7.6v7.7h-7.6zM404.2 806.7h7.6v7.7h-7.6z"/>
<path fill="#3aa0b7" d="M593.7 32.1h14.9v7.7h-14.9zM593.7 39.5h22.2v7.7h-22.2zM593.7 46.8h14.9v7.7h-14.9zM600.9 54.2h7.6v7.7h-7.6zM608.2 61.6h7.6v7.7h-7.6zM608.2 69h14.9v7.7h-14.9zM593.7 76.4h7.6v7.7h-7.6zM615.5 76.4h14.9v7.7h-14.9zM608.2 83.7h7.6v7.7h-7.6zM615.5 91.1h7.6v7.7h-7.6zM630.1 91.1h7.6v7.7h-7.6zM622.8 98.5h7.6v7.7h-7.6zM622.8 105.9h14.9v7.7h-14.9zM622.8 113.2h14.9v7.7h-14.9zM622.8 120.6h14.9v7.7h-14.9zM630.1 128h7.6v7.7h-7.6zM630.1 135.4h7.6v7.7h-7.6zM637.4 142.7h7.6v7.7h-7.6zM637.4 157.5h22.2v7.7h-22.2zM637.4 164.9h7.6v7.7h-7.6zM651.9 172.3h14.9v7.7h-14.9zM651.9 194.4h7.6v7.7h-7.6zM666.5 201.8h7.6v7.7h-7.6zM666.5 223.9h7.6v7.7h-7.6zM666.5 231.3h14.9v7.7h-14.9zM666.5 238.6h7.6v7.7h-7.6zM673.8 253.4h7.6v7.7h-7.6zM673.8 260.8h7.6v7.7h-7.6zM681.1 275.5h7.6v7.7h-7.6zM69 496.8h7.6v7.7h-7.6zM426.1 710.8h7.6v7.7h-7.6zM447.9 710.8h7.6v7.7h-7.6zM469.8 725.5h7.6v7.7h-7.6zM418.8 732.9h7.6v7.7h-7.6zM477.1 732.9h7.6v7.7h-7.6zM418.8 740.3h7.6v7.7h-7.6zM491.6 740.3h7.6v7.7h-7.6zM411.5 755h7.6v7.7h-7.6zM520.8 762.4h7.6v7.7h-7.6zM411.5 769.8h7.6v7.7h-7.6zM542.6 784.5h7.6v7.7h-7.6zM557.2 799.3h7.6v7.7h-7.6zM557.2 806.7h7.6v7.7h-7.6z"/>
<path fill="#389db5" d="M608.2 32.1h22.2v7.7h-22.2zM615.5 39.5h14.9v7.7h-14.9zM608.2 46.8h14.9v7.7h-14.9zM608.2 54.2h22.2v7.7h-22.2zM615.5 61.6h22.2v7.7h-22.2zM622.8 69h7.6v7.7h-7.6zM637.4 76.4h7.6v7.7h-7.6zM622.8 83.7h22.2v7.7h-22.2zM622.8 91.1h7.6v7.7h-7.6zM630.1 98.5h7.6v7.7h-7.6zM637.4 120.6h7.6v7.7h-7.6zM637.4 128h14.9v7.7h-14.9zM637.4 135.4h22.2v7.7h-22.2zM644.7 142.7h7.6v7.7h-7.6zM659.2 142.7h7.6v7.7h-7.6zM651.9 150.1h7.6v7.7h-7.6zM659.2 157.5h7.6v7.7h-7.6zM651.9 164.9h14.9v7.7h-14.9zM659.2 179.6h7.6v7.7h-7.6zM659.2 187h14.9v7.7h-14.9zM666.5 209.1h14.9v7.7h-14.9zM673.8 216.5h7.6v7.7h-7.6zM673.8 223.9h7.6v7.7h-7.6zM681.1 231.3h7.6v7.7h-7.6zM673.8 238.6h7.6v7.7h-7.6zM673.8 246h14.9v7.7h-14.9zM681.1 260.8h7.6v7.7h-7.6zM681.1 268.2h7.6v7.7h-7.6zM433.3 710.8h14.9v7.7h-14.9zM426.1 718.2h7.6v7.7h-7.6zM455.2 718.2h7.6v7.7h-7.6zM484.3 740.3h7.6v7.7h-7.6zM418.8 747.7h7.6v7.7h-7.6zM498.9 747.7h7.6v7.7h-7.6zM528.1 769.8h7.6v7.7h-7.6zM411.5 777.2h7.6v7.7h-7.6zM549.9 791.9h7.6v7.7h-7.6z"/>
<path fill="#359ab3" d="M630.1 32.1h7.6v7.7h-7.6zM622.8 46.8h7.6v7.7h-7.6zM637.4 46.8h7.6v7.7h-7.6zM630.1 54.2h7.6v7.7h-7.6zM630.1 69h14.9v7.7h-14.9zM630.1 76.4h7.6v7.7h-7.6zM644.7 83.7h7.6v7.7h-7.6zM637.4 91.1h22.2v7.7h-22.2zM637.4 98.5h14.9v7.7h-14.9zM637.4 105.9h7.6v7.7h-7.6zM637.4 113.2h14.9v7.7h-14.9zM651.9 128h7.6v7.7h-7.6zM659.2 135.4h14.9v7.7h-14.9zM651.9 142.7h7.6v7.7h-7.6zM666.5 142.7h7.6v7.7h-7.6zM681.1 142.7h7.6v7.7h-7.6zM644.7 150.1h7.6v7.7h-7.6zM659.2 150.1h7.6v7.7h-7.6zM673.8 150.1h14.9v7.7h-14.9zM666.5 157.5h22.2v7.7h-22.2zM666.5 164.9h7.6v7.7h-7.6zM681.1 164.9h7.6v7.7h-7.6zM666.5 172.3h22.2v7.7h-22.2zM666.5 179.6h14.9v7.7h-14.9zM673.8 187h14.9v7.7h-14.9zM666.5 194.4h22.2v7.7h-22.2zM673.8 201.8h7.6v7.7h-7.6zM681.1 209.1h7.6v7.7h-7.6zM681.1 216.5h7.6v7.7h-7.6zM681.1 238.6h7.6v7.7h-7.6zM681.1 253.4h7.6v7.7h-7.6zM433.3 718.2h22.2v7.7h-22.2zM426.1 725.5h7.6v7.7h-7.6zM455.2 725.5h14.9v7.7h-14.9zM469.8 732.9h7.6v7.7h-7.6zM426.1 747.7h7.6v7.7h-7.6zM418.8 755h7.6v7.7h-7.6zM506.2 755h7.6v7.7h-7.6zM535.4 777.2h7.6v7.7h-7.6zM411.5 784.5h7.6v7.7h-7.6zM549.9 799.3h7.6v7.7h-7.6z"/>
<path fill="#3297b1" d="M637.4 39.5h14.9v7.7h-14.9zM681.1 39.5h7.6v7.7h-7.6zM630.1 46.8h7.6v7.7h-7.6zM673.8 46.8h14.9v7.7h-14.9zM637.4 54.2h7.6v7.7h-7.6zM666.5 54.2h7.6v7.7h-7.6zM637.4 61.6h22.2v7.7h-22.2zM681.1 61.6h7.6v7.7h-7.6zM644.7 69h22.2v7.7h-22.2zM673.8 69h7.6v7.7h-7.6zM644.7 76.4h7.6v7.7h-7.6zM666.5 76.4h7.6v7.7h-7.6zM681.1 76.4h7.6v7.7h-7.6zM651.9 83.7h22.2v7.7h-22.2zM681.1 83.7h7.6v7.7h-7.6zM659.2 91.1h14.9v7.7h-14.9zM681.1 91.1h7.6v7.7h-7.6zM651.9 98.5h29.4v7.7h-29.4zM644.7 105.9h36.7v7.7h-36.7zM651.9 113.2h22.2v7.7h-22.2zM681.1 113.2h7.6v7.7h-7.6zM644.7 120.6h36.7v7.7h-36.7zM659.2 128h29.4v7.7h-29.4zM673.8 135.4h14.9v7.7h-14.9zM673.8 142.7h7.6v7.7h-7.6zM666.5 150.1h7.6v7.7h-7.6zM673.8 164.9h7.6v7.7h-7.6zM681.1 179.6h7.6v7.7h-7.6zM681.1 201.8h7.6v7.7h-7.6zM681.1 223.9h7.6v7.7h-7.6zM433.3 725.5h7.6v7.7h-7.6zM447.9 725.5h7.6v7.7h-7.6zM426.1 732.9h7.6v7.7h-7.6zM462.5 732.9h7.6v7.7h-7.6zM426.1 740.3h7.6v7.7h-7.6zM477.1 740.3h7.6v7.7h-7.6zM491.6 747.7h7.6v7.7h-7.6zM418.8 762.4h7.6v7.7h-7.6zM411.5 791.9h7.6v7.7h-7.6zM549.9 806.7h7.6v7.7h-7.6z"/>
<path fill="#2f94af" d="M637.4 32.1h14.9v7.7h-14.9zM666.5 32.1h22.2v7.7h-22.2zM630.1 39.5h7.6v7.7h-7.6zM659.2 39.5h22.2v7.7h-22.2zM644.7 46.8h7.6v7.7h-7.6zM659.2 46.8h14.9v7.7h-14.9zM644.7 54.2h14.9v7.7h-14.9zM673.8 54.2h14.9v7.7h-14.9zM659.2 61.6h7.6v7.7h-7.6zM666.5 69h7.6v7.7h-7.6zM681.1 69h7.6v7.7h-7.6zM651.9 76.4h14.9v7.7h-14.9zM673.8 76.4h7.6v7.7h-7.6zM673.8 83.7h7.6v7.7h-7.6zM673.8 91.1h7.6v7.7h-7.6zM681.1 98.5h7.6v7.7h-7.6zM681.1 105.9h7.6v7.7h-7.6zM673.8 113.2h7.6v7.7h-7.6zM681.1 120.6h7.6v7.7h-7.6zM440.6 725.5h7.6v7.7h-7.6zM433.3 732.9h14.9v7.7h-14.9zM455.2 732.9h7.6v7.7h-7.6zM433.3 740.3h7.6v7.7h-7.6zM433.3 747.7h7.6v7.7h-7.6zM484.3 747.7h7.6v7.7h-7.6zM426.1 755h7.6v7.7h-7.6zM513.5 762.4h7.6v7.7h-7.6zM418.8 769.8h7.6v7.7h-7.6zM520.8 769.8h7.6v7.7h-7.6zM542.6 791.9h7.6v7.7h-7.6z"/>
<path fill="#2d91ad" d="M651.9 32.1h14.9v7.7h-14.9zM651.9 39.5h7.6v7.7h-7.6zM651.9 46.8h7.6v7.7h-7.6zM659.2 54.2h7.6v7.7h-7.6zM666.5 61.6h14.9v7.7h-14.9zM447.9 732.9h7.6v7.7h-7.6zM440.6 740.3h14.9v7.7h-14.9zM462.5 740.3h14.9v7.7h-14.9zM433.3 755h7.6v7.7h-7.6zM498.9 755h7.6v7.7h-7.6zM506.2 762.4h7.6v7.7h-7.6zM418.8 777.2h7.6v7.7h-7.6zM411.5 799.3h7.6v7.7h-7.6zM542.6 799.3h7.6v7.7h-7.6z"/>
<path fill="#2a8eab" d="M455.2 740.3h7.6v7.7h-7.6zM440.6 747.7h14.9v7.7h-14.9zM477.1 747.7h7.6v7.7h-7.6zM440.6 755h7.6v7.7h-7.6zM491.6 755h7.6v7.7h-7.6zM426.1 762.4h7.6v7.7h-7.6zM426.1 769.8h7.6v7.7h-7.6zM513.5 769.8h7.6v7.7h-7.6zM528.1 777.2h7.6v7.7h-7.6zM535.4 784.5h7.6v7.7h-7.6zM535.4 791.9h7.6v7.7h-7.6zM411.5 806.7h7.6v7.7h-7.6zM542.6 806.7h7.6v7.7h-7.6z"/>
<path fill="#278aaa" d="M455.2 747.7h7.6v7.7h-7.6zM469.8 747.7h7.6v7.7h-7.6zM447.9 755h7.6v7.7h-7.6zM433.3 762.4h7.6v7.7h-7.6zM498.9 762.4h7.6v7.7h-7.6zM520.8 777.2h7.6v7.7h-7.6zM418.8 784.5h7.6v7.7h-7.6z"/>
<path fill="#2587a8" d="M462.5 747.7h7.6v7.7h-7.6zM455.2 755h7.6v7.7h-7.6zM469.8 755h7.6v7.7h-7.6zM484.3 755h7.6v7.7h-7.6zM506.2 769.8h7.6v7.7h-7.6zM426.1 777.2h7.6v7.7h-7.6zM528.1 784.5h7.6v7.7h-7.6zM418.8 791.9h7.6v7.7h-7.6z"/>
<path fill="#2384a6" d="M462.5 755h7.6v7.7h-7.6zM477.1 755h7.6v7.7h-7.6zM440.6 762.4h7.6v7.7h-7.6zM484.3 762.4h14.9v7.7h-14.9zM433.3 769.8h7.6v7.7h-7.6zM498.9 769.8h7.6v7.7h-7.6zM535.4 799.3h7.6v7.7h-7.6zM535.4 806.7h7.6v7.7h-7.6z"/>
<path fill="#2181a5" d="M447.9 762.4h22.2v7.7h-22.2zM477.1 762.4h7.6v7.7h-7.6zM440.6 769.8h7.6v7.7h-7.6zM491.6 769.8h7.6v7.7h-7.6zM513.5 777.2h7.6v7.7h-7.6zM426.1 784.5h7.6v7.7h-7.6zM520.8 784.5h7.6v7.7h-7.6zM426.1 791.9h7.6v7.7h-7.6zM418.8 799.3h7.6v7.7h-7.6z"/>
<path fill="#1f7ea3" d="M469.8 762.4h7.6v7.7h-7.6zM447.9 769.8h7.6v7.7h-7.6zM462.5 769.8h7.6v7.7h-7.6zM433.3 777.2h14.9v7.7h-14.9zM506.2 777.2h7.6v7.7h-7.6zM528.1 791.9h7.6v7.7h-7.6zM528.1 799.3h7.6v7.7h-7.6zM520.8 806.7h14.9v7.7h-14.9z"/>
<path fill="#1e7ba2" d="M455.2 769.8h7.6v7.7h-7.6zM484.3 769.8h7.6v7.7h-7.6zM447.9 777.2h7.6v7.7h-7.6zM498.9 777.2h7.6v7.7h-7.6zM433.3 784.5h7.6v7.7h-7.6zM513.5 784.5h7.6v7.7h-7.6zM433.3 791.9h7.6v7.7h-7.6zM520.8 791.9h7.6v7.7h-7.6zM462.5 799.3h7.6v7.7h-7.6zM513.5 799.3h14.9v7.7h-14.9zM418.8 806.7h7.6v7.7h-7.6z"/>
<path fill="#1c78a0" d="M469.8 769.8h7.6v7.7h-7.6zM455.2 777.2h14.9v7.7h-14.9zM491.6 777.2h7.6v7.7h-7.6zM440.6 784.5h14.9v7.7h-14.9zM498.9 784.5h14.9v7.7h-14.9zM440.6 791.9h14.9v7.7h-14.9zM462.5 791.9h7.6v7.7h-7.6zM506.2 791.9h14.9v7.7h-14.9zM426.1 799.3h14.9v7.7h-14.9zM447.9 799.3h7.6v7.7h-7.6zM469.8 799.3h7.6v7.7h-7.6zM484.3 799.3h7.6v7.7h-7.6zM506.2 799.3h7.6v7.7h-7.6zM455.2 806.7h7.6v7.7h-7.6z"/>
<path fill="#1a749f" d="M477.1 769.8h7.6v7.7h-7.6zM469.8 777.2h22.2v7.7h-22.2zM455.2 784.5h22.2v7.7h-22.2zM484.3 784.5h7.6v7.7h-7.6zM455.2 791.9h7.6v7.7h-7.6zM469.8 791.9h36.7v7.7h-36.7zM440.6 799.3h7.6v7.7h-7.6zM455.2 799.3h7.6v7.7h-7.6zM477.1 799.3h7.6v7.7h-7.6zM491.6 799.3h14.9v7.7h-14.9zM426.1 806.7h14.9v7.7h-14.9zM447.9 806.7h7.6v7.7h-7.6zM462.5 806.7h14.9v7.7h-14.9zM513.5 806.7h7.6v7.7h-7.6z"/>
<path fill="#19719e" d="M477.1 784.5h7.6v7.7h-7.6zM491.6 784.5h7.6v7.7h-7.6zM440.6 806.7h7.6v7.7h-7.6zM477.1 806.7h36.7v7.7h-36.7z"/>
</g>
<rect x="65.4" y="35.1" width="622.5" height="772.0" fill="none" stroke="#000" stroke-width="2.8"/>
<g clip-path="url(#lc)" stroke="#000" stroke-width="2.9" stroke-linejoin="round" stroke-linecap="round">
<path fill="#C7A779" d="M265.1 30.1 266.6 34.9 271.1 48.8 276.2 62.4 282.2 76 288.1 87.8 295.7 100.6 304.2 114.1 314.4 127.2 324.6 140.4 334.7 154 344.9 167.5 352 177.1 370.7 195.8 374.9 193.8 383.4 196.6 385.1 202.6 397.8 219.5 411.4 238.2 426.7 254.3 431.2 252.9 433.4 265.3 438.5 271.3 452.1 276.3 469.1 278 475.8 284 484.3 295.8 503 307 510.6 315.8 520.8 324.3 527.5 327.7 532.6 323.4 533.5 325.1 530.9 332.7 527.5 337.8 525 342.9 525 348 529.2 350.6 530.9 353.1 527.5 355.6 522.5 356.5 521.6 359.9 525.8 362.4 529.2 368.4 532.6 371.8 539.4 376 544.5 375.1 545.3 370.9 547.9 370.1 549.6 374.3 553 376 554.7 371.8 558.1 371.8 558.9 375.1 562.3 373.4 564 370.1 566.5 373.4 569.9 374.3 569.9 380.2 569.1 386.2 559.8 382.8 553 381.9 550.4 385.3 551.3 392.1 547.9 393 549.6 397.2 553 398.9 554.7 404 555.5 410.8 553 414.1 556 417.8 563.6 419.5 569.5 418.7 576.3 421.2 580.6 425.5 584.8 432.2 588.2 433.9 598.4 431.4 606.8 429.7 615.3 433.1 622.1 431.4 626.3 426.3 631.4 425.5 635.7 428.9 640.8 428 647.5 430.6 653.5 433.1 657.7 430.6 657.7 419.5 652.6 417 645.8 412.7 640.8 407.7 635.7 400.9 630.6 395.8 625.5 392.4 621.3 388.2 627.2 388.7 634 389.9 637.4 386.5 631.4 383.9 627.2 381.4 632.3 378.8 637.4 382.2 642.5 387.3 648.4 392.4 644.1 394.9 645.8 400.9 650.1 404.3 658.6 404.3 667.9 410.2 671.3 416.1 678.1 422.9 683.2 431.4 687.9 439 692.9 444 692.9 660.4 687.9 651.4 684.9 643.8 679.8 637 677.2 630.2 674.7 628.5 673 635.3 671.3 626.8 667.9 623.4 674.7 624.3 678.1 624.3 674.7 618.4 669.6 609.9 665.3 603.1 662.8 597.2 660.3 599.7 661.1 606.5 656.9 612.4 649.2 608.2 640.8 604.8 632.3 601.4 625.5 599.7 618.7 598 618.7 594.6 623 587.8 618.7 591.2 615.3 595.5 611.9 597.2 605.1 591.2 596.7 592.9 589.9 591.2 583.1 588.7 580.6 596.3 578 603.1 573.8 604.8 575.5 603.9 577.2 598 576.3 592.9 571.2 594.6 567.8 592.1 563.1 589.5 561.9 584.4 562.7 577.7 561.9 572.6 562.7 566.6 567.8 563.8 560.2 564.4 557.7 567.5 554.3 572.6 549.2 570.9 545.8 564.1 537.3 566.6 531.4 565.8 530.5 571.7 523.7 574.3 517 575.1 514.4 572.6 516.1 569.2 514.4 564.9 512.7 561.5 510.2 566.6 505.9 570.9 508.5 574.3 505.9 577.7 500 578.5 497.1 578.5 486.9 575.1 475 570.9 463.2 568.3 449.6 569.2 436 572.6 425.8 577.7 419.1 586.1 415.7 594.6 415.7 604.8 418.2 616.7 421.6 625.1 420.8 630.2 415.7 634.5 411.4 632.8 408 628.5 410.6 621.8 405.5 615 398.7 604.8 391.9 594.6 385.1 586.1 375 576 364.8 565.8 356.3 557.3 361.4 550.5 366.5 543.7 368.2 537 361.4 528.5 358 520 361.8 520.4 366 517.9 355 517 354.2 501.8 356.7 505.1 362.7 508.5 356.7 512.8 353.3 511.9 350.8 507.7 353.3 503.4 351.6 498.4 348.2 500.1 338.1 501.8 336.4 500.1 330.4 497.5 329.6 495 324.5 493.3 318.6 489.9 319.4 483.9 316.9 483.1 314.3 478.9 305.8 476.3 304.1 478.9 299.9 478 299.1 481.4 294 483.1 285.5 482.2 283 484.8 288.9 491.6 294 498.4 297.4 505.1 302.5 510.2 309.2 512.8 317.7 517 322.8 522.1 326.2 520.4 325.3 528.9 327.9 535.7 329.6 542.5 328.7 549.2 326.2 555.2 316 552.6 307.5 549.2 300.8 545 294 543.3 282.1 541.6 268.5 542.5 260.1 537.4 251.6 528.9 243.1 520.4 236.3 511.9 229.5 508.5 227 503.4 230.4 496.7 236.3 489.9 243.1 488.2 246.5 483.1 250.7 478.9 249 474.6 251.6 471.2 256.7 467.8 262.6 466.1 261.8 464.1 255 465.3 249.9 468.7 249 464.4 253.3 458.5 260.1 454.3 261.8 450.9 256.7 448.3 255 444.4 263.4 445.8 261.8 443.2 255 439 251.6 436.5 252.4 432.2 257.5 425.4 255 418.7 251.6 411.9 248.2 405.9 244.8 405.1 241.5 400.6 236.4 393.8 229.6 387 221.1 385.3 222.8 381.1 219.4 376.8 212.6 372.6 205.8 370.1 195.7 359.9 187.2 352.2 170.2 344.6 156.7 338.7 146.5 334.8 143.9 336.1 141.4 334.1 138 334.4 131.2 330.2 133.8 326 129.5 320 125.3 316.6 118.5 315.8 109.2 312.1 99 310.7 82 306.5 65.1 302.2 60.4 301.2 60.4 30.1z"/>
<path fill="#C7A779" d="M536 326 541.1 321.7 549.6 320.9 553 326 557.2 336.1 555.5 339.5 553.8 344.6 551.3 339.5 545.3 334.4 539.4 329.4z"/>
<path fill="#C7A779" d="M561.5 341.2 564.9 339.5 571.6 342.9 576.7 342.1 583.5 348 592 354.8 583.5 354.8 580.1 359.9 577.6 364.1 575 358.2 573.3 353.1 571.6 349.7 573.3 346.3 566.5 344.6z"/>
<path fill="#C7A779" d="M595.8 378.8 600.1 380.5 606 386.5 601.8 389.9 596.7 387.3 595 383.1z"/>
<path fill="#C7A779" d="M513.6 582.7 520.4 580.2 528.8 575.6 536.5 577.7 538.7 583.6 534.8 585.3 530.5 587.8 523.7 592.1 518.7 588.7z"/>
<path fill="#C7A779" d="M539 592.1 546.6 588.2 554.3 590.9 560.2 592.9 556.8 596.3 553.4 601.4 549.2 597.2 541.5 596z"/>
<path fill="#C7A779" d="M528 620.9 532.2 614.1 537.3 610.7 539 616.7 534.8 619.7z"/>
<path fill="#C7A779" d="M659.6 718.3 665.5 719.2 668.9 729.4 672.3 741.2 678.2 742.9 679.9 747.2 677.4 750.6 671.4 753.1 669.7 759.9 673.1 765 675.7 770.1 679.1 773.4 684.1 774.3 692.6 773.4 692.6 790.4 688 789.6 682.5 787.9 675.7 784.5 667.2 783.6 660.4 780.2 653.6 773.4 645.1 766.7 639.2 758.2 635.8 751.4 633.3 747.2 639.2 746.3 642.6 739.5 646 732.7 651.9 728.5 658.7 724.3 661.3 720.9z"/>
<path fill="#C7A779" d="M646.8 796.3 659.6 797.2 655.3 802.3 652.8 809.1 648.5 809.1z"/>
<path fill="#000" d="M192.5 483.5 196 481 200.5 481.2 200.3 485.5 196 486.2z"/>
<path fill="none" d="M484.3 297.1 475 301.4 472.4 310.7 464.8 310.7 456.3 303.9 452.9 297.1 444.4 293.7 436 288.7 425.8 285.3 417.3 290.4 415.6 295.4 420.7 302.2 421.5 309.9 407.1 313.2 401.2 319.2 401.2 354.8 401.7 403.1 402.5 405.1 404.2 401.7 409.3 402.5 414.4 406.8 419.5 410.2 429.6 417 439.8 422 446.6 428.8 450 436.5 446.6 442.4 434.7 447.5 421.2 452.6 413.5 459.4 416.1 462.7 411 467.8 406.7 472.9 407.6 479.7 412.7 488.2 419.5 496.7 422.9 505.1 424.6 518.7 425 520 424.1 530.2 420.8 537 414 542.9 402.1 547.1 393.6 553.1 388.5 559.9 380.1 564.9 377.5 569.2 381.8 574.3 388.5 579.4 395.3 581.9 398.7 584.4 402.1 591.2 405.5 599.7 410.6 613.3 414 621.8 413.1 628.5 411.4 632.8"/>
<path fill="none" d="M178.5 34.5 183 38.5 187.8 40.2 191.8 39.2 194.5 36.8 197.9 37.9 202 38.2 205.8 34.5"/>
<path fill="none" d="M248.7 38.2 252.8 37.2 256.5 34.5"/>
<path fill="none" d="M259.5 38.9 261 36.5 262.4 34.5"/>
</g>
<g clip-path="url(#mc)">
<path d="M387.6 134.6h0M394 145.1h0M394 148.5h0M468.9 138.3h0M481.3 142.5h0M466.7 150.6h0M474.3 158.2h0M478.8 156.5h0M486.8 158.2h0M494.5 160.2h0M543.7 165h0M520.8 173.5h0M520.5 183.5h0M543.7 193.7h0M461.5 176.9h0M422.7 181.4h0M425.8 180.9h0M445.1 198.4h0M459.6 197.1h0M456.2 206.4h0M503.9 231.2h0M576.2 216.8h0M583.2 220.4h0M600.8 228.1h0M605.4 233.4h0M599.1 237.2h0M618.1 248.2h0M573.7 244.4h0M530.6 247.6h0M545 252.2h0M551.2 249.9h0M551.8 256.1h0M557.7 260.1h0M573 258.7h0M535.6 266.3h0M568.5 275.7h0M641.2 269h0M608.7 285.7h0M634.6 283.2h0M648.4 280.6h0M649 288.5h0M638.8 293.1h0M656.3 296.5h0M636.5 299.9h0M650.1 299.9h0M653.5 304.4h0M637.6 311.2h0M641.6 311.8h0M659.7 314.1h0M616.1 315h0M655.5 341h0M475.6 228.8h0" fill="none" stroke="#FF0000" stroke-width="12.7" stroke-linecap="round"/>
<path d="M99.3 427.6h0M117.5 439.1h0M94 445.9h0M94.9 450.5h0M109.7 448.4h0M139.1 462.4h0M162 476.5h0M100.8 481.4h0M132.3 483.3h0M104.5 495.4h0M123.7 499.8h0M145.3 501.2h0M116.2 515.9h0M131.7 523.1h0M174.3 543.3h0M177 556h0M202.9 559.8h0M138.4 580.1h0M217.6 583.5h0M170.9 607h0M194.2 634h0M266.2 682.7h0M425.7 704.3h0M460.5 707.3h0" fill="none" stroke="#0000FF" stroke-width="12.7" stroke-linecap="round"/>
</g>
<rect x="65.4" y="687" width="173.0" height="120.10000000000002" fill="#fff" stroke="#000" stroke-width="2.8"/>
<path d="M91 727.1h0" fill="none" stroke="#FF0000" stroke-width="12.7" stroke-linecap="round"/>
<path d="M91 767.1h0" fill="none" stroke="#0000FF" stroke-width="12.7" stroke-linecap="round"/>
<text transform="translate(116.2 740.3) scale(1 1.03)" font-size="33.3" stroke="#000" stroke-width="0.15">Atlantic</text>
<text transform="translate(116.2 779.3) scale(1 1.03)" font-size="33.3" stroke="#000" stroke-width="0.15">Pacific</text>
<text transform="translate(170.1 867.4) scale(1 1.04)" font-size="33.3" text-anchor="middle" stroke="#000" stroke-width="0.15">-84</text>
<text transform="translate(279.4 867.4) scale(1 1.04)" font-size="33.3" text-anchor="middle" stroke="#000" stroke-width="0.15">-83.5</text>
<text transform="translate(388.7 867.4) scale(1 1.04)" font-size="33.3" text-anchor="middle" stroke="#000" stroke-width="0.15">-83</text>
<text transform="translate(498 867.4) scale(1 1.04)" font-size="33.3" text-anchor="middle" stroke="#000" stroke-width="0.15">-82.5</text>
<text transform="translate(607.3 867.4) scale(1 1.04)" font-size="33.3" text-anchor="middle" stroke="#000" stroke-width="0.15">-82</text>
<text transform="translate(29.5 86.9) rotate(-90) scale(1 1.04)" font-size="33.3" text-anchor="middle" stroke="#000" stroke-width="0.15">10.5</text>
<text transform="translate(29.5 197.6) rotate(-90) scale(1 1.04)" font-size="33.3" text-anchor="middle" stroke="#000" stroke-width="0.15">10</text>
<text transform="translate(29.5 308.2) rotate(-90) scale(1 1.04)" font-size="33.3" text-anchor="middle" stroke="#000" stroke-width="0.15">9.5</text>
<text transform="translate(29.5 418.9) rotate(-90) scale(1 1.04)" font-size="33.3" text-anchor="middle" stroke="#000" stroke-width="0.15">9</text>
<text transform="translate(29.5 529.6) rotate(-90) scale(1 1.04)" font-size="33.3" text-anchor="middle" stroke="#000" stroke-width="0.15">8.5</text>
<text transform="translate(29.5 640.2) rotate(-90) scale(1 1.04)" font-size="33.3" text-anchor="middle" stroke="#000" stroke-width="0.15">8</text>
<text transform="translate(29.5 750.9) rotate(-90) scale(1 1.04)" font-size="33.3" text-anchor="middle" stroke="#000" stroke-width="0.15">7.5</text>
<path d="M170.6 33.7v-18.3M170.6 808.5v18.3M279.9 33.7v-18.3M279.9 808.5v18.3M389.2 33.7v-18.3M389.2 808.5v18.3M498.5 33.7v-18.3M498.5 808.5v18.3M607.8 33.7v-18.3M607.8 808.5v18.3M64.0 86.9h-18.3M689.3 86.9h18.3M64.0 197.6h-18.3M689.3 197.6h18.3M64.0 308.2h-18.3M689.3 308.2h18.3M64.0 418.9h-18.3M689.3 418.9h18.3M64.0 529.6h-18.3M689.3 529.6h18.3M64.0 640.2h-18.3M689.3 640.2h18.3M64.0 750.9h-18.3M689.3 750.9h18.3" stroke="#000" stroke-width="2.7" stroke-linecap="round" fill="none"/>
<rect x="727.75" y="35.1" width="40.549999999999955" height="772.0" fill="url(#cb)" stroke="#000" stroke-width="2.8"/>
<text transform="translate(829 805.5) rotate(-90) scale(1 1.04)" font-size="33.3" text-anchor="middle" stroke="#000" stroke-width="0.15">0</text>
<text transform="translate(829 700.6) rotate(-90) scale(1 1.04)" font-size="33.3" text-anchor="middle" stroke="#000" stroke-width="0.15">500</text>
<text transform="translate(829 595.6) rotate(-90) scale(1 1.04)" font-size="33.3" text-anchor="middle" stroke="#000" stroke-width="0.15">1000</text>
<text transform="translate(829 490.7) rotate(-90) scale(1 1.04)" font-size="33.3" text-anchor="middle" stroke="#000" stroke-width="0.15">1500</text>
<text transform="translate(829 385.8) rotate(-90) scale(1 1.04)" font-size="33.3" text-anchor="middle" stroke="#000" stroke-width="0.15">2000</text>
<text transform="translate(829 280.9) rotate(-90) scale(1 1.04)" font-size="33.3" text-anchor="middle" stroke="#000" stroke-width="0.15">2500</text>
<text transform="translate(829 175.9) rotate(-90) scale(1 1.04)" font-size="33.3" text-anchor="middle" stroke="#000" stroke-width="0.15">3000</text>
<text transform="translate(829 71) rotate(-90) scale(1 1.04)" font-size="33.3" text-anchor="middle" stroke="#000" stroke-width="0.15">3500</text>
<path d="M769.6999999999999 805.5h18.3M769.6999999999999 700.6h18.3M769.6999999999999 595.6h18.3M769.6999999999999 490.7h18.3M769.6999999999999 385.8h18.3M769.6999999999999 280.9h18.3M769.6999999999999 175.9h18.3M769.6999999999999 71h18.3" stroke="#000" stroke-width="2.7" stroke-linecap="round" fill="none"/>
<g clip-path="url(#tc)">
<path d="M1626.5 75.5h0M1637.1 75.8h0M1613 76h0M1613.6 75.8h0M1631.3 76.1h0M1641.2 76.8h0M1638.2 76.2h0M1653.5 76.5h0M1617.3 77h0M1619.1 77h0M1641.7 76.7h0M1613.1 76.9h0M1643.9 77.3h0M1632.9 77.2h0M1649.8 77.6h0M1636.2 77.9h0M1646.5 77.5h0M1631.9 78.1h0M1617.7 78.1h0M1648.5 78.2h0M1653.9 78.3h0M1639.7 78.3h0M1652.6 78.6h0M1613.4 78.8h0M1643.3 78.6h0M1629.7 79h0M1611.5 78.7h0M1613.6 79.3h0M1617.1 79.5h0M1615 79.3h0M1638.4 79.8h0M1624.3 79.6h0M1629.2 79.5h0M1619.2 79.7h0M1622.1 79.8h0M1611.3 80.1h0M1628.6 80.4h0M1636.2 80.5h0M1645.1 80.7h0M1654.5 80.9h0M1630.5 80.8h0M1614.5 80.5h0M1621.8 80.6h0M1611.7 80.8h0M1616.4 81.5h0M1641.7 81.1h0M1623.8 81.2h0M1653.4 82h0M1634.3 81.4h0M1628.5 81.7h0M1652.2 82.3h0M1637.6 81.8h0M1638.7 82.6h0M1654 82.5h0M1624.6 82.7h0M1638 82.8h0M1628.2 83.1h0M1654 83.1h0M1651.8 83h0M1629.2 82.7h0M1613.6 83.4h0M1658.8 83.3h0M1658.3 83.4h0M1623 83.4h0M1622.1 84.1h0M1653.4 83.9h0M1644 84.1h0M1656.2 84.4h0M1648.5 84.5h0M1628.7 84.6h0M1659.1 84.9h0M1647.7 84.4h0M1619.4 85h0M1620.5 85.2h0M1659.6 85.1h0M1619.1 84.8h0M1659.1 85.6h0M1633.5 85.7h0M1652.6 85.4h0M1624.9 85.7h0M1625.5 86.1h0M1630.2 85.9h0M1641.3 86.4h0M1637 86.2h0M1638.6 86.1h0M1613.8 86.7h0M1621.3 86.6h0M1629.1 86.7h0M1639.9 86.9h0M1625.3 86.8h0M1649.8 87.3h0M1656.7 87.2h0M1642.3 87.5h0M1635.2 87.5h0M1636.9 87.9h0M1658 87.5h0M1640.9 87.6h0M1619.7 87.9h0M1617.6 88.3h0M1651 88.6h0M1621.5 88.1h0M1655.1 88.9h0M1625 88.6h0M1660.4 89h0M1621.7 88.8h0M1623.8 88.9h0M1648.5 89.1h0M1615.6 89.2h0M1643.5 89.8h0M1651.2 89.9h0M1619.7 89.9h0M1627.5 89.5h0M1634.9 89.8h0M1621.6 90.4h0M1641.3 89.9h0M1646.6 90.3h0M1618.9 90.7h0M1618.9 90.9h0M1618.6 90.6h0M1640.4 91.2h0M1627.9 90.8h0M1620.7 90.9h0M1617.9 91.1h0M1650.4 91.2h0M1638.5 91.1h0M1627.3 91.3h0M1648.9 91.8h0M1658.2 91.6h0M1652.7 92.3h0M1633.8 92.2h0M1647.4 92.6h0M1648 92.6h0M1634.3 92.3h0M1619.3 92.9h0M1627.7 93.1h0M1655.7 93.1h0M1628.9 93.1h0M1623.5 93.2h0M1628.9 93.4h0M1627.1 93.9h0M1630.3 93.6h0M1637.8 93.8h0M1625.4 93.7h0M1620.4 94h0M1618.5 94h0M1643.1 94.3h0M1650.3 94.8h0M1633.8 94.4h0M1661.6 94.8h0M1618.9 95.1h0M1656.8 95.2h0M1622.6 95.1h0M1639.9 95.5h0M1642.8 95.7h0M1647.7 95.1h0M1622.6 95.5h0M1621.7 95.9h0M1645 96.1h0M1639.6 96.2h0M1639.8 96.2h0M1647.4 96.1h0M1620.5 96.3h0M1650.3 97h0M1640 96.6h0M1638.6 96.9h0M1645.9 96.6h0M1623.8 96.9h0M1643.5 96.8h0M1619.9 97.5h0M1648.4 97.3h0M1640.5 97.3h0M1658.1 97.5h0M1661.9 97.9h0M1654.7 98.4h0M1637.8 98.5h0M1627.2 98.4h0M1623.2 98.1h0M1654.8 98.6h0M1657.9 99h0M1639.5 98.4h0M1617.4 98.8h0M1624.1 99h0M1632.1 99.4h0M1655.9 99h0M1659.8 99.3h0M1634.1 99.5h0M1663.1 99.7h0M1630.2 99.5h0M1622.6 100.4h0M1629.1 100h0M1641.4 100.6h0M1658.6 100.7h0M1647.4 100.6h0M1650.5 100.3h0M1651 100.9h0M1631.3 100.6h0M1660.7 100.9h0M1632 101.4h0M1662.8 101.2h0M1644.1 101.4h0M1626 101.9h0M1641.2 101.5h0M1660.1 101.6h0M1627.2 101.7h0M1634.2 101.9h0M1644.6 102.6h0M1652.5 102.4h0M1635.9 102.4h0M1621.2 102.4h0M1642.4 102.9h0M1658.1 102.7h0M1637.2 103h0M1662.6 102.8h0M1619.7 103.5h0M1659.3 103.1h0M1636.8 103.9h0M1657.1 103.5h0M1623.2 103.6h0M1642.5 104.2h0M1647.9 104.3h0M1639.8 104.5h0M1629.6 104.7h0M1648.5 104.3h0M1648.3 104.8h0M1624.5 104.8h0M1637 104.7h0M1646.9 105h0M1663.1 105.3h0M1659.5 105.1h0M1663.3 105.6h0M1633.7 105.7h0M1638.6 105.5h0M1650.1 105.5h0M1634.8 105.9h0M1650.8 106.3h0M1643.1 106h0M1663.7 106.1h0M1630.2 106.7h0M1633.4 106.4h0M1629.7 106.7h0M1650.2 106.8h0M1629.3 107.4h0M1626.3 107.1h0M1660.7 107.6h0M1653.9 107.3h0M1628.3 107.9h0M1654.3 107.6h0M1637 107.7h0M1627.9 107.8h0M1663.4 107.8h0M1663.9 108.5h0M1657.7 108.3h0M1622 108.8h0M1628.9 108.5h0M1661.2 109h0M1655 108.5h0M1622.4 108.8h0M1654.4 109.5h0M1635.5 109.4h0M1632.9 109.6h0M1634.7 109.7h0M1661.9 109.8h0M1663.3 109.8h0M1663.8 110.3h0M1638 110.1h0M1662.8 110h0M1656.8 110.6h0M1647.5 110.3h0M1634.7 110.3h0M1630 110.9h0M1631.9 110.9h0M1635.5 111.4h0M1660.8 110.8h0M1625.2 111.3h0M1652.6 111.3h0M1648.9 111.7h0M1654.8 111.4h0M1658.4 111.6h0M1646.1 111.7h0M1632.5 111.9h0M1628.3 112.1h0M1638.6 112.7h0M1644 112.6h0M1666.1 112.3h0M1642.7 113.1h0M1622.6 112.7h0M1626.9 113.1h0M1663.7 113h0M1659.9 113.5h0M1663.7 113.1h0M1647.9 113.5h0M1627.7 113.5h0M1632.5 113.6h0M1621.8 113.8h0M1651.9 113.9h0M1657.3 114.3h0M1624.7 114.4h0M1650.3 114.2h0M1628.9 114.5h0M1635.2 115.1h0M1635.4 114.8h0M1660.1 115.4h0M1638.2 114.9h0M1622.7 115.6h0M1640.9 115.8h0M1642.2 115.3h0M1622.3 116h0M1625.9 115.9h0M1638.4 115.8h0M1645.2 116.5h0M1626.5 116.6h0M1631 116.1h0M1664.3 116.2h0M1663.2 116.6h0M1661.9 116.5h0M1656.7 116.7h0M1640.6 116.8h0M1631.6 117.1h0M1645.2 117.1h0M1654.6 117.8h0M1623.9 117.2h0M1659.3 117.4h0M1648.6 117.7h0M1641 118.1h0M1641.2 118.1h0M1623.5 118.4h0M1644.3 118.7h0M1643.5 118.3h0M1643.8 118.6h0M1627.1 118.8h0M1646 118.6h0M1655.6 119.3h0M1646.1 119.2h0M1665.5 119.1h0M1661.8 119.8h0M1632 120h0M1646 119.5h0M1658.4 120.3h0M1626.3 119.8h0M1664.1 120h0M1660.4 120.7h0M1633.5 120.3h0M1646.5 120.3h0M1631.3 121.1h0M1654.7 121.1h0M1629.2 121h0M1652.4 121.2h0M1650.9 121.6h0M1629.6 121.3h0M1660.4 121.4h0M1669 121.9h0M1644.5 121.5h0M1658.8 121.7h0M1653.9 122.5h0M1651.3 121.8h0M1626.3 122.1h0M1652.6 122.8h0M1631.2 122.4h0M1654.9 122.6h0M1630.1 122.8h0M1635.2 122.8h0M1653.7 123.1h0M1631.8 123h0M1629.8 123.5h0M1665.6 123.3h0M1625.9 123.8h0M1651.3 123.8h0M1669.2 124.1h0M1637.4 124.1h0M1644.6 124h0M1628.8 124.4h0M1669.5 124.2h0M1635.1 124.7h0M1663.6 124.5h0M1640.6 125.2h0M1662.8 125.2h0M1627.1 125.1h0M1660.6 125.2h0M1637.3 125h0M1642.5 125.7h0M1659.4 125.4h0M1652.3 125.7h0M1663.5 126h0M1672 125.8h0M1668.5 125.9h0M1662 126.6h0M1661.9 126.3h0M1639.1 126.9h0M1656.8 127.1h0M1649.1 127.1h0M1660.5 127.1h0M1654.2 126.9h0M1637.6 127.5h0M1634.5 126.9h0M1633.1 127.2h0M1629.1 127.2h0M1660.4 127.9h0M1630.8 127.9h0M1645.5 128.3h0M1630.8 128.4h0M1671.8 128h0M1633.6 128h0M1668.9 128.7h0M1658.2 128.4h0M1633.7 128.5h0M1644.1 128.8h0M1629.7 129.2h0M1646.6 129h0M1674.5 129.3h0M1630.4 129.3h0M1650 129.7h0M1654.7 129.4h0M1671.1 129.5h0M1629.5 129.6h0M1666.1 130h0M1653.1 130.4h0M1638.1 130.5h0M1642.1 130.7h0M1643.4 130.5h0M1635.4 130.7h0M1633.7 131h0M1659.9 130.8h0M1648.9 130.7h0M1673.7 130.8h0M1640 131.3h0M1649.3 131.7h0M1641.2 131.7h0M1667.3 131.8h0M1647.3 132h0M1663.1 132.1h0M1638.3 132.1h0M1636.9 132.1h0M1674.3 132.1h0M1665.6 132.7h0M1638.5 132.4h0M1656.8 132.4h0M1647.4 132.9h0M1636.7 133.2h0M1635.4 133.2h0M1668.2 133.1h0M1640.8 133h0M1650.5 133h0M1651.3 133.5h0M1662.5 133.6h0M1638.3 133.9h0M1676.8 133.8h0M1660.4 133.8h0M1667.6 134.4h0M1670.5 134.4h0M1663.5 134.3h0M1647.5 134.4h0M1671.3 134.8h0M1663.7 134.7h0M1663.7 134.8h0M1666.4 135.1h0M1671.4 135h0M1657.1 135.2h0M1640.5 135.6h0M1679.7 135.5h0M1659.8 135.8h0M1658.1 135.7h0M1652.9 136.2h0M1643.3 136.2h0M1638.8 136.5h0M1651.1 136.1h0M1633.8 136.2h0M1654.2 136.2h0M1644.2 136.8h0M1680.4 136.9h0M1653 136.6h0M1640 137h0M1656.6 137.1h0M1645.2 137.3h0M1674.8 137.5h0M1657.2 137.1h0M1676.1 137.4h0M1676.7 137.5h0M1655.7 137.5h0M1634.2 137.7h0M1649.1 138h0M1655.5 138h0M1680.6 138.6h0M1637.6 138.6h0M1640.9 138.8h0M1666.4 139h0M1667.6 138.6h0M1639.9 139.1h0M1652.3 138.7h0M1680.3 139.4h0M1665.3 139.5h0M1669 139.6h0M1644.7 139.7h0M1661.8 139.9h0M1662.8 139.6h0M1647.3 139.5h0M1659.1 139.7h0M1659.8 140.4h0M1635.9 140.5h0M1658.7 140.6h0M1654.4 140.4h0M1684.4 140.7h0M1637.5 140.8h0M1670.5 141.2h0M1661.5 141h0M1681.6 141.2h0M1653.3 141.5h0M1654.3 141.6h0M1647 141.4h0M1657.1 141.4h0M1677.8 141.6h0M1661.8 142.2h0M1669.8 142.2h0M1653.2 142.1h0M1668.9 142.4h0M1638.8 142.4h0M1638.9 142.3h0M1637.6 142.7h0M1670.8 142.9h0M1682.5 142.9h0M1671.9 143h0M1671.6 143h0M1676.1 142.9h0M1647.1 143.6h0M1670.6 143.3h0M1679 143.4h0M1652.6 143.6h0M1653.6 144.1h0M1641.1 144h0M1640.7 144.1h0M1684.5 144.1h0M1639.1 144.6h0M1687.6 144.4h0M1659.7 144.3h0M1646.9 144.3h0M1639.5 145.2h0M1643.6 145.2h0M1646.4 144.8h0M1675.7 144.9h0M1642.4 145.6h0M1675.2 145.1h0M1670.7 145.9h0M1652.4 146h0M1675.4 145.9h0M1680.2 145.6h0M1655.9 146.3h0M1664.3 145.8h0M1658.6 146.4h0M1648.1 146.7h0M1658.6 146.5h0M1659.8 146.9h0M1687 146.6h0M1644.5 147.3h0M1675.7 147.1h0M1688.5 147.5h0M1670.8 147.6h0M1660.7 147.6h0M1671.6 147.4h0M1642.6 147.5h0M1662.5 148.1h0M1644.9 148.2h0M1681.7 147.9h0M1683.1 148.5h0M1675.9 148h0M1669.5 148.7h0M1653.3 148.4h0M1671.7 148.9h0M1666 149.1h0M1681.4 149h0M1648.9 148.9h0M1671.1 149.6h0M1685.4 149.5h0M1653.8 149.3h0M1653.5 149.7h0M1663.6 149.8h0M1653.4 149.8h0M1650.9 150.2h0M1682 150.1h0M1670 149.9h0M1648.4 150.4h0M1672 150.4h0M1681.1 150.9h0M1684 151.2h0M1658.5 150.7h0M1650.9 150.8h0M1672.4 151.6h0M1687.8 151h0M1674.1 151.9h0M1659.3 151.7h0M1676.8 151.7h0M1667.8 151.7h0M1691.2 151.7h0M1659.7 152.1h0M1688.8 152h0M1683 152.6h0M1677.4 152.3h0M1682.1 153.1h0M1678.7 153.1h0M1654.3 152.9h0M1660.9 152.9h0M1660.3 153h0M1679.7 153.2h0M1651.5 153.9h0M1660.2 154h0M1656 153.8h0M1655.1 154.1h0M1669.8 154h0M1685.7 154h0M1660.4 154h0M1681.5 154.8h0M1662.5 154.6h0M1657.9 154.7h0M1659.2 154.9h0M1665.3 155.5h0M1654 155.5h0M1680.4 155.2h0M1663.3 155.3h0M1668.7 156h0M1656.4 155.6h0M1690.8 155.8h0M1694.1 155.7h0M1686.7 155.8h0M1688.1 156.4h0M1660.3 156.3h0M1677.4 156.3h0M1661 156.5h0M1656.4 156.6h0M1678.8 156.8h0M1679.4 157.4h0M1687.6 157h0M1684.5 157.4h0M1684.7 157.5h0M1689.5 158.1h0M1675.6 157.9h0M1690.8 157.9h0M1662.7 157.9h0M1670.1 158.4h0M1655 158.5h0M1660.2 158.8h0M1689.1 158.9h0M1671 159.1h0M1658.8 159h0M1676.3 159.2h0M1678.8 159.1h0M1663.8 159.2h0M1666.6 159.3h0M1684.8 159.5h0M1657.1 159.9h0M1685 159.7h0M1692.1 159.9h0M1677 160.4h0M1668.8 160.2h0M1681.5 160.9h0M1663.1 160.5h0M1690.7 161.3h0M1673 161.1h0M1674.2 161.6h0M1689.2 161.2h0M1676 161.9h0M1691.2 161.9h0M1660.5 161.8h0M1697.3 161.9h0M1684.1 162h0M1680.6 162.3h0M1660.2 162.1h0M1698.1 162.7h0M1691.1 163h0M1695.3 162.7h0M1686.9 162.8h0M1681.9 162.9h0M1680.6 163.2h0M1697.9 163.6h0M1665.4 163.7h0M1698.2 163.7h0M1681.8 163.6h0M1665.9 163.9h0M1672.6 164h0M1664 164.4h0M1683.6 164.6h0M1669.3 164.7h0M1685.4 164.7h0M1674 164.9h0M1677.1 165.1h0M1662.1 165h0M1684.4 165.3h0M1673.6 165.7h0M1668.6 165.3h0M1696.4 165.7h0M1679.8 166.1h0M1667.1 166.3h0M1669.7 166.1h0M1676.5 166.7h0M1694.5 166.6h0M1691.7 166.7h0M1693.1 167h0M1699.1 166.6h0M1693.4 167.2h0M1683.2 167.2h0M1693.7 167.8h0M1687 167.6h0M1691.9 167.6h0M1678.9 167.8h0M1694.1 168.3h0M1683.3 168.1h0M1670.3 168.4h0M1687.3 168.4h0M1697 169h0M1701.1 169.2h0M1666.1 168.6h0M1685.8 169.4h0M1685.6 169.7h0M1684.5 169.4h0M1679.1 169.7h0M1679.4 169.8h0M1669.7 169.8h0M1680.7 170.4h0M1701.6 170.2h0M1682 170.3h0M1685.4 170.8h0M1672.8 171h0M1686.4 170.6h0M1699.3 171.4h0M1698.8 171.1h0M1673 171.3h0M1674.7 171.2h0M1690.1 172.1h0M1690.5 171.5h0M1682.8 172.1h0M1668.1 172h0M1697.8 172.1h0M1685.9 172.5h0M1677.8 173h0M1688.7 172.7h0M1673.5 172.6h0M1673 172.8h0M1687.6 173.5h0M1671.2 173h0M1696 173.5h0M1676 173.6h0M1673.6 173.8h0M1685.2 174h0M1672.3 174.6h0M1685.1 174.5h0M1679.6 174.9h0M1681.5 175.1h0M1698.3 175.3h0M1688 175.4h0M1678.9 175h0M1681.9 175.7h0M1687.6 175.3h0M1683.3 175.5h0M1704 175.6h0M1689.9 176h0M1685.5 176.5h0M1683.8 176.2h0M1678.5 176.2h0M1694.5 176.6h0M1677.6 176.7h0M1699.9 176.8h0M1687.6 177h0M1684 177.6h0M1685.6 178h0M1689.6 177.6h0M1688.4 177.7h0M1702.9 178.2h0M1685.6 178.1h0M1702.2 178.2h0M1690.2 178.8h0M1686.4 178.9h0M1692.3 178.6h0M1680.4 179.4h0M1684.7 179.4h0M1686.1 179.5h0M1684.5 179.5h0M1679.2 180h0M1683.6 180.2h0M1703.3 180.5h0M1679.7 180.5h0M1696.3 180.4h0M1688.4 180.5h0M1701.7 180.8h0M1695.6 181.4h0M1698.9 181.4h0M1678 181.2h0M1686 181.5h0M1677.9 181.6h0M1702.7 182h0M1698.7 182.3h0M1688.2 181.9h0M1702.4 182.2h0M1702.8 182.8h0M1679.3 183.1h0M1684.4 183.4h0M1700.6 183.2h0M1700.5 183.7h0M1687.4 183.6h0M1706.1 184h0M1700.5 184h0M1680.3 184.3h0M1690.9 184.1h0M1701.2 184.2h0M1699.7 184.8h0M1707.1 185h0M1695.3 185h0M1691.7 185.1h0M1689.2 185.6h0M1687.2 185.5h0M1694.1 185.8h0M1689 186.4h0M1684.2 186.5h0M1695.8 186.6h0M1685.2 186.6h0M1701.8 187.1h0M1684 186.8h0M1682.9 187h0M1686.4 187.1h0M1689.9 187.6h0M1691.4 187.4h0M1708.9 188.2h0M1683.6 188.2h0M1683.7 188.3h0M1693.8 188.1h0M1707.4 188.8h0M1699.5 188.7h0M1688.5 188.8h0M1682.9 189.1h0M1686.7 189.6h0M1705.5 189.9h0M1704.9 190.1h0M1691.6 189.9h0M1693.1 190.3h0M1692.8 190.1h0M1697.9 190.8h0M1704.8 191.2h0M1695.7 191.1h0M1687.2 190.9h0M1702 191.2h0M1695.3 191.3h0M1695.1 191.6h0M1703.4 192.3h0M1704.6 192.2h0M1691 192.4h0M1692.5 192.6h0M1701.9 192.5h0M1691.3 193h0M1698.9 192.9h0M1692.9 193.4h0M1710.4 194h0M1709.4 193.9h0M1706.2 194.1h0M1692.6 194.3h0M1709.2 194.2h0M1693.8 194.9h0M1685.8 194.8h0M1687.7 195.1h0M1694.5 195.2h0M1699.7 195.3h0M1688.6 195.6h0M1688.9 196.1h0M1692.4 195.8h0M1698.5 196.2h0M1691.5 196.4h0M1700.9 196.3h0M1696.7 197.1h0M1700.3 197.2h0M1706.2 197.4h0M1689.5 197.7h0M1696.7 197.7h0M1706.8 197.5h0M1706.5 197.9h0M1687.2 198.3h0M1692.1 198.4h0M1709.7 198.7h0M1708.3 199.1h0M1691.1 199.2h0M1695.8 199.5h0M1690 199.3h0M1706.3 199.3h0M1702.4 199.5h0M1701.4 200.4h0M1704.4 200.1h0M1692.1 200.5h0M1691 200.3h0M1690.9 200.9h0M1695.2 201.2h0M1698.1 201.3h0M1705.8 201.8h0M1712 201.4h0M1700.9 202.2h0M1708.4 202.4h0M1705.4 202.3h0M1700.8 202.5h0M1710.7 202.9h0M1690.9 203.3h0M1703.7 202.8h0M1693.3 203.5h0M1699.1 203.5h0M1689.6 203.4h0M1700.6 204.4h0M1691.2 204.1h0M1696.8 204.5h0M1696 205h0M1713.5 204.5h0M1703.6 205.3h0M1704.8 205.4h0M1699 205.8h0M1713.2 205.9h0M1697.9 206h0M1705.2 206h0M1703.7 206.2h0M1698.6 207h0M1702.1 206.6h0M1699.4 206.7h0M1691.5 207.2h0M1704.1 207.3h0M1695.4 207.5h0M1708.2 207.9h0M1712.6 208.2h0M1693.8 208.1h0M1705.1 208.7h0M1701.4 209h0M1692.5 208.8h0M1697.6 208.8h0M1695.4 209.2h0M1701.4 209.4h0M1705.9 209.6h0M1708.3 210.4h0M1706.1 210.6h0M1700 210.2h0M1695.7 210.8h0M1712.9 210.7h0M1699.6 211.1h0M1707.1 211.2h0M1693.5 211.7h0M1699.9 211.8h0M1705.8 211.6h0M1713.6 212.3h0M1715.1 212.6h0M1700.1 212.4h0M1696.5 212.6h0M1711.3 213.1h0M1704.4 213.5h0M1706 213.4h0M1709.3 214h0M1710.6 213.9h0M1710.4 214h0M1704.6 214.8h0M1696.4 214.8h0M1710.3 214.8h0M1715.1 214.8h0M1694.4 215h0M1694.3 215.3h0M1714 215.7h0M1697 216.3h0M1697.5 215.9h0M1710.6 216.5h0M1708.4 216.6h0M1710.9 217.2h0M1696.2 217.3h0M1695.1 217.6h0M1695 217.6h0M1703.5 217.9h0M1698.5 217.8h0M1699.5 218h0M1710.6 218.6h0M1700.8 218.8h0M1697.6 219.2h0M1712.9 219.4h0M1700.9 219.3h0M1704.9 219.8h0M1707.1 219.8h0M1707 220.4h0M1702.2 220.5h0M1713.2 220.9h0M1701.6 220.4h0M1697.2 221.3h0M1698.1 221.4h0M1697.2 221.1h0M1702.5 222h0M1710.7 221.5h0M1699.5 222.4h0M1709.9 222.2h0M1704.3 222.3h0M1696 223.1h0M1697.9 223h0M1698.1 223.4h0M1698.7 223.7h0M1706.1 223.7h0M1714.8 223.9h0M1700.7 224.4h0M1701.3 224.2h0M1701.3 224.7h0M1704.3 225h0M1703.8 225.3h0M1707.2 225.4h0M1710.8 225.8h0M1704.2 225.7h0M1705 226h0M1704.5 226h0M1716.9 226.9h0M1701.6 226.9h0M1704.1 226.7h0M1713.7 227.5h0M1715.3 227.4h0M1709.8 227.8h0M1703 228.2h0M1713.8 228.2h0M1708.9 228.5h0M1711.7 228.6h0M1710.8 229h0M1710.7 229h0M1709.3 229.5h0M1702.3 230h0M1706.5 229.8h0M1701.3 229.8h0M1715.2 230.4h0M1713.3 230.4h0M1701 230.9h0M1713.4 231.4h0M1714.8 231.6h0M1713.7 231.2h0M1700.7 231.7h0M1713.5 232h0M1706.9 232.7h0M1711.5 232.5h0M1707.3 232.5h0M1710.6 232.9h0M1708 233.1h0M1705.6 233.1h0M1701.8 233.5h0M1711.8 233.8h0M1704.4 233.9h0M1710.9 234.7h0M1701.6 234.8h0M1705.6 234.6h0M1706.4 235h0M1706.4 235.5h0M1713.5 235.7h0M1716.1 235.7h0M1716.7 236.3h0M1704.4 236.1h0M1712.5 236.6h0M1715.7 237.1h0M1698.9 237.1h0M1714.1 237.3h0M1707.8 237.6h0M1708.1 238.1h0M1711.2 237.8h0M1711.1 238.4h0M1713.1 238.4h0M1700.2 239.1h0M1701.3 239.2h0M1700.3 239.5h0M1712 239.8h0M1706.8 239.9h0M1717.6 239.8h0M1704.7 240.4h0M1699.6 240.4h0M1704.9 240.7h0M1714.5 241.1h0M1700.2 241.2h0M1715.2 241.4h0M1702.5 241.5h0M1708.9 242.1h0M1710.2 242.3h0M1714.1 242.7h0M1701.2 242.8h0M1708.8 243h0M1704.8 243.6h0M1704.8 243.7h0M1707.3 244.3h0M1707.7 244.1h0M1711 244.1h0M1715.4 244.4h0M1716.3 245h0M1713.5 245.3h0M1705.2 245.2h0M1715.1 245.5h0M1702.4 245.6h0M1714.1 246.3h0M1704.6 246.8h0M1712.1 246.9h0M1701.1 247.3h0M1705.4 247.1h0M1710.4 247.2h0M1715.8 247.5h0M1714.6 248.4h0M1707.5 248.4h0M1704.4 248.6h0M1701.7 248.8h0M1712.2 248.8h0M1715.2 249.7h0M1717 249.6h0M1705.4 249.9h0M1716.8 249.8h0M1709.2 250.4h0M1702.1 250.4h0M1705.9 250.7h0M1716 250.8h0M1711.2 251.8h0M1711.9 251.3h0M1706.4 252.2h0M1704.2 252.5h0M1706.5 252.2h0M1710.5 253h0M1711 253h0M1703 253.4h0M1703.3 253.5h0M1712.1 253.6h0M1704.5 254.4h0M1715.5 254.4h0M1704.5 254.3h0M1709.9 254.9h0M1703.4 255.2h0M1709.8 255.3h0M1704.7 255.4h0M1705.7 256.3h0M1709.8 256.6h0M1709.4 256.8h0M1710.6 257h0M1703.9 256.9h0M1701.9 257.2h0M1715.8 257.3h0M1710.7 258.1h0M1713 257.8h0M1704.7 258.1h0M1710.6 258.9h0M1713.8 259h0M1716.1 258.9h0M1715.6 259.2h0M1705.3 260h0M1711.9 259.8h0M1704.6 260.2h0M1707.4 260.9h0M1708.4 260.9h0M1713.4 261.3h0M1704 261.6h0M1713.9 261.9h0M1706.3 261.8h0M1715.3 262h0M1713 263h0M1714.5 263.1h0M1709.2 263.1h0M1713.3 263.3h0M1714.5 263.8h0M1715.4 264.3h0M1705.2 264.6h0M1704.4 264.4h0M1708.4 265.2h0M1710.7 265.4h0M1712 265.6h0M1714.5 265.4h0M1709.9 266.3h0M1705.2 266.6h0M1700.5 266.6h0M1701.4 266.8h0M1709.6 267.2h0M1705.5 267.7h0M1709.6 267.6h0M1701.8 268h0M1710.2 268.6h0M1702.2 268.9h0M1703 268.7h0M1713.5 269.5h0M1709 269.8h0M1705.1 269.8h0M1713.9 269.9h0M1711.8 270h0M1703.1 271.1h0M1706.5 270.9h0M1701.5 271.3h0M1711.5 271.9h0M1712.1 272h0M1701 272.6h0M1704.8 272.6h0M1708.2 272.9h0M1712.3 273.1h0M1705 273.7h0M1709 273.7h0M1705.9 274.2h0M1709.1 273.9h0M1704.7 274.9h0M1702.4 275h0M1707.6 275.4h0M1708.1 275.3h0M1709.4 275.8h0M1712.5 276.2h0M1709.8 276.8h0M1708.4 276.9h0M1703.4 277.3h0M1709.8 277.2h0M1700.7 277.4h0M1708.5 277.7h0M1703.5 278.2h0M1711.2 279h0M1701.3 278.7h0M1703.7 279.2h0M1700.4 279.4h0M1699.3 280.2h0M1703.9 280h0M1700.2 280.5h0M1705.3 280.7h0M1709.2 280.9h0M1710.8 281.5h0M1702.7 281.6h0M1710 282h0M1697.8 282.5h0M1709.2 282.6h0M1708.5 282.9h0M1702.4 283.6h0M1704.1 283.8h0M1698.1 284h0M1707.5 284.4h0M1702.1 284.9h0M1709.4 285.1h0M1703.5 285.5h0M1704.3 285.3h0M1704.9 285.6h0M1703.7 286.1h0M1696.7 286.8h0M1700.2 286.6h0M1706.5 286.9h0M1696.8 287.6h0M1707.7 288h0M1700.4 288.3h0M1699 288.8h0M1707.7 288.5h0M1702.1 289.4h0M1702.6 289.5h0M1707.2 290.2h0M1699.5 289.9h0M1695.7 290.5h0M1695.4 290.7h0M1697.4 291h0M1695.6 291.6h0M1702.7 292.2h0M1702.1 291.9h0M1705.5 292.4h0M1705 293.3h0M1694.8 293.5h0M1695.6 293.3h0M1703.4 294.2h0M1699.6 294h0M1695.6 294.4h0M1694.9 295.1h0M1703.4 295.2h0M1702.6 295.3h0M1704 296.2h0M1701.9 296h0M1702.9 296.8h0M1702.6 297.1h0M1703.4 297.4h0M1694 297.8h0M1699.6 298.3h0M1694.2 298.3h0M1699.8 298.9h0M1703.2 299.2h0M1702.6 299.7h0M1701.1 300h0M1702.3 299.8h0M1695 300.3h0M1698.5 300.7h0M1701.3 300.9h0M1701.7 301.3h0M1702.1 302.3h0M1700.9 302.3h0M1697.6 302.9h0M1701.1 302.6h0M1701.3 303.6h0M1700.9 303.4h0M1700.8 303.9h0M1692.5 304.1h0M1694.1 305h0M1692.9 304.7h0M1700 305.6h0M1695.2 305.9h0M1699.3 306.4h0M1698.9 306.7h0M1698.1 307.2h0M1691.4 307h0M1693 307.5h0M1691.2 308.3h0M1696.7 308.7h0M1689.6 308.4h0M1697.6 308.9h0M1696.8 309.4h0M1689.8 309.6h0M1694 309.8h0M1693.6 310.5h0M1697.7 311.2h0M1688.4 311.5h0M1697.8 311.5h0M1694.6 312.1h0M1688.7 312h0M1690.5 312.7h0M1692.9 312.8h0M1687.6 313.2h0M1688.1 313.5h0M1687.5 313.8h0M1690.6 314h0M1695.8 315h0M1687.5 315.3h0M1687.6 315.2h0M1695.5 315.5h0M1695.5 316.1h0M1692.4 316.1h0M1695.5 316.8h0M1695.3 317.2h0M1695.4 317.4h0M1689.4 317.7h0M1689.5 318.4h0M1690.4 318.9h0M1685.7 318.7h0M1689.7 319.4h0M1685.4 319.4h0M1685.1 320.1h0M1694.1 320.5h0M1692.7 321.2h0M1684.6 321.5h0M1684.9 321.7h0M1685 321.7h0M1686 322.6h0M1684.3 322.7h0M1684 322.8h0M1687.8 323.5h0M1685.4 324h0M1686.6 323.8h0M1685.5 324.2h0M1683.6 324.5h0M1684.2 325.1h0M1690.9 325.3h0M1687.1 326.3h0M1690.8 326h0M1690.8 326.5h0M1686.5 327.2h0M1682.8 327h0M1682.6 327.8h0M1682.6 327.9h0M1683.5 328.6h0M1681.9 328.9h0M1685.1 329.4h0M1688 329.6h0M1682.4 329.7h0M1681.7 330.4h0M1684.8 331.1h0M1685.9 331.3h0M1685.2 331.9h0M1680.8 331.7h0M1680.2 332.2h0M1684.5 332.8h0M1683.7 333.4h0M1679.8 333.6h0M1680.6 334.1h0M1681.5 334.2h0M1686.1 334.5h0M1684.2 334.8h0M1678.7 335.1h0M1679.8 336h0M1685.3 336.2h0M1683.6 336.3h0M1678.9 337.5h0M1683.2 337.6h0M1684.5 337.7h0M1679.3 338.6h0M1677.6 338.7h0M1677.9 339.3h0M1677.4 339.7h0M1677.9 339.6h0M1678.7 340.2h0M1679.2 340.4h0M1682.7 341.3h0M1677.6 341.5h0M1676.6 342h0M1681.4 342.1h0M1680.5 342.4h0M1681.3 343h0M1674.5 343.6h0M1680.9 343.8h0M1675.8 344.4h0M1680 344.9h0M1677.9 345.5h0M1674.1 345.3h0M1673.9 346.3h0M1677 346.3h0M1678.2 346.5h0M1672.5 347.5h0M1672 347.7h0M1674.4 348.3h0M1670.5 348.4h0M1672.2 348.8h0M1675.1 349.2h0M1673.2 349.4h0M1672.4 349.9h0M1669.7 350.5h0M1669 351.1h0M1674 351h0M1668.6 351.9h0M1668.4 352.4h0M1674.6 352.5h0M1667.7 352.7h0M1672 353.7h0M1669.8 353.7h0M1671.1 353.9h0M1668.1 354.4h0M1666.6 355.4h0M1666.9 355.6h0M1665.9 356h0M1671.7 356.3h0M1671.2 356.5h0M1670.6 356.9h0M1667.5 357.1h0M1665.7 358.1h0M1671.2 358.4h0M1670.8 358.4h0M1667.7 359.3h0M1664.3 359.3h0M1669.6 360.1h0M1664.1 360.3h0M1662.9 360.6h0M1666 361.3h0M1663.5 361.2h0M1663.5 361.6h0M1669 362h0M1665.3 362.4h0M1665.3 363h0M1667.4 363.5h0M1662.5 364.1h0M1664 364.3h0M1662.5 364.5h0M1667.7 364.6h0M1664.9 365.5h0M1667.3 365.6h0M1660.9 366.4h0M1661.4 366.4h0M1664.4 366.7h0M1661.3 367.4h0M1662.3 367.4h0M1665.1 367.9h0M1664.8 368.7h0M1664.7 368.5h0M1661.5 369.6h0M1665.1 369.4h0M1662 370h0M1657 370.4h0M1657.3 371h0M1656.7 371.3h0M1664 371.8h0M1661.9 372.3h0M1663.4 372.3h0M1663.4 372.7h0M1660.4 373h0M1655.7 373.6h0M1655.6 373.6h0M1656.4 374.3h0M1658.2 374.7h0M1662 374.8h0M1662.4 375.8h0M1657 376h0M1661.8 376.3h0M1653.8 376.7h0M1660.4 376.9h0M1655.4 377.7h0M1653.8 378h0M1658.9 378.5h0M1656.7 378.2h0M1653.4 378.7h0M1655.9 379.1h0M1658.4 379.7h0M1655.4 379.9h0M1656.4 380.3h0M1654.5 380.8h0M1653.3 381.3h0M1650.6 381.8h0M1650.5 382.1h0M1658.1 382.3h0M1658 382.8h0M1656.8 382.7h0M1656 383h0M1648.7 383.9h0M1649.1 384.3h0M1657.1 384.9h0M1652.1 385.2h0M1656.8 385h0M1647.9 385.6h0M1647.6 386.2h0M1652.6 386.2h0M1650.3 387h0M1654.9 387h0M1655.4 387.7h0M1654.7 387.8h0M1652.7 388.5h0M1654 388.4h0M1647.8 389.1h0M1652.8 389.1h0M1654 389.3h0M1652.4 389.6h0M1653.6 390h0M1651.5 390.6h0M1652.9 390.7h0M1652.5 391.2h0M1650.4 391.4h0M1648 391.9h0M1647 392.8h0M1651.5 393h0M1646.6 393.1h0M1651.5 393.3h0M1651.8 393.9h0M1651 394.5h0M1642.2 394.3h0M1649.7 394.9h0M1648 395.2h0M1641 395.4h0M1645.3 395.7h0M1649.3 396.7h0M1642.1 396.8h0M1649 397.3h0M1649.1 397.6h0M1646.1 398h0M1648.9 397.8h0M1645.5 398.2h0M1643.5 398.6h0M1642.2 398.9h0M1646.6 399.9h0M1648.2 399.9h0M1637.8 399.9h0M1639.7 400.7h0M1640.7 401h0M1642.4 401.3h0M1639.6 401.3h0M1636.4 401.9h0M1637.5 402.4h0M1643.5 402.7h0M1635.9 403.3h0M1639.2 403.6h0M1641.5 403.2h0M1646 403.8h0M1644.4 404.1h0M1644.6 404.9h0M1644.7 404.8h0M1635.4 405.7h0M1643.7 405.8h0M1635.2 406.3h0M1633.5 406h0M1639.7 406.7h0M1639.3 407h0M1633 407.1h0M1633.3 407.6h0M1636.6 408.1h0M1640.8 408.3h0M1641.8 408.3h0M1642.4 408.9h0M1635.2 409h0M1634.6 410h0M1638.7 409.7h0M1640 410.1h0M1641.2 410.9h0M1638.3 410.7h0M1637.4 411.7h0M1630.2 411.4h0M1631.3 411.8h0M1629.9 412.5h0M1628.8 413h0M1630.2 413h0M1630.7 413.2h0M1638.8 413.7h0M1630.6 414.2h0M1634.9 414h0M1636 414.3h0M1634.4 414.9h0M1635.2 415.8h0M1627.5 415.9h0M1636.9 416.2h0M1629.1 416.5h0M1627.9 416.6h0M1635.7 417.3h0M1632.4 417.4h0M1628 417.7h0M1629.4 417.8h0M1629 418.4h0M1630.4 418.5h0M1634 419.3h0M1635.6 419.2h0M1629.4 420h0M1630.2 420h0M1628.4 420.6h0M1624.7 420.9h0M1630.6 420.9h0M1625.6 421.4h0M1631.1 422h0M1626.6 422.3h0M1629 422.2h0M1628.9 423.1h0M1627.4 422.9h0M1622.8 423.7h0M1626.9 424.1h0M1632.9 424.4h0M1627 424.5h0M1622.1 424.7h0M1629.9 425.3h0M1621.5 425.3h0M1623.2 426.1h0M1623.5 425.7h0M1624.4 426.5h0M1620.8 426.7h0M1631.4 426.9h0M1630.8 427.7h0M1630.7 427.8h0M1620.1 428.4h0M1629 428.4h0M1619.7 429.2h0M1620.1 428.9h0M1619 429.5h0M1622.3 429.8h0M1628.9 430.4h0M1620.8 430.4h0M1621.7 430.5h0M1628 430.8h0M1624.7 431.8h0M1621.5 432.2h0M1621.5 432.3h0M1622.4 432.3h0M1625.5 433h0M1627.1 433.3h0M1623.6 433.2h0M1623.3 433.7h0M1626.9 434h0M1616.4 434.6h0M1617.1 434.9h0M1623.4 435h0M1619.6 435.4h0M1619.6 436.1h0M1625.7 436.6h0M1624.8 436.3h0M1623.3 436.8h0M1622.5 437.3h0M1623.7 437.5h0M1623.4 437.6h0M1614.5 438.6h0M1622.3 438.9h0M1616.2 438.8h0M1613.7 439.4h0M1618.6 439.7h0M1619.8 439.9h0M1621 440.6h0M1612.3 441.2h0M1615.1 441.4h0M1617.8 441.5h0M1613.4 441.9h0M1618.6 442.3h0M1615.3 442.6h0M1611.6 443.2h0M1614.2 443.5h0M1610.7 443.7h0M1615.7 444h0M1616.5 444.9h0M1614 445.5h0M1610 445.5h0M1615.5 445.7h0M1609.5 446.4h0M1611.6 447.1h0M1614.4 447.3h0M1613.8 447.4h0M1611.8 448h0M1613.1 448.5h0M1612.6 449.2h0M1607.6 449.4h0M1608.6 449.8h0M1608.7 450.1h0M1606.8 450.4h0M1609.5 450.8h0M1609.2 452h0M1608.1 452.1h0M1607.6 452.8h0M1608.3 453.4h0M1606.7 453.6h0M1606.3 454.4h0M1605.2 454.9h0M1606.8 455.1h0M1603.8 455.7h0M1606.3 455.7h0M1604.2 456.6h0M1605.7 456.9h0M1604.7 457.3h0M1605.7 458h0M1602.5 458.6h0M1604.3 459h0M1604.9 459.4h0M1602.4 459.9h0M1600.8 460.8h0M1600.8 460.8h0M1601.1 461.9h0M1602.4 462h0M1601.9 462.6h0M1602 463.2h0M1598.7 463.2h0M1598.1 463.7h0M1598.5 464.2h0M1599.9 465.3h0M1597.5 465.2h0M1599.1 465.7h0M1596.3 466.6h0M1596.2 466.8h0M1596.1 467.6h0M1595.5 467.7h0M1596.6 468.7h0M1596.1 469.4h0M1596.9 469.8h0M1594.7 470.4h0M1595.5 470.5h0M1593.7 471.1h0M1593.8 471.6h0M1593.3 472.1h0M1592.6 472.8h0M1592.9 473.1h0M1594 473.5h0M1594.9 474.3h0M1592.3 474.2h0M1593.4 475.2h0M1590.9 475.4h0M1591.1 476.2h0M1589.1 476.5h0M1590.1 477.1h0M1589.8 477.3h0M1591.2 477.5h0M1589.9 478h0M1591.3 478.7h0M1587.6 479.6h0M1589.1 480.3h0M1588.3 480.7h0M1587.5 481.1h0M1588.4 481.6h0M1586.4 481.6h0M1588 482.6h0M1587.6 482.9h0M1585.6 483.3h0M1584.7 484h0M1585.6 484.6h0M1585.3 484.5h0M1585.2 485.2h0M1585.4 485.8h0M1584.1 486.7h0M1583.8 487.2h0M1582.2 487h0M1583.7 488.1h0M1583.9 488.1h0M1581.9 488.8h0M1582.2 489.7h0M1581.4 489.5h0M1581.6 490.5h0M1582.5 490.4h0M1582.5 491h0M1580.7 491.5h0M1581.2 492.4h0M1579.6 493h0M1577.8 493.4h0M1579.1 493.6h0M1578.9 494.1h0M1579.5 495.1h0M1579.1 495.3h0M1576.2 496.2h0M1578.1 496.4h0M1577.7 496.6h0M1578.7 496.9h0M1577.4 497.5h0M1577.5 498.3h0M1576.2 499.1h0M1575 499.2h0M1575.3 500h0M1574.1 500.2h0M1576.1 501.1h0M1573.5 501h0M1573 501.4h0M1574.5 501.9h0M1574.7 503h0M1575.5 503.5h0M1571.8 504h0M1573.7 504.5h0M1573.4 505h0M1570 505.2h0M1570.7 505.9h0M1572.7 506.4h0M1569.5 506.9h0M1568.8 507.5h0M1572.2 507.4h0M1569.5 508.5h0M1569.7 508.5h0M1570.3 509.4h0M1569.3 509.5h0M1568.2 509.9h0M1569.6 510.6h0M1569 511.1h0M1567.9 511.3h0M1567.6 511.9h0M1566.5 512.9h0M1567.9 512.8h0M1567.2 513.5h0M1564.3 514.1h0M1567.3 515h0M1564.2 515.2h0M1566.3 515.9h0M1565.7 516.4h0M1563.3 516.4h0M1565 516.8h0M1561.9 517.9h0M1565 518h0M1564.4 519h0M1562.4 519h0M1561.2 519.5h0M1561.3 520.1h0M1561.6 520.2h0M1560.5 521.3h0M1562.5 521.6h0M1562.7 522.2h0M1560.5 522.2h0M1560.4 522.9h0M1559.3 523.7h0M1559.3 523.9h0M1560.6 524.4h0M1560.3 525.2h0M1558.9 525.7h0M1559.5 525.7h0M1560.2 526.8h0M1558.9 526.9h0M1556.8 527.4h0M1558.7 528.3h0M1558.7 528.8h0M1555.4 528.9h0M1557.5 529.6h0M1557.5 529.7h0M1554.7 530.6h0M1556.5 531h0M1556.2 531.6h0M1553.9 531.9h0M1553.5 532.2h0M1555.6 532.7h0M1555.6 533.8h0M1553.8 534.1h0M1555.1 534.4h0M1551.8 535.3h0M1551.5 535.8h0M1551.2 535.9h0M1550.6 536.3h0M1552 537.1h0M1551.4 537.4h0M1552.6 538h0M1550 538.6h0M1550 539.2h0M1550 539.6h0M1549.9 539.7h0M1548.6 540.5h0M1548.8 540.6h0M1549.9 541.6h0M1549.1 541.8h0M1548 542.7h0M1548.2 543.3h0M1547.1 543.5h0M1546.2 543.6h0M1548.2 544.3h0M1549.2 544.8h0M1548 545.4h0M1545 545.6h0M1546.7 546.8h0M1548 547.1h0M1546.9 547.6h0M1547.1 547.7h0M1546.7 548.1h0M1545.9 548.9h0M1543.5 549.3h0M1543 549.6h0M1545.4 550.5h0M1543.7 550.6h0M1544 551.3h0M1542.2 552h0M1542.9 552.7h0M1541.2 552.7h0M1542 553.3h0M1543.5 554h0M1542.7 554.4h0M1541.7 554.6h0M1541.2 555h0M1541.8 556h0M1540.9 556.7h0M1541 556.9h0M1540.1 557.3h0M1539.7 557.9h0M1539.1 558.7h0M1541.1 558.7h0M1538.9 558.9h0M1540.2 559.6h0M1539.2 560.6h0M1540.1 561h0M1538.1 561.6h0M1539.9 562.2h0M1538.3 562.5h0M1536.1 562.9h0M1537.4 563h0M1536.9 563.6h0M1538 564.1h0M1536.6 564.7h0M1537.1 565.6h0M1535.7 565.4h0M1534.9 565.9h0M1533.7 566.5h0M1534.4 567h0M1535.7 567.5h0M1533.5 568h0M1532.2 568.6h0M1534 569.4h0M1534.5 570.1h0M1531.7 570.1h0M1534 570.6h0M1532.7 571h0M1531.5 571.7h0M1530.1 572h0M1530.6 572.7h0M1529.5 573.4h0M1531.9 574h0M1529.1 574.2h0M1531.4 574.6h0M1529.1 574.8h0M1530.8 575.4h0M1529.9 575.9h0M1527.9 577.1h0M1529.1 576.8h0M1530.1 577.5h0M1527.4 577.9h0M1528.1 578.7h0M1526.7 578.9h0M1527.3 579.7h0M1527.5 580.4h0M1525.2 580.4h0M1526.8 581.4h0M1527.7 581.9h0M1527.1 581.9h0M1524.1 582.7h0M1525.3 583h0M1526 584h0M1525.4 583.8h0M1525.4 584.5h0M1524.1 585.3h0M1524.9 585.5h0M1522.3 586h0M1521.8 586.6h0M1523.6 587.3h0M1524 587.7h0M1522 588h0M1520.9 588.8h0M1520.3 589.3h0M1521.5 589.6h0M1521.4 589.8h0M1520.1 590.7h0M1521.6 590.7h0M1519.5 591.3h0M1520.3 592.4h0M1520.8 592.5h0M1518.9 592.9h0M1519.4 593.8h0M1518.3 594.1h0M1519.2 594.9h0M1516.7 595.3h0M1516.6 595.7h0M1519.1 595.7h0M1518.9 596.4h0M1517 597.3h0M1517.3 597.4h0M1517.6 598.2h0M1514.7 598.4h0M1515.5 599.4h0M1514.2 599.3h0M1514 600h0M1517.1 600.6h0M1515.3 600.6h0M1514.5 601.2h0M1515.7 602h0M1515.1 602.9h0M1512 602.7h0M1514.8 603.8h0M1513.1 604h0M1515.2 604.6h0M1514.4 605.4h0M1512.8 605.3h0M1510.8 605.8h0M1512.6 606.8h0M1513.6 607.3h0M1510.8 607.5h0M1510.4 608.3h0M1509.6 608.3h0M1512.4 609.2h0M1511.6 609.5h0M1510.1 610.1h0M1511 610.5h0M1511.7 611h0M1508.6 611.4h0M1508.1 611.5h0M1507.7 612.1h0M1508.5 612.6h0M1506.6 613.5h0M1506.9 614.3h0M1510 614.1h0M1507.3 614.7h0M1506.1 615.5h0M1506.9 616h0M1507.1 616.1h0M1507.5 617h0M1507.5 617.3h0M1506.8 617.8h0M1506.4 618.8h0M1506.2 619h0M1505.3 619.8h0M1504.7 620.1h0M1504.5 620.7h0M1503.1 620.9h0M1506.1 620.9h0M1503.3 621.9h0M1503.4 622.3h0M1505.1 622.6h0M1502 623.2h0M1504.9 623.9h0M1504.8 624.2h0M1502.2 625.1h0M1504.4 625.5h0M1503.9 625.7h0M1501.4 626.3h0M1500.8 627.2h0M1503.4 626.9h0M1503.6 628h0M1499.7 628.6h0M1502.6 628.5h0M1503.4 629.2h0M1501.2 630h0M1501.8 629.9h0M1498.8 630.4h0M1502.9 631.3h0M1501.1 631.7h0M1500.7 632.6h0M1499.5 632.7h0M1498 633.1h0M1501.1 633.5h0M1499.8 634.3h0M1498.3 634.5h0M1500.4 635.6h0M1500.7 635.8h0M1498.8 636.3h0M1499.1 636.3h0M1499.6 636.9h0M1499.8 637.7h0M1496.6 638h0M1496.2 638.6h0M1499.4 639.4h0M1496.3 639.5h0M1498.1 639.9h0M1497.3 640.8h0M1497.6 641.3h0M1495.6 642h0M1494.8 641.9h0M1498.1 642.6h0M1497.2 643.3h0M1495.6 643.4h0M1497.6 644.3h0M1495.7 644.7h0M1493.8 644.8h0M1494.8 645.4h0M1495.3 645.8h0M1493.6 646.9h0M1494 647.2h0M1494.1 647.7h0M1495.9 648.4h0M1494.2 649h0M1495.5 649.1h0M1493.7 649.6h0M1494.6 650.3h0M1495.8 650.8h0M1494 651.1h0M1492.4 651.3h0M1492.5 652.1h0M1493.2 652.3h0M1492.3 653.5h0M1492.9 653.6h0M1492.6 653.9h0M1492.6 654.5h0M1494.2 655.2h0M1493.7 655.9h0M1493.5 655.7h0M1493.8 656.9h0M1494.5 656.8h0M1492.5 657.3h0M1491.5 658.3h0M1494 658.4h0M1494.2 659.4h0M1491.1 659.3h0M1493.8 660.3h0M1491.4 660.4h0M1493.8 661h0M1493.1 661.2h0M1490.8 661.7h0M1492.2 662.2h0M1493.3 662.9h0M1494.3 663.2h0M1491.9 663.8h0M1493.6 664.9h0M1494.1 664.7h0M1492.7 665.3h0M1494.1 665.7h0M1493.8 666.8h0M1491.3 666.7h0M1492.3 667.1h0M1493.4 667.7h0M1493 668.6h0M1492 668.8h0M1494.1 669.2h0M1493.9 669.9h0M1494.8 670.2h0M1493.7 671.3h0M1494.7 671.8h0M1492.4 672.3h0M1493.9 672.5h0M1494.2 672.6h0M1492.7 673.2h0M1494.4 673.8h0M1494.9 674.7h0M1493.6 675h0M1495.4 675.3h0M1494.2 675.5h0M1493.6 676.4h0M1492.3 676.9h0M1495.5 677.2h0M1495.4 678.3h0M1496.6 678.6h0M1494.3 679.1h0M1493.9 679.5h0M1493 679.5h0M1495.9 680.7h0M1495 680.7h0M1495.2 681.3h0M1494.6 681.9h0M1495.6 682h0M1496.2 683h0M1494.6 683h0M1494.6 683.9h0M1495.7 684.5h0M1494.5 685.1h0M1497.9 685h0M1496.7 685.9h0M1498.3 686.1h0M1498.6 687h0M1498.7 687.4h0M1498.7 687.5h0M1498.1 688.3h0M1496.7 689h0M1496 689.1h0M1497.4 689.5h0M1497.1 690.2h0M1497.3 691.1h0M1499.4 691.4h0M1499.6 691.5h0M1497.6 692.5h0M1498.5 692.8h0M1498.3 693.6h0M1500.7 693.6h0M1499.6 694.1h0M1500 695h0M1497.9 695.6h0M1500.2 695.8h0M1498.1 696.3h0M1501.1 696.6h0M1501.6 697.3h0M1499 697.4h0M1500.4 698.1h0M1501.8 699h0M1499.2 699.2h0M1501 700h0M1502.8 700.4h0M1499.7 701.1h0M1501.2 701.3h0M1500.2 701.9h0M1501.2 702.5h0M1503.1 702.8h0M1502.7 703h0M1501.4 704h0M1503.9 704.1h0M1501.3 704.6h0M1501.9 705.2h0M1502.6 705.5h0M1503.2 706.2h0M1504.2 706.3h0M1505.2 706.9h0M1502.8 707.9h0M1503.1 708h0M1502.5 708.7h0M1503.9 709.1h0M1505.4 709.6h0M1503.6 710.1h0M1503.3 710.7h0M1505 710.9h0M1503.2 711.8h0M1504.3 711.9h0M1504.1 712.7h0M1504.2 713.2h0M1505.4 713.3h0M1504.7 713.8h0M1506.7 714.5h0M1505.3 714.8h0M1506.6 716h0M1507.9 715.7h0M1504.9 716.9h0M1506.4 716.8h0M1505.1 717.9h0M1506.7 717.9h0M1508.6 718.7h0M1504.9 718.9h0M1506 719.8h0M1506.5 720.3h0M1505.9 720.9h0M1506.9 720.7h0M1509 721.5h0M1509.5 722.2h0M1506.1 722.8h0M1506.9 722.8h0M1508.4 724h0M1509.1 724.1h0M1509.5 724.5h0M1507.5 724.8h0M1509.7 725.6h0M1508.5 726h0M1509.7 726.8h0M1510.3 726.9h0M1508.9 727.8h0M1508.6 728.2h0M1508.6 728.2h0M1507.2 728.7h0M1507 729.7h0M1508.4 730.4h0M1508.1 730.5h0M1508.4 731.4h0M1509.4 731.4h0M1510.3 731.8h0M1508.7 732.5h0M1506.4 733h0M1507.8 733.4h0M1506.9 734.1h0M1509.7 734.3h0M1508.7 734.7h0M1507.6 735.5h0M1510.2 736.3h0M1510.3 736.2h0M1509 736.8h0M1509.5 737.8h0M1508.6 737.5h0M1285.9 144.1h0M1291 144.1h0M1460.1 111.9h0M1464 118.4h0M1475.5 125.6h0M1593.5 74.5h0M1598.6 79.4h0M1607.1 72h0M1609.4 73.1h0M1623 69.5h0M1633.2 70.9h0M1630.4 72h0M1652.5 70.3h0M1659.3 74.3h0M1646.3 76h0M1661 79.4h0M1556.7 85.6h0M1581.1 86.2h0M1586.7 83.9h0M1591.8 86.2h0M1599.8 82.2h0M1600.3 94.1h0M1588.4 95.8h0M1582.8 98.1h0M1584.5 102.6h0M1574.3 104.9h0M1589.6 106h0M1596.4 105.5h0M1602 106h0M1609.4 106.6h0M1541.4 114.5h0M1549.3 115.1h0M1556.7 115.7h0M1561.8 110.6h0M1568 111.1h0M1564.6 115.1h0M1570.3 114h0M1574.8 111.7h0M1579.4 111.1h0M1583.9 112.8h0M1589.6 114h0M1596.4 115.1h0M1602 116.2h0M1607.7 117.4h0M1560.7 123h0M1557.8 129.3h0M1563.5 130.4h0M1526.6 127.6h0M1531.2 128.7h0M1543.7 131.5h0M1574.8 127.6h0M1579.4 121.9h0M1583.9 121.3h0M1578.2 132.1h0M1583.9 133.2h0M1589.6 127.6h0M1589.6 133.2h0M1596.4 127.6h0M1596.4 133.2h0M1602 128.7h0M1606.6 129.8h0M1606.6 135.5h0M1613.4 129.8h0M1616.8 133.2h0M1617.3 138.9h0M1624.7 141.2h0M1622.4 134.4h0M1613.4 77.7h0M1617.9 75.4h0M1624.7 74.3h0M1636.1 73.7h0M1641.7 74.8h0M1650.8 76.5h0M1611.1 83.3h0M1613.4 89h0M1580.2 110.1h0M1582.2 111.2h0M1566.8 112.7h0M1603.2 110.2h0M1564.8 111.2h0M1565.3 113.3h0M1593.8 109.6h0M1559.2 113.8h0M1569.3 113.3h0M1581.4 112.4h0M1586 109.6h0M1593.8 110.5h0M1616.3 108.2h0M1597 111h0M1577.1 113.5h0M1581.6 110.4h0M1611.1 108.5h0M1571.9 111.8h0M1611.8 108.8h0M1593.4 109.2h0M1561.7 117h0M1601.1 110.5h0M1567.1 114.4h0M1567 112.3h0M1569.2 112h0M1595.2 111.4h0M1570 116.9h0M1601.6 112.5h0M1568 114.7h0M1597.7 113.1h0M1570.4 115.5h0M1576.7 112.7h0M1562.8 112.9h0M1590.5 111.8h0M1609.1 108.7h0M1606.5 109.9h0M1608.9 107.7h0M1569 109.1h0M1572.8 111.8h0M1591.1 110.9h0M1582.1 111.6h0M1605.6 119.9h0M1601.4 116.8h0M1607.5 117.1h0M1601.8 113.5h0M1590.9 113h0M1579.7 113.8h0M1582.4 113.7h0M1601.9 116.8h0M1615.3 117.4h0M1604.4 115.9h0M1584.6 112.4h0M1606 116.4h0M1600.2 116.3h0M1592 113.9h0M1599.5 111.5h0M1606 113.6h0M1612 120.1h0M1614.4 116.5h0M1610.5 115.3h0M1601 117.6h0M1604.4 117.1h0M1618.7 116.4h0M1593.7 111.9h0M1596.2 114h0M1609.9 117.3h0M1597.7 117.7h0M1594.9 112.4h0M1590.5 113.5h0M1605.1 117.4h0M1618.8 131.9h0M1617.9 136.3h0M1581.4 130.5h0M1621.9 132.4h0M1603.5 132.5h0M1601.7 127.6h0M1611.9 131.9h0M1581.7 129.2h0M1583.1 130.5h0M1597.9 134.5h0M1623.1 134.5h0M1576.8 127.4h0M1608.6 131.6h0M1615.4 133.1h0M1601.3 131.3h0M1587.1 129.7h0M1603.5 132.8h0M1609.3 127.2h0M1609.7 134.4h0M1586 128.9h0M1611.2 133.9h0M1591.3 127.6h0M1605.6 129.7h0M1615.1 132.5h0M1621.2 132.8h0M1594.3 127.5h0M1589.8 128.4h0M1616.7 132.2h0M1608.2 135.1h0M1613.6 130.6h0M1590.1 125.6h0M1620.1 133.4h0M1594.2 127.6h0M1594.1 131h0M1602.6 129h0M1576.5 127.1h0M1615.6 134.6h0M1614.9 133.8h0M1600 127.2h0M1611.5 131.5h0M1608.4 77.6h0M1595.3 83.3h0M1596 79.4h0M1596.3 82h0M1605.5 77.3h0M1606.7 77.5h0M1597.8 82.3h0M1595 80.8h0M1606.4 76.7h0M1601.7 77.6h0M1602.2 80.1h0M1596.4 80.9h0M1588.1 83.3h0M1594.8 78.6h0M1609.5 79.9h0M1611.6 80h0M1613.2 81.7h0M1607.1 76.3h0M1608.3 77.9h0M1613 82.2h0M1608.2 78.7h0M1608.6 79.7h0M1610.7 80.3h0M1610.3 79.4h0M1619.9 120.4h0M1616.3 104.5h0M1621.4 123.6h0M1622.5 126.6h0M1622 123h0M1620.3 118.9h0M1619.7 121.9h0M1614.4 104.3h0M1615.1 102.1h0M1622.2 123h0M1618.6 111.9h0M1620.1 117.8h0M1616.5 103.3h0M1618.1 113h0M1589.2 103h0M1613.6 105.7h0M1586.1 99.2h0M1605.5 105.8h0M1596.9 103.5h0M1582.4 96.8h0M1586.2 101.1h0M1595.4 102.7h0M1601.3 103h0M1606.5 102.1h0M1600.5 104.5h0M1600.6 102.4h0M1592.6 99.8h0M1607.1 103.2h0" fill="none" stroke="#FF0000" stroke-width="7.6" stroke-linecap="round"/>
<path d="M1084.5 809.0V15.549999999999997M1186.7 809.0V15.549999999999997M1288.9 809.0V15.549999999999997M1391.1 809.0V15.549999999999997M1493.3 809.0V15.549999999999997M1595.5 809.0V15.549999999999997M1697.7 809.0V15.549999999999997M996.2 707.3H1749.5M996.2 578.5H1749.5M996.2 449.7H1749.5M996.2 320.9H1749.5M996.2 192.1H1749.5M996.2 63.3H1749.5" stroke="#B8B8B8" stroke-width="2.4" stroke-dasharray="6.3 8.5" fill="none"/>
<path d="M976 70.3 999.8 57 1024 43.8 1048.5 30.5" stroke="#555555" stroke-width="2.6" fill="none"/>
<path d="M971.7 242.4 991.5 229.2 1011.7 216 1032.1 202.7 1053 189.5 1074.2 176.2 1095.7 163 1117.5 149.7 1139.7 136.5 1162.3 123.3 1185.1 110 1208.3 96.8 1231.8 83.5 1255.7 70.3 1279.9 57 1304.4 43.8 1329.2 30.5" stroke="#555555" stroke-width="2.6" fill="none"/>
<path d="M958.2 467.6 972.2 454.3 986.6 441.1 1001.4 427.8 1016.5 414.6 1032.1 401.4 1048 388.1 1064.2 374.9 1080.8 361.6 1097.8 348.4 1115.2 335.1 1132.9 321.9 1151 308.7 1169.4 295.4 1188.2 282.2 1207.3 268.9 1226.7 255.7 1246.6 242.4 1266.7 229.2 1287.2 216 1308.1 202.7 1329.3 189.5 1350.8 176.2 1372.7 163 1394.9 149.7 1417.4 136.5 1440.3 123.3 1463.5 110 1487.1 96.8 1510.9 83.5 1535.1 70.3 1559.6 57 1584.4 43.8 1609.6 30.5" stroke="#555555" stroke-width="2.6" fill="none"/>
<path d="M992.7 811.9 996.3 798.7 1000.3 785.4 1004.8 772.2 1009.7 758.9 1015.1 745.7 1020.9 732.4 1027.2 719.2 1033.9 706 1041.1 692.7 1048.7 679.5 1056.7 666.2 1065.1 653 1074 639.7 1083.3 626.5 1093 613.3 1103.1 600 1113.6 586.8 1124.6 573.5 1135.9 560.3 1147.6 547 1159.8 533.8 1172.3 520.5 1185.2 507.3 1198.5 494.1 1212.1 480.8 1226.2 467.6 1240.6 454.3 1255.5 441.1 1270.6 427.8 1286.2 414.6 1302.1 401.4 1318.4 388.1 1335.1 374.9 1352.1 361.6 1369.5 348.4 1387.2 335.1 1405.3 321.9 1423.7 308.7 1442.5 295.4 1461.7 282.2 1481.2 268.9 1501 255.7 1521.2 242.4 1541.7 229.2 1562.6 216 1583.8 202.7 1605.3 189.5 1627.2 176.2 1649.4 163 1672 149.7 1694.9 136.5 1718.1 123.3 1741.6 110 1765.5 96.8" stroke="#555555" stroke-width="2.6" fill="none"/>
<path d="M1248.4 811.9 1252.4 798.7 1257 785.4 1261.9 772.2 1267.4 758.9 1273.3 745.7 1279.6 732.4 1286.4 719.2 1293.6 706 1301.3 692.7 1309.3 679.5 1317.8 666.2 1326.8 653 1336.1 639.7 1345.8 626.5 1356 613.3 1366.6 600 1377.6 586.8 1388.9 573.5 1400.7 560.3 1412.9 547 1425.4 533.8 1438.4 520.5 1451.7 507.3 1465.4 494.1 1479.5 480.8 1494 467.6 1508.8 454.3 1524.1 441.1 1539.7 427.8 1555.6 414.6 1571.9 401.4 1588.6 388.1 1605.7 374.9 1623.1 361.6 1640.8 348.4 1658.9 335.1 1677.4 321.9 1696.2 308.7 1715.4 295.4 1734.9 282.2 1754.8 268.9" stroke="#555555" stroke-width="2.6" fill="none"/>
<path d="M1503.8 811.9 1508.4 798.7 1513.5 785.4 1519 772.2 1524.9 758.9 1531.3 745.7 1538.2 732.4 1545.4 719.2 1553.1 706 1561.3 692.7 1569.8 679.5 1578.8 666.2 1588.2 653 1598 639.7 1608.2 626.5 1618.8 613.3 1629.9 600 1641.3 586.8 1653.1 573.5 1665.3 560.3 1677.9 547 1690.9 533.8 1704.3 520.5 1718 507.3 1732.2 494.1 1746.7 480.8 1761.6 467.6" stroke="#555555" stroke-width="2.6" fill="none"/>
<path d="M1024.7 104h0M1046.8 107.3h0M1086.5 96h0M1067.2 123.8h0M1030.6 143.3h0M1098.3 134.6h0M1135.3 107.6h0M1170.1 65.1h0M1178.3 93.2h0M1202 79.3h0M1204.8 96.2h0M1230.8 78h0M1239.6 63.8h0M1259.9 79.3h0M1222.3 98h0M1236 97h0M1249.6 93.9h0M1230.6 102.9h0M1231.8 105.5h0M1250.6 111.7h0M1244.2 116.8h0M1214.6 120.9h0M1208.7 130h0M1210.5 136.6h0M1234.9 134.1h0M1247.3 141.3h0M1145.6 135.6h0M1142.6 139.7h0M1141.3 144.1h0M1151.6 142h0M1159 136.9h0M1148.2 164.2h0M1150.8 164.2h0M1189.4 169.1h0M1195.8 168.3h0M1204.8 168h0M1210.5 167h0M1204.3 152.9h0M1229.3 150.8h0M1236.7 147.7h0M1245.2 152.3h0M1245.2 155.9h0M1256.3 154.9h0M1266.6 156.5h0M1272.5 156.5h0M1275.3 162.1h0M1274.8 166h0M1283.3 162.1h0M1279.7 133.8h0M1295.2 133h0M1300.6 147.2h0M1306 151.8h0M1310.3 105h0M1245.5 177h0M1267.6 193h0M1300.6 175h0M1303.6 172.4h0M1309.8 172.9h0M1304.4 183.5h0M1302.4 193.5h0M1301.8 200.7h0M1297 204.6h0M1313.4 210.5h0M1315.5 190.4h0M1322.4 83.6h0M1326.3 81.8h0M1334 87h0M1355.9 84.9h0M1339.7 99.1h0M1337.9 101.6h0M1368.8 105.5h0M1355.4 110.7h0M1344.8 115.3h0M1350 118.4h0M1356.4 121.5h0M1375.2 140.8h0M1362.3 149.8h0M1351 155.7h0M1320.6 160.8h0M1409.2 148.5h0M1427.2 146.9h0M1409.4 183.5h0M1368.8 191.2h0M1352.5 196.1h0M1337.9 196.1h0M1341.7 200.2h0M1317.3 190.4h0M1319.9 207.7h0M1322.4 212.9h0M1339.2 209h0M1340.4 212.9h0M1356.4 218.8h0M1375.2 222.4h0M1357.7 233.5h0M1399.6 201.3h0M1434.1 225.7h0M1439 236h0M1389.9 244.3h0M1399.4 240.4h0M1418.4 244.3h0M1348.2 254.6h0M1373.9 251h0M1370 255.8h0M1376.5 260.5h0M1386.8 255.3h0M1371.3 265.6h0M1379 263h0M1385.5 268.2h0M1406.6 265.6h0M1412.5 268.7h0M1432.3 269.5h0M1441.3 276.4h0M1444.7 279.3h0M1454.2 272.6h0M1399.9 275.9h0M1397.8 282.9h0M1426.7 287.5h0M1407.4 288.8h0M1411.2 289.6h0M1418.9 294.7h0M1397.1 294.7h0M1380.3 297h0M1406.1 297.3h0M1430.5 297.8h0M1408.3 306.5h0M1414.8 307.3h0M1410 316.2h0M1428.6 305.7h0M1447.2 304.9h0M1435.1 312.1h0M1440.7 314.3h0M1418.9 320.7h0M1425.4 320.7h0M1408.3 325.6h0M1444.8 323.5h0M1451.3 324.6h0M1465.4 326.4h0M1458.6 331.1h0M1451.3 331.6h0M1440.3 334h0M1422.9 334.3h0M1427.8 335.2h0M1423.7 343.4h0M1431 342.9h0M1434.3 343.7h0M1435.4 352.2h0M1448 338.9h0M1452.1 338.1h0M1455.3 340.5h0M1449.7 343.7h0M1453.7 344.5h0M1446.4 347.8h0M1451.3 349.4h0M1458.1 350.5h0M1461.8 357.5h0M1467.5 362.4h0M1473.1 366.1h0M1464.2 366.4h0M1427 365.6h0M1440.7 366.4h0M1444 363.2h0M1447.2 364h0M1451.3 371.3h0M1455.3 371.3h0M1444.8 378.6h0M1448 380.2h0M1452.1 380.2h0M1449.7 374.5h0M1443.2 391h0M1454.2 390.7h0M1457.8 385.9h0M1461 384.2h0M1461 397.2h0M1461.8 402.1h0M1462.6 410.2h0M1464.2 416.6h0M1463.4 423.1h0M1465.9 426.4h0M1464.2 371.3h0M1465.9 376.1h0M1469.1 372.9h0M1472.3 371.3h0M1474.8 379.4h0M1467.4 375.5h0M1467 376.5h0M1470.8 376.7h0M1469.5 377.1h0M1473.6 377.8h0M1473.6 378.3h0M1467.7 378.5h0M1468.5 378.3h0M1468.5 379h0M1472.4 379.9h0M1474.3 380h0M1468.2 380.1h0M1468.4 380.8h0M1474.7 381.2h0M1473.9 381.6h0M1468.5 382.2h0M1466.8 382.2h0M1470.6 382.9h0M1467.6 382.9h0M1475.2 383.4h0M1473.9 383.5h0M1474.9 383.9h0M1471.1 385h0M1475 385.3h0M1469.8 385h0M1474.9 385.9h0M1471.2 386.5h0M1470.9 386.6h0M1470.1 386.6h0M1474.3 387.3h0M1472.6 387.2h0M1470.6 387.7h0M1466.7 388.5h0M1474.1 388.4h0M1474.8 389h0M1466.7 389.1h0M1467.5 389.8h0M1469.1 389.8h0M1476.6 390.5h0M1466 390.9h0M1466.3 390.6h0M1476.8 391.1h0M1474.1 392.1h0M1473.2 392.4h0M1468.9 392.2h0M1473.6 392.8h0M1468.1 393.3h0M1467 393.6h0M1475.2 393.5h0M1473.1 393.9h0M1472.4 394.1h0M1477.5 395h0M1468 395.3h0M1477.3 394.9h0M1469.1 395.6h0M1474.1 395.6h0M1467.3 395.9h0M1467.2 396.8h0M1477.2 397.1h0M1474 397h0M1476.1 397.8h0M1468.7 398.1h0M1475.5 398.2h0M1467.8 398.5h0M1474.5 398.4h0M1477.4 399.1h0M1474.7 399.6h0M1475.9 399.6h0M1473.1 399.9h0M1469.6 400.2h0M1469.2 400.8h0M1475.5 400.6h0M1472.4 401.1h0M1472.6 401.6h0M1477.2 401.8h0M1467.6 401.8h0M1470.1 402.1h0M1479.8 402.8h0M1471 402.6h0M1474 403.6h0M1471.7 403.3h0M1467.8 404h0M1471.7 404.3h0M1478.8 404.7h0M1477 404.3h0M1469.3 404.8h0M1468.6 405.4h0M1472.1 405.3h0M1475.9 406.1h0M1477 406.4h0M1470.5 406.1h0M1480.6 406.8h0M1474.4 406.9h0M1480.5 407h0M1475.6 407.8h0M1478.5 408h0M1469.1 408.2h0M1467.8 408.2h0M1469.5 408.5h0M1480.4 408.7h0M1468.2 408.9h0M1478.5 409.6h0M1478.3 409.5h0M1477.4 410.1h0M1478 410.2h0M1479.5 410.8h0M1469 410.9h0M1470.4 411.5h0M1477.4 411.2h0M1476.2 412h0M1467.2 412h0M1474.1 412.5h0M1480.7 412.9h0M1474 412.5h0M1475 413.1h0M1470.4 413.3h0M1478.6 414h0M1468.6 414h0M1478.5 414h0M1481.5 414.7h0M1477 414.9h0M1473.5 415.4h0M1477.4 415.6h0M1468.8 416.1h0M1476 415.6h0M1478.1 416.4h0M1477.6 416.7h0M1477.6 417.1h0M1468.8 417.1h0M1475.7 417h0M1473.7 417.2h0M1474.9 418.1h0M1469.9 418h0M1470.4 418.1h0M1470.6 419h0M1476.6 419.3h0M1474.4 419.2h0M1468.1 419.2h0M1480.7 419.8h0M1476.3 419.7h0M1469.5 420h0M1475.2 420.5h0M1483.9 420.5h0M1476.7 421.5h0M1480.6 421.3h0M1483.8 421.8h0M1477.7 422h0M1474.5 422.3h0M1468.9 422.4h0M1476.7 423h0M1481.2 423.2h0M1471.2 423.4h0M1468.7 423.5h0M1480.3 423.5h0M1483 424.5h0M1478.7 424.7h0M1483 424.3h0M1481.2 425h0M1481.1 425.2h0M1478.5 425.6h0M1470.9 425.5h0M1481.6 426.4h0M1479.3 426.3h0M1470.9 426.2h0M1473.7 426.7h0M1483.6 427.1h0M1483.8 427.3h0M1472.6 427.7h0M1474.1 428h0M1474.5 428.1h0M1478.8 428.3h0M1484.5 429.1h0M1477.5 429.2h0M1477 429.4h0M1483.9 429.5h0M1471.2 429.7h0M1470.8 429.9h0M1472.5 430.3h0M1470.5 430.4h0M1479.8 431.2h0M1470.1 431.1h0M1476.3 431h0M1475.4 432.1h0M1475.5 432.2h0M1483 432.2h0M1483.1 432.2h0M1474.4 432.7h0M1485.2 433.4h0M1476.9 433.5h0M1478.8 433.3h0M1484.3 433.9h0M1486 433.9h0M1475.4 434.8h0M1471.5 434.5h0M1476.2 435.2h0M1484.4 435.7h0M1483.7 435.4h0M1473.9 435.7h0M1482.4 436h0M1473.1 436.8h0M1482.1 437.1h0M1475.5 436.8h0M1475 437.3h0M1483 437.7h0M1476.8 437.6h0M1478.9 437.9h0M1482.6 438.7h0M1486.2 438.9h0M1481.8 439h0M1474.8 439.7h0M1475.1 439.8h0M1485.6 440.1h0M1483.2 440h0M1483.3 440.6h0M1475.6 440.7h0M1485.1 441.3h0M1483.8 441.5h0M1479.6 441.7h0M1484 441.9h0M1475.5 442.7h0M1478.9 443h0M1486.6 443.1h0M1478.2 443.3h0M1476.1 443.9h0M1483.6 443.8h0M1476 444.4h0M1478.5 445.1h0M1487.1 445.1h0M1481.6 445.5h0M1486.6 445.6h0M1486.8 446h0M1482.1 446h0M1482.4 446.8h0M1484.3 447.2h0M1485.9 447.7h0M1477.2 447.8h0M1478.5 448h0M1477.8 448.5h0M1478.3 448.4h0M1480.1 449.2h0M1479.6 449.6h0M1483.4 449.9h0M1478.7 450.5h0M1481.8 450.3h0M1487.1 450.9h0M1487.5 451.3h0M1487.3 451.7h0M1482.8 452.4h0M1479.8 452.5h0M1480.4 452.5h0M1480.2 453.5h0M1487.4 453.7h0M1482.1 453.7h0M1481.5 454.5h0M1487.7 455h0M1487.3 455.6h0M1484.6 456h0M1487.7 456h0M1483.6 456.4h0M1485.4 456.8h0M1486 457.5h0M1486.2 457.7h0M1487.1 458.5h0M1483.1 458.1h0M1483.2 458.9h0M1481.5 459.5h0M1484.2 459.7h0M1483.8 460.4h0M1483 460.5h0M1486.9 461.2h0M1483.3 461.1h0M1484.7 461.5h0M1487 462.5h0M1485.7 462.4h0M1486.3 463.2h0M1484.3 463.6h0M1483.6 464.3h0M1482.1 464.3h0M1484.9 465h0M1483.5 465.3h0M1485.2 466.1h0M1484.6 466.4h0M1486.8 466.8h0M1486.2 467h0M1483.4 467.1h0M1487.3 468h0M1487.2 468.4h0M1486.8 468.9h0M1484.4 469.1h0M1487 469.6h0M1483.2 470.3h0M1487.4 470.6h0M1484.4 470.6h0M1486.7 471.4h0M1486.5 472h0M1484.2 472.7h0M1482.8 472.5h0M1487.1 473.6h0M1482.1 473.9h0M1486.6 474.4h0M1487.4 474.8h0M1483.2 474.7h0M1483.1 475.7h0M1484.6 476h0M1484.7 476.3h0M1484.3 477.3h0M1483.5 477.2h0M1482.2 477.6h0M1484.9 478h0M1485.2 478.5h0M1482.7 479.4h0M1486.1 479.6h0M1483 480h0M1482.8 480.3h0M1485.9 481.1h0M1481.8 481.5h0M1482 481.8h0M1481.8 482.5h0M1485.8 482.7h0M1486.3 483.1h0M1483.6 483.8h0M1486.4 484.2h0M1486 484.9h0M1484.2 485.2h0M1484.7 485.2h0M1481.7 485.6h0M1482.1 486h0M1481.7 486.5h0M1482.4 487h0M1485.1 487.6h0M1482.2 488.4h0M1483.8 488.4h0M1485.1 489.1h0M1483.3 489.5h0M1481.8 489.9h0M1483.5 490.6h0M1481.2 490.9h0M1482 491.7h0M1481.4 492.1h0M1483 492.3h0M1485 492.9h0M1485.7 493.4h0M1480.8 493.9h0M1482.6 494.3h0M1480.3 494.9h0M1484.6 495.2h0M1483.5 495.7h0M1480.6 496.1h0M1484.5 496.2h0M1483 497.2h0M1481.4 497.7h0M1483.5 497.8h0M1484.6 498.1h0M1481.8 498.9h0M1482.1 499.5h0M1483.8 499.2h0M1480.2 500.2h0M1480.6 500.9h0M1482.3 501.2h0M1483 501.1h0M1480.6 501.8h0M1479.7 502h0M1483.6 502.9h0M1479.9 503.3h0M1478.9 503.5h0M1479.7 503.8h0M1480.5 504.3h0M1482.1 504.9h0M1478.5 505.3h0M1477.7 506h0M1482 506.5h0M1481.5 506.6h0M1478.1 507.4h0M1477.7 507.7h0M1480.8 508.2h0M1477.3 508.8h0M1481.5 509.4h0M1477.8 509.4h0M1480.4 510.3h0M1480.3 510.7h0M1481.5 511.3h0M1478.1 511.5h0M1481.1 511.8h0M1479 512.3h0M1481.1 512.6h0M1476.9 513.3h0M1477.7 513.4h0M1476.2 514.4h0M1476.5 514.9h0M1480 515.4h0M1477.7 515.4h0M1477.9 515.6h0M1479.4 516.3h0M1477.3 516.8h0M1478.7 517.7h0M1476.3 517.7h0M1475.2 517.9h0M1476.4 518.9h0M1475.8 519h0M1476.8 519.4h0M1476.7 519.9h0M1474.7 520.6h0M1479.7 520.6h0M1477.2 521.4h0M1477.1 521.6h0M1478.3 522.5h0M1475.8 523.1h0M1474.4 523.4h0M1478 523.8h0M1475.2 524h0M1478 524.5h0M1473.3 524.9h0M1476.6 525.3h0M1476.8 526.3h0M1476.9 526.3h0M1477.6 526.6h0M1472.8 527.1h0M1476 527.4h0M1472.8 528.2h0M1477.5 528.8h0M1473.2 529.4h0M1472.7 529.8h0M1474.3 530.2h0M1472.2 530.8h0M1473.1 530.9h0M1473.9 531.6h0M1476.2 532.2h0M1473.6 532.1h0M1475.7 532.8h0M1473.7 533.6h0M1474.3 533.4h0M1475 534.2h0M1472.4 535h0M1474.6 535.3h0M1474.8 535.6h0M1472.7 535.6h0M1474.5 536.6h0M1470.7 536.6h0M1472.8 537.2h0M1474.5 537.7h0M1471.1 537.9h0M1471.7 538.7h0M1470.7 538.8h0M1469.5 539.4h0M1470.2 540.3h0M1474.5 540.8h0M1471.9 541h0M1471.4 541.4h0M1470.7 541.5h0M1470.8 542.1h0M1471.1 542.5h0M1473 543.4h0M1472.9 543.6h0M1471.2 544.5h0M1471.9 544.8h0M1472.3 545.1h0M1468.8 545.7h0M1469.4 546.4h0M1468.6 546.9h0M1470.3 547.5h0M1470.3 547.4h0M1470.6 548.3h0M1470.1 548.4h0M1470.9 549.5h0M1471.2 549.7h0M1469.4 550h0M1468 550.9h0M1468.4 551.2h0M1469 551.4h0M1467.4 552.4h0M1469.3 552.5h0M1467.4 553.4h0M1470 553.4h0M1469.3 554.2h0M1468 555.2h0M1468 555.4h0M1467.1 555.9h0M1468.5 556.5h0M1466.6 557.1h0M1467.6 557.6h0M1468.9 557.9h0M1468.3 558.4h0M1466.9 559.2h0M1467.6 559.6h0M1467.1 560.4h0M1467.5 560.7h0M1466.1 561.4h0M1466 561.5h0M1467.2 562.2h0M1466 562.8h0M1465.3 563.2h0M1467.1 563.7h0M1466.9 564.5h0M1465 564.9h0M1466.8 565.5h0M1465.9 566.2h0M1466.9 566.8h0M1466.3 566.8h0M1465 567.7h0M1464.5 568h0M1464.2 568.9h0M1466.2 569h0M1464.3 569.9h0M1463.4 569.9h0M1464.8 570.5h0M1465.2 570.9h0M1465.7 571.7h0M1465.2 572.2h0M1464.5 573h0M1465.5 573.1h0M1465.3 574.2h0M1464.4 574.3h0M1463 575.2h0M1464.4 575.1h0M1463.5 575.6h0M1463.9 576.2h0M1463.2 577.3h0M1465 577.3h0M1462.1 577.8h0M1463.6 578.4h0M1461.7 579.1h0M1461.7 579.5h0M1461.7 580.4h0M1462.9 580.3h0M1463.2 581.2h0M1461.1 581.8h0M1462.6 582h0M1461.2 582.7h0M1461.2 583.4h0M1463.5 583.9h0M1461.8 584.3h0M1462.7 585h0M1463.3 585.1h0M1463.6 585.8h0M1461.4 586h0M1462.7 586.6h0M1460.6 587.4h0M1463.4 588.1h0M1460.5 588.6h0M1460.3 588.4h0M1461.7 589.2h0M1462.1 589.6h0M1462.2 590.5h0M1461.8 590.7h0M1460 591.6h0M1461.8 591.6h0M1463.2 592.1h0M1462 592.7h0M1462 593h0M1459.2 593.9h0M1462.2 593.9h0M1462.2 594.4h0M1460.4 595.6h0M1461.9 596.2h0M1461.6 596.5h0M1458.9 596.8h0M1462.1 597.6h0M1459.1 597.9h0M1460.6 598.7h0M1459.9 598.9h0M1460.6 599.5h0M1458.2 599.8h0M1458.2 600.7h0M1460.1 600.7h0M1459.5 601.2h0M1458.1 601.6h0M1458 602.5h0M1459.3 602.7h0M1460.7 603.1h0M1460.4 603.5h0M1458 604.6h0M1458 604.7h0M1460 604.9h0M1457.5 605.8h0M1457.7 606.1h0M1457.1 606.8h0M1457.5 607h0M1458.5 607.9h0M1459.1 608.1h0M1460.4 608.7h0M1458.7 609.2h0M1460.1 609.6h0M1459.7 609.9h0M1458 610.6h0M1457.4 611.2h0M1456.6 611.2h0M1457.7 612.2h0M1459.8 612.9h0M1458.6 613.2h0M1458.9 613.2h0M1457.2 614.4h0M1455.9 614.9h0M1455.9 614.7h0M1459.1 615.3h0M1456.5 616.3h0M1458.4 616.2h0M1456.6 616.7h0M1458.6 617.3h0M1457.4 617.8h0M1458.8 618.8h0M1456.6 619.3h0M1458.7 619.8h0M1457.2 620.3h0M1455.2 620.6h0M1455.8 621.3h0M1458.1 621.6h0M1457.1 621.7h0M1456.1 622.6h0M1458.2 623.1h0M1454.8 623.7h0M1454.8 623.7h0M1457 624.4h0M1456.4 625.1h0M1457.1 625.6h0M1457.3 625.5h0M1456.6 626.6h0M1457.8 626.8h0M1457.6 627.5h0M1455.4 628h0M1457 628.8h0M1455.9 628.7h0M1454.8 629.6h0M1456.6 630h0M1455.8 630.6h0M1453.9 630.8h0M1453.6 631.7h0M1454.6 631.9h0M1453.9 632.4h0M1456.1 632.9h0M1455.1 633.1h0M1453.5 633.6h0M1456.5 634.4h0M1454.6 635h0M1453.5 635.3h0M1455.5 636h0M1455 636.1h0M1453.5 636.8h0M1453.5 637.2h0M1454.7 637.5h0M1453.7 638.6h0M1453.5 638.8h0M1454.6 639.2h0M1454.5 639.5h0M1452.8 640.3h0M1454.2 640.7h0M1452.6 641.3h0M1454.3 641.6h0M1454.9 642.1h0M1454.4 642.8h0M1455.6 643.6h0M1455.5 643.5h0M1452.5 644.6h0M1454.2 644.6h0M1454.1 645.3h0M1452 646.1h0M1453.3 646.5h0M1455.3 646.7h0M1454 646.9h0M1452.2 648h0M1454 648.2h0M1454.9 648.7h0M1452 649.5h0M1454.4 649.6h0M1451.5 650.3h0M1453.7 650.4h0M1451.9 651.4h0M1454.2 651.5h0M1454.2 652.4h0M1451.8 652.5h0M1454.3 653.1h0M1451.1 654h0M1453.9 654.3h0M1452.4 655.2h0M1451.4 655.2h0M1453.4 655.8h0M1453.6 656h0M1452.5 656.6h0M1453.5 657.4h0M1453.4 658h0M1450.1 658.3h0M1451 658.6h0M1451.2 659.4h0M1452 659.5h0M1453.1 660.2h0M1450.9 660.8h0M1451.3 661.1h0M1453.8 662.1h0M1453.5 662.6h0M1451 663h0M1453.1 663.5h0M1451 663.7h0M1451.6 664h0M1452 664.5h0M1450.3 665.1h0M1452 666.2h0M1453 666.2h0M1452.7 666.6h0M1451.6 667.4h0M1453.1 668.1h0M1451.8 668.3h0M1451.5 669.2h0M1452.3 669h0M1452.3 669.6h0M1452.8 670.8h0M1450.2 670.8h0M1450.2 671.5h0M1450.2 671.6h0M1451.6 672.4h0M1450.3 672.9h0M1452.3 673.2h0M1450.4 673.7h0M1452.8 674.2h0M1451.5 674.8h0M1452.3 675.1h0M1450.1 676.1h0M1452.3 676.1h0M1450.8 677.2h0M1451.5 677.9h0M1452.1 678.2h0M1451.6 678.7h0M1452.8 678.8h0M1451.2 679.6h0M1452.3 680.1h0M1450.9 680.7h0M1449.7 681h0M1449.8 681.8h0M1449.9 681.9h0M1452.6 682.3h0M1452.7 683h0M1452.4 683.9h0M1451.3 684.3h0M1450.9 684.8h0M1451.5 685.3h0M1451.4 685.5h0M1450.9 686.4h0M1451.3 686.5h0M1451.7 687.4h0M1451 687.4h0M1451 688h0M1450.2 688.4h0M1449.8 689.3h0M1450.3 689.4h0M1452 689.8h0M1452.5 691.1h0M1452.1 691.5h0M1451.5 691.4h0M1449.8 692.5h0M1450.4 692.6h0M1451.5 693h0M1451.5 693.8h0M1449.9 694.1h0M1452.2 695h0M1452.4 695.1h0M1451.7 695.4h0M1452.5 696.4h0M1450.2 697.1h0M1449.5 697.6h0M1450.8 698.2h0M1449.8 698.7h0M1450.3 698.7h0M1449.6 699.1h0M1451.7 700h0M1451.6 700h0M1451 700.7h0M1449.6 701.6h0M1449.5 702.1h0M1452.1 702.7h0M1451.6 703h0M1449.9 703.3h0M1451.4 703.8h0M1452.2 704.2h0M1450.1 704.6h0M1450.2 705.2h0M1449.4 705.9h0M1450.4 706.2h0M1450 707.4h0M1452.3 707.5h0M1450.1 708.3h0M1450.3 708.4h0M1451.8 709.5h0M1450 709.7h0M1451.4 710.4h0M1449.8 711h0M1451.4 711.1h0M1452.1 711.8h0M1452.2 712.1h0M1450.7 712.6h0M1452.5 713h0M1451.8 713.9h0M1452 713.9h0M1451.2 714.8h0M1452.1 714.8h0M1450.4 716h0M1449.5 715.9h0M1452.3 716.3h0M1452.5 717h0M1452.6 717.9h0M1453.1 718.1h0M1451.3 718.9h0M1451.9 719.4h0M1452.5 719.6h0M1451.1 720.2h0M1452.8 720.6h0M1451.5 721.2h0M1452.4 721.7h0M1451.1 722.4h0M1452 723h0M1452.2 723.1h0M1453 723.7h0M1450.1 724h0M1450.9 724.4h0M1451.5 725h0M1451.3 726.1h0M1449.8 726.4h0M1453.1 726.9h0M1453.6 727.4h0M1453 727.7h0M1451.9 728.6h0M1450.6 728.5h0M1451.7 729h0M1450.2 729.9h0M1453.1 730.3h0M1453.3 730.6h0M1452.3 731.2h0M1453.6 732h0M1450.9 732.1h0M1450.8 732.7h0M1452 733.1h0M1450.8 733.9h0M1453.3 734.2h0M1452 734.6h0M1451 735.1h0M1453.7 736.1h0M1452.8 736.1h0M1450.9 736.5h0M1451.7 737.4h0M1453.5 738.2h0M1451.9 738.7h0M1453 739.2h0M1450.9 739h0M1454.4 739.7h0M1450.7 740.2h0M1453.9 741.1h0M1453.9 741.3h0M1452.4 742.2h0M1451.8 742.7h0M1453.2 743h0M1453.2 743.4h0M1454.2 744h0M1453.2 744.2h0M1454.6 744.6h0M1452.1 745.6h0M1454.4 745.7h0M1454.5 746.3h0M1454 747h0M1454.7 747.1h0M1451.6 748.2h0M1452.4 748.1h0M1452.7 748.7h0M1454.8 749.5h0M1455.5 750.2h0M1452.3 750.6h0M1452.6 750.7h0M1454 751.3h0M1453.9 752.2h0M1454.4 752.2h0M1452.1 752.7h0M1454.1 753.8h0M1454.9 753.5h0M1452.8 754.2h0M1455.4 754.8h0M1452.5 755.7h0M1455.9 756.1h0M1453.1 756h0M1455.2 757h0M1453 757.7h0M1453 757.8h0M1453 758.4h0M1453.5 758.6h0M1454.4 759.5h0M1455.4 760.2h0M1454 760.2h0M1454.1 760.6h0M1456.2 761.8h0M1453.7 761.9h0M1456.5 762.4h0M1456 762.6h0M1456.4 763.7h0M1454.4 763.6h0M1455.1 764.5h0M1456.4 764.8h0M1453.9 765.5h0M1456.1 765.6h0M1455 766.4h0M1455.2 766.8h0M1455.6 767.7h0M1455.4 767.6h0M1455.2 768.3h0M1454.3 768.5h0M1455.6 769h0M1457.6 769.8h0M1456.5 770.5h0M1457.3 771.1h0M1456.8 771h0M1457.1 771.6h0M1454.9 772.7h0M1456.2 772.9h0M1455.6 773.1h0M1456.6 773.7h0M1455.1 774.5h0M1458.2 774.8h0M1457.8 775.4h0M1457.8 775.7h0M1459 776.2h0M1457.9 776.5h0M1458.4 777h0M1459 777.9h0M1456.4 778.4h0M1457.2 778.5h0" fill="none" stroke="#0000FF" stroke-width="7.6" stroke-linecap="round"/>
</g>
<text transform="translate(1040 23.5) scale(1 1.04)" font-size="25" text-anchor="middle" fill="#666666" stroke="#666666" stroke-width="0.15">18</text>
<text transform="translate(1320 23.5) scale(1 1.04)" font-size="25" text-anchor="middle" fill="#666666" stroke="#666666" stroke-width="0.15">20</text>
<text transform="translate(1601 23.5) scale(1 1.04)" font-size="25" text-anchor="middle" fill="#666666" stroke="#666666" stroke-width="0.15">22</text>
<text transform="translate(1766 116.8) rotate(-90) scale(1 1.04)" font-size="25" text-anchor="middle" fill="#666666" stroke="#666666" stroke-width="0.15">24</text>
<text transform="translate(1766 285.5) rotate(-90) scale(1 1.04)" font-size="25" text-anchor="middle" fill="#666666" stroke="#666666" stroke-width="0.15">26</text>
<text transform="translate(1766 493.6) rotate(-90) scale(1 1.04)" font-size="25" text-anchor="middle" fill="#666666" stroke="#666666" stroke-width="0.15">28</text>
<rect x="997.45" y="35.55" width="732.05" height="771.35" fill="none" stroke="#000" stroke-width="2.9"/>
<text transform="translate(1084.5 867.4) scale(1 1.04)" font-size="33.3" text-anchor="middle" stroke="#000" stroke-width="0.15">31</text>
<text transform="translate(1186.7 867.4) scale(1 1.04)" font-size="33.3" text-anchor="middle" stroke="#000" stroke-width="0.15">32</text>
<text transform="translate(1288.9 867.4) scale(1 1.04)" font-size="33.3" text-anchor="middle" stroke="#000" stroke-width="0.15">33</text>
<text transform="translate(1391.1 867.4) scale(1 1.04)" font-size="33.3" text-anchor="middle" stroke="#000" stroke-width="0.15">34</text>
<text transform="translate(1493.3 867.4) scale(1 1.04)" font-size="33.3" text-anchor="middle" stroke="#000" stroke-width="0.15">35</text>
<text transform="translate(1595.5 867.4) scale(1 1.04)" font-size="33.3" text-anchor="middle" stroke="#000" stroke-width="0.15">36</text>
<text transform="translate(1697.7 867.4) scale(1 1.04)" font-size="33.3" text-anchor="middle" stroke="#000" stroke-width="0.15">37</text>
<text transform="translate(961.2 707.3) rotate(-90) scale(1 1.04)" font-size="33.3" text-anchor="middle" stroke="#000" stroke-width="0.15">5</text>
<text transform="translate(961.2 578.5) rotate(-90) scale(1 1.04)" font-size="33.3" text-anchor="middle" stroke="#000" stroke-width="0.15">10</text>
<text transform="translate(961.2 449.7) rotate(-90) scale(1 1.04)" font-size="33.3" text-anchor="middle" stroke="#000" stroke-width="0.15">15</text>
<text transform="translate(961.2 320.9) rotate(-90) scale(1 1.04)" font-size="33.3" text-anchor="middle" stroke="#000" stroke-width="0.15">20</text>
<text transform="translate(961.2 192.1) rotate(-90) scale(1 1.04)" font-size="33.3" text-anchor="middle" stroke="#000" stroke-width="0.15">25</text>
<text transform="translate(961.2 63.3) rotate(-90) scale(1 1.04)" font-size="33.3" text-anchor="middle" stroke="#000" stroke-width="0.15">30</text>
<path d="M1084.5 808.4v18.3M1186.7 808.4v18.3M1288.9 808.4v18.3M1391.1 808.4v18.3M1493.3 808.4v18.3M1595.5 808.4v18.3M1697.7 808.4v18.3M995.95 707.3h-18.3M995.95 578.5h-18.3M995.95 449.7h-18.3M995.95 320.9h-18.3M995.95 192.1h-18.3M995.95 63.3h-18.3" stroke="#000" stroke-width="2.7" stroke-linecap="round" fill="none"/>
<text transform="translate(0 912.9) scale(1 1.03)" font-size="33.2" stroke="#000" stroke-width="0.15"><tspan x="1191" y="0">Absolute Salinity [g</tspan><tspan x="1476.3" y="4.2" font-size="45.5" stroke-width="0">/</tspan><tspan x="1490.9" y="0">kg]</tspan></text>
<text transform="translate(902.7 421.4) rotate(-90) scale(1 1.03)" font-size="33.2" text-anchor="middle" stroke="#000" stroke-width="0.15">Conservative Temperature [°C]</text>
</svg>
</body></html>
